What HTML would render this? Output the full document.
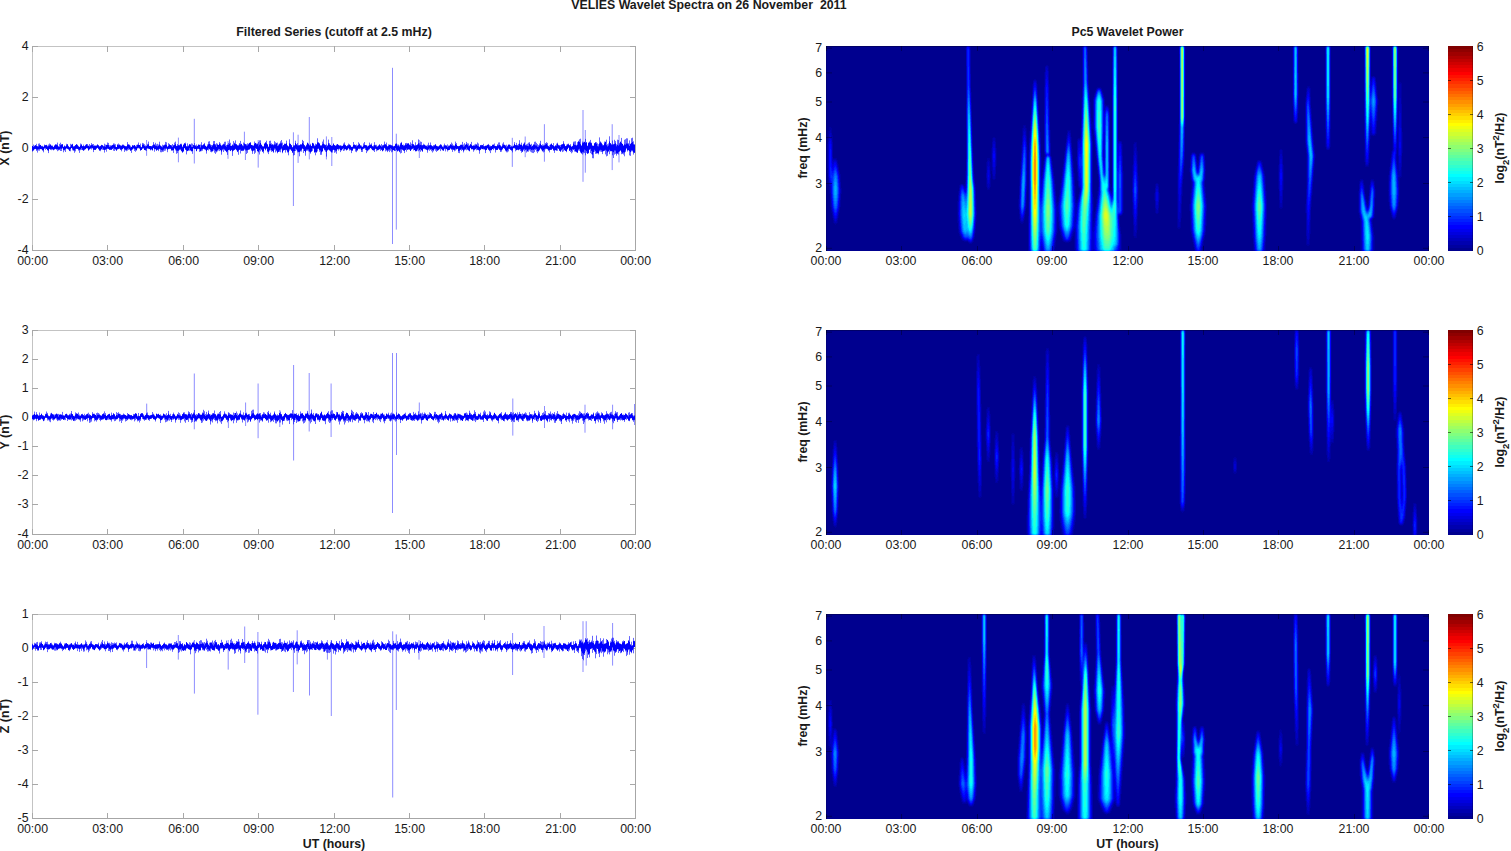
<!DOCTYPE html><html><head><meta charset="utf-8"><style>html,body{margin:0;padding:0;background:#fff;overflow:hidden}svg{display:block}text{font-family:"Liberation Sans",sans-serif;font-size:12.35px;fill:#1a1a1a}</style></head><body>
<svg width="1511" height="851" viewBox="0 0 1511 851">
<rect width="1511" height="851" fill="#fff"/>
<defs><filter id="jetf" x="-5%" y="-10%" width="110%" height="120%" color-interpolation-filters="sRGB"><feGaussianBlur stdDeviation="1.0 1.5"/><feComponentTransfer><feFuncR type="discrete" tableValues="0.0000 0.0000 0.0000 0.0000 0.0000 0.0000 0.0000 0.0000 0.0000 0.0000 0.0000 0.0000 0.0000 0.0000 0.0000 0.0000 0.0000 0.0000 0.0000 0.0000 0.0000 0.0000 0.0000 0.0000 0.0625 0.1250 0.1875 0.2500 0.3125 0.3750 0.4375 0.5000 0.5625 0.6250 0.6875 0.7500 0.8125 0.8750 0.9375 1.0000 1.0000 1.0000 1.0000 1.0000 1.0000 1.0000 1.0000 1.0000 1.0000 1.0000 1.0000 1.0000 1.0000 1.0000 1.0000 1.0000 0.9375 0.8750 0.8125 0.7500 0.6875 0.6250 0.5625 0.5000"/><feFuncG type="discrete" tableValues="0.0000 0.0000 0.0000 0.0000 0.0000 0.0000 0.0000 0.0000 0.0625 0.1250 0.1875 0.2500 0.3125 0.3750 0.4375 0.5000 0.5625 0.6250 0.6875 0.7500 0.8125 0.8750 0.9375 1.0000 1.0000 1.0000 1.0000 1.0000 1.0000 1.0000 1.0000 1.0000 1.0000 1.0000 1.0000 1.0000 1.0000 1.0000 1.0000 1.0000 0.9375 0.8750 0.8125 0.7500 0.6875 0.6250 0.5625 0.5000 0.4375 0.3750 0.3125 0.2500 0.1875 0.1250 0.0625 0.0000 0.0000 0.0000 0.0000 0.0000 0.0000 0.0000 0.0000 0.0000"/><feFuncB type="discrete" tableValues="0.5625 0.6250 0.6875 0.7500 0.8125 0.8750 0.9375 1.0000 1.0000 1.0000 1.0000 1.0000 1.0000 1.0000 1.0000 1.0000 1.0000 1.0000 1.0000 1.0000 1.0000 1.0000 1.0000 1.0000 0.9375 0.8750 0.8125 0.7500 0.6875 0.6250 0.5625 0.5000 0.4375 0.3750 0.3125 0.2500 0.1875 0.1250 0.0625 0.0000 0.0000 0.0000 0.0000 0.0000 0.0000 0.0000 0.0000 0.0000 0.0000 0.0000 0.0000 0.0000 0.0000 0.0000 0.0000 0.0000 0.0000 0.0000 0.0000 0.0000 0.0000 0.0000 0.0000 0.0000"/></feComponentTransfer></filter><linearGradient id="jetgrad" x1="0" y1="1" x2="0" y2="0"><stop offset="0.00000" stop-color="#00008f"/><stop offset="0.01562" stop-color="#00008f"/><stop offset="0.01562" stop-color="#00009f"/><stop offset="0.03125" stop-color="#00009f"/><stop offset="0.03125" stop-color="#0000af"/><stop offset="0.04688" stop-color="#0000af"/><stop offset="0.04688" stop-color="#0000bf"/><stop offset="0.06250" stop-color="#0000bf"/><stop offset="0.06250" stop-color="#0000cf"/><stop offset="0.07812" stop-color="#0000cf"/><stop offset="0.07812" stop-color="#0000df"/><stop offset="0.09375" stop-color="#0000df"/><stop offset="0.09375" stop-color="#0000ef"/><stop offset="0.10938" stop-color="#0000ef"/><stop offset="0.10938" stop-color="#0000ff"/><stop offset="0.12500" stop-color="#0000ff"/><stop offset="0.12500" stop-color="#0010ff"/><stop offset="0.14062" stop-color="#0010ff"/><stop offset="0.14062" stop-color="#0020ff"/><stop offset="0.15625" stop-color="#0020ff"/><stop offset="0.15625" stop-color="#0030ff"/><stop offset="0.17188" stop-color="#0030ff"/><stop offset="0.17188" stop-color="#0040ff"/><stop offset="0.18750" stop-color="#0040ff"/><stop offset="0.18750" stop-color="#0050ff"/><stop offset="0.20312" stop-color="#0050ff"/><stop offset="0.20312" stop-color="#0060ff"/><stop offset="0.21875" stop-color="#0060ff"/><stop offset="0.21875" stop-color="#0070ff"/><stop offset="0.23438" stop-color="#0070ff"/><stop offset="0.23438" stop-color="#0080ff"/><stop offset="0.25000" stop-color="#0080ff"/><stop offset="0.25000" stop-color="#008fff"/><stop offset="0.26562" stop-color="#008fff"/><stop offset="0.26562" stop-color="#009fff"/><stop offset="0.28125" stop-color="#009fff"/><stop offset="0.28125" stop-color="#00afff"/><stop offset="0.29688" stop-color="#00afff"/><stop offset="0.29688" stop-color="#00bfff"/><stop offset="0.31250" stop-color="#00bfff"/><stop offset="0.31250" stop-color="#00cfff"/><stop offset="0.32812" stop-color="#00cfff"/><stop offset="0.32812" stop-color="#00dfff"/><stop offset="0.34375" stop-color="#00dfff"/><stop offset="0.34375" stop-color="#00efff"/><stop offset="0.35938" stop-color="#00efff"/><stop offset="0.35938" stop-color="#00ffff"/><stop offset="0.37500" stop-color="#00ffff"/><stop offset="0.37500" stop-color="#10ffef"/><stop offset="0.39062" stop-color="#10ffef"/><stop offset="0.39062" stop-color="#20ffdf"/><stop offset="0.40625" stop-color="#20ffdf"/><stop offset="0.40625" stop-color="#30ffcf"/><stop offset="0.42188" stop-color="#30ffcf"/><stop offset="0.42188" stop-color="#40ffbf"/><stop offset="0.43750" stop-color="#40ffbf"/><stop offset="0.43750" stop-color="#50ffaf"/><stop offset="0.45312" stop-color="#50ffaf"/><stop offset="0.45312" stop-color="#60ff9f"/><stop offset="0.46875" stop-color="#60ff9f"/><stop offset="0.46875" stop-color="#70ff8f"/><stop offset="0.48438" stop-color="#70ff8f"/><stop offset="0.48438" stop-color="#80ff80"/><stop offset="0.50000" stop-color="#80ff80"/><stop offset="0.50000" stop-color="#8fff70"/><stop offset="0.51562" stop-color="#8fff70"/><stop offset="0.51562" stop-color="#9fff60"/><stop offset="0.53125" stop-color="#9fff60"/><stop offset="0.53125" stop-color="#afff50"/><stop offset="0.54688" stop-color="#afff50"/><stop offset="0.54688" stop-color="#bfff40"/><stop offset="0.56250" stop-color="#bfff40"/><stop offset="0.56250" stop-color="#cfff30"/><stop offset="0.57812" stop-color="#cfff30"/><stop offset="0.57812" stop-color="#dfff20"/><stop offset="0.59375" stop-color="#dfff20"/><stop offset="0.59375" stop-color="#efff10"/><stop offset="0.60938" stop-color="#efff10"/><stop offset="0.60938" stop-color="#ffff00"/><stop offset="0.62500" stop-color="#ffff00"/><stop offset="0.62500" stop-color="#ffef00"/><stop offset="0.64062" stop-color="#ffef00"/><stop offset="0.64062" stop-color="#ffdf00"/><stop offset="0.65625" stop-color="#ffdf00"/><stop offset="0.65625" stop-color="#ffcf00"/><stop offset="0.67188" stop-color="#ffcf00"/><stop offset="0.67188" stop-color="#ffbf00"/><stop offset="0.68750" stop-color="#ffbf00"/><stop offset="0.68750" stop-color="#ffaf00"/><stop offset="0.70312" stop-color="#ffaf00"/><stop offset="0.70312" stop-color="#ff9f00"/><stop offset="0.71875" stop-color="#ff9f00"/><stop offset="0.71875" stop-color="#ff8f00"/><stop offset="0.73438" stop-color="#ff8f00"/><stop offset="0.73438" stop-color="#ff8000"/><stop offset="0.75000" stop-color="#ff8000"/><stop offset="0.75000" stop-color="#ff7000"/><stop offset="0.76562" stop-color="#ff7000"/><stop offset="0.76562" stop-color="#ff6000"/><stop offset="0.78125" stop-color="#ff6000"/><stop offset="0.78125" stop-color="#ff5000"/><stop offset="0.79688" stop-color="#ff5000"/><stop offset="0.79688" stop-color="#ff4000"/><stop offset="0.81250" stop-color="#ff4000"/><stop offset="0.81250" stop-color="#ff3000"/><stop offset="0.82812" stop-color="#ff3000"/><stop offset="0.82812" stop-color="#ff2000"/><stop offset="0.84375" stop-color="#ff2000"/><stop offset="0.84375" stop-color="#ff1000"/><stop offset="0.85938" stop-color="#ff1000"/><stop offset="0.85938" stop-color="#ff0000"/><stop offset="0.87500" stop-color="#ff0000"/><stop offset="0.87500" stop-color="#ef0000"/><stop offset="0.89062" stop-color="#ef0000"/><stop offset="0.89062" stop-color="#df0000"/><stop offset="0.90625" stop-color="#df0000"/><stop offset="0.90625" stop-color="#cf0000"/><stop offset="0.92188" stop-color="#cf0000"/><stop offset="0.92188" stop-color="#bf0000"/><stop offset="0.93750" stop-color="#bf0000"/><stop offset="0.93750" stop-color="#af0000"/><stop offset="0.95312" stop-color="#af0000"/><stop offset="0.95312" stop-color="#9f0000"/><stop offset="0.96875" stop-color="#9f0000"/><stop offset="0.96875" stop-color="#8f0000"/><stop offset="0.98438" stop-color="#8f0000"/><stop offset="0.98438" stop-color="#800000"/><stop offset="1.00000" stop-color="#800000"/></linearGradient></defs>
<text x="709" y="9" text-anchor="middle" font-weight="bold">VELIES Wavelet Spectra on 26 November&#160; 2011</text>
<text x="334" y="36" text-anchor="middle" font-weight="bold">Filtered Series (cutoff at 2.5 mHz)</text>
<text x="1127.5" y="36" text-anchor="middle" font-weight="bold">Pc5 Wavelet Power</text>
<rect x="32" y="46" width="604" height="1" fill="#c3c3c3"/>
<rect x="32" y="46" width="1" height="205" fill="#c3c3c3"/>
<rect x="32" y="250" width="604" height="1" fill="#a6a6a6"/>
<rect x="635" y="46" width="1" height="205" fill="#a6a6a6"/>
<rect x="32" y="46" width="1" height="6" fill="#a8a8a8"/>
<rect x="32" y="245" width="1" height="6" fill="#a8a8a8"/>
<text x="32.6" y="265" text-anchor="middle">00:00</text>
<rect x="107" y="46" width="1" height="6" fill="#a8a8a8"/>
<rect x="107" y="245" width="1" height="6" fill="#a8a8a8"/>
<text x="107.6" y="265" text-anchor="middle">03:00</text>
<rect x="183" y="46" width="1" height="6" fill="#a8a8a8"/>
<rect x="183" y="245" width="1" height="6" fill="#a8a8a8"/>
<text x="183.6" y="265" text-anchor="middle">06:00</text>
<rect x="258" y="46" width="1" height="6" fill="#a8a8a8"/>
<rect x="258" y="245" width="1" height="6" fill="#a8a8a8"/>
<text x="258.6" y="265" text-anchor="middle">09:00</text>
<rect x="334" y="46" width="1" height="6" fill="#a8a8a8"/>
<rect x="334" y="245" width="1" height="6" fill="#a8a8a8"/>
<text x="334.6" y="265" text-anchor="middle">12:00</text>
<rect x="409" y="46" width="1" height="6" fill="#a8a8a8"/>
<rect x="409" y="245" width="1" height="6" fill="#a8a8a8"/>
<text x="409.6" y="265" text-anchor="middle">15:00</text>
<rect x="484" y="46" width="1" height="6" fill="#a8a8a8"/>
<rect x="484" y="245" width="1" height="6" fill="#a8a8a8"/>
<text x="484.6" y="265" text-anchor="middle">18:00</text>
<rect x="560" y="46" width="1" height="6" fill="#a8a8a8"/>
<rect x="560" y="245" width="1" height="6" fill="#a8a8a8"/>
<text x="560.6" y="265" text-anchor="middle">21:00</text>
<rect x="635" y="46" width="1" height="6" fill="#a8a8a8"/>
<rect x="635" y="245" width="1" height="6" fill="#a8a8a8"/>
<text x="635.6" y="265" text-anchor="middle">00:00</text>
<rect x="32" y="46" width="6" height="1" fill="#a8a8a8"/>
<rect x="630" y="46" width="6" height="1" fill="#a8a8a8"/>
<text x="28.5" y="50.2" text-anchor="end">4</text>
<rect x="32" y="97" width="6" height="1" fill="#a8a8a8"/>
<rect x="630" y="97" width="6" height="1" fill="#a8a8a8"/>
<text x="28.5" y="101.2" text-anchor="end">2</text>
<rect x="32" y="148" width="6" height="1" fill="#a8a8a8"/>
<rect x="630" y="148" width="6" height="1" fill="#a8a8a8"/>
<text x="28.5" y="152.2" text-anchor="end">0</text>
<rect x="32" y="199" width="6" height="1" fill="#a8a8a8"/>
<rect x="630" y="199" width="6" height="1" fill="#a8a8a8"/>
<text x="28.5" y="203.2" text-anchor="end">-2</text>
<rect x="32" y="250" width="6" height="1" fill="#a8a8a8"/>
<rect x="630" y="250" width="6" height="1" fill="#a8a8a8"/>
<text x="28.5" y="254.2" text-anchor="end">-4</text>
<path d="M32.5 146.0V151.6M33.5 144.6V150.5M34.5 145.6V149.4M35.5 145.0V148.9M36.5 143.8V150.9M37.5 146.3V152.6M38.5 143.7V150.6M39.5 143.4V150.7M40.5 144.9V149.2M41.5 145.9V149.4M42.5 145.8V150.7M43.5 146.7V152.3M44.5 144.5V148.8M45.5 145.2V149.8M46.5 144.8V149.0M47.5 145.7V150.2M48.5 144.5V153.1M49.5 143.5V149.1M50.5 144.3V149.6M51.5 145.6V150.2M52.5 145.5V149.4M53.5 146.8V150.4M54.5 145.3V149.8M55.5 144.3V149.1M56.5 144.2V149.5M57.5 142.6V151.2M58.5 146.3V150.5M59.5 143.9V150.1M60.5 142.7V151.0M61.5 144.2V151.0M62.5 144.3V148.6M63.5 146.8V152.3M64.5 145.4V150.6M65.5 146.2V152.0M66.5 143.8V148.6M67.5 144.0V148.9M68.5 145.9V149.7M69.5 147.0V151.1M70.5 143.8V151.3M71.5 144.6V148.1M72.5 143.8V150.3M73.5 146.3V150.7M74.5 145.9V152.8M75.5 145.0V151.4M76.5 144.0V148.8M77.5 144.7V149.0M78.5 145.9V150.6M79.5 146.8V152.9M80.5 143.5V150.2M81.5 143.9V149.9M82.5 146.2V150.1M83.5 144.6V150.9M84.5 146.2V150.2M85.5 144.8V149.3M86.5 144.2V148.4M87.5 144.0V148.3M88.5 145.7V150.5M89.5 144.0V149.5M90.5 145.4V148.6M91.5 143.1V149.5M92.5 144.1V148.5M93.5 144.0V152.1M94.5 145.5V149.9M95.5 145.5V149.8M96.5 145.3V148.6M97.5 144.6V147.9M98.5 145.4V149.3M99.5 146.4V150.6M100.5 145.8V151.2M101.5 144.8V149.5M102.5 145.1V149.8M103.5 145.9V150.0M104.5 143.7V152.6M105.5 144.6V149.6M106.5 144.8V151.7M107.5 142.5V148.7M108.5 142.9V148.9M109.5 145.3V149.8M110.5 145.2V149.9M111.5 145.7V150.0M112.5 144.9V149.1M113.5 143.4V150.7M114.5 143.6V151.0M115.5 144.2V149.4M116.5 147.0V150.8M117.5 144.4V149.4M118.5 143.5V149.1M119.5 144.4V148.8M120.5 145.0V149.8M121.5 145.6V151.3M122.5 144.5V149.3M123.5 144.6V148.2M124.5 145.6V151.9M125.5 146.1V150.5M126.5 146.3V151.2M127.5 142.1V150.6M128.5 144.3V149.9M129.5 144.6V149.4M130.5 145.7V150.9M131.5 146.8V152.9M132.5 145.2V149.4M133.5 145.6V148.4M134.5 145.0V151.0M135.5 145.9V151.8M136.5 144.9V150.3M137.5 144.4V148.4M138.5 142.5V148.3M139.5 145.0V148.7M140.5 143.6V150.5M141.5 146.9V150.0M142.5 142.9V148.7M143.5 143.3V148.3M144.5 144.2V150.0M145.5 145.4V150.5M146.5 145.9V150.9M147.5 143.8V148.4M148.5 141.6V149.1M149.5 145.9V149.1M150.5 146.0V150.4M151.5 146.1V149.4M152.5 145.0V150.6M153.5 142.1V148.2M154.5 144.3V151.7M155.5 142.8V149.3M156.5 144.4V150.7M157.5 143.8V149.8M158.5 144.6V151.1M159.5 141.7V149.2M160.5 145.7V152.2M161.5 146.5V152.3M162.5 144.7V151.9M163.5 145.3V151.7M164.5 144.6V150.8M165.5 141.9V150.6M166.5 142.3V148.6M167.5 146.6V152.2M168.5 143.2V149.2M169.5 143.9V149.1M170.5 145.0V148.9M171.5 145.0V150.5M172.5 144.0V150.6M173.5 145.2V152.9M174.5 142.6V148.8M175.5 141.6V150.4M176.5 145.8V153.8M177.5 144.0V153.1M178.5 145.0V150.9M179.5 144.8V150.2M180.5 143.8V150.1M181.5 143.7V151.4M182.5 146.4V152.9M183.5 144.6V151.7M184.5 143.2V148.3M185.5 142.6V149.9M186.5 146.2V154.4M187.5 143.4V151.2M188.5 145.4V150.7M189.5 144.2V150.7M190.5 144.5V150.8M191.5 143.4V151.3M192.5 143.7V153.8M193.5 145.0V148.5M194.5 143.1V148.9M195.5 145.3V149.1M196.5 144.5V151.3M197.5 145.9V149.3M198.5 144.7V149.0M199.5 144.7V151.9M200.5 144.5V151.4M201.5 142.2V151.2M202.5 145.0V150.7M203.5 144.2V148.7M204.5 142.9V149.4M205.5 145.6V150.2M206.5 146.7V153.6M207.5 144.4V149.8M208.5 141.6V150.5M209.5 141.2V149.3M210.5 144.3V151.8M211.5 145.0V152.3M212.5 144.9V151.6M213.5 141.1V150.7M214.5 141.0V152.7M215.5 144.1V153.9M216.5 143.2V152.4M217.5 143.7V151.4M218.5 144.9V150.5M219.5 142.1V151.1M220.5 143.4V150.3M221.5 145.3V154.7M222.5 144.6V150.3M223.5 143.7V152.0M224.5 141.8V150.3M225.5 141.7V150.9M226.5 145.0V152.3M227.5 144.4V154.9M228.5 142.9V150.1M229.5 139.5V150.3M230.5 142.8V151.1M231.5 145.7V150.2M232.5 144.4V155.9M233.5 141.1V150.8M234.5 142.7V150.0M235.5 140.4V149.3M236.5 144.3V150.4M237.5 145.2V152.1M238.5 144.8V154.8M239.5 143.0V150.0M240.5 140.9V153.5M241.5 143.8V150.9M242.5 145.0V151.1M243.5 142.5V150.8M244.5 143.4V149.1M245.5 144.2V150.6M246.5 144.2V154.0M247.5 143.3V152.9M248.5 143.7V150.0M249.5 142.8V149.4M250.5 142.0V148.8M251.5 144.9V150.8M252.5 145.3V153.9M253.5 145.4V150.9M254.5 141.5V153.9M255.5 142.9V152.7M256.5 143.5V148.9M257.5 143.5V151.4M258.5 141.9V152.4M259.5 140.4V154.5M260.5 140.3V151.4M261.5 144.6V150.2M262.5 145.9V151.9M263.5 146.5V153.3M264.5 143.6V148.5M265.5 142.1V150.4M266.5 140.7V148.7M267.5 144.3V152.4M268.5 146.6V154.1M269.5 140.9V151.3M270.5 140.7V150.4M271.5 143.3V151.9M272.5 144.0V151.3M273.5 144.5V152.8M274.5 141.2V149.8M275.5 142.3V152.4M276.5 142.9V151.3M277.5 142.6V153.3M278.5 144.5V151.9M279.5 143.4V151.8M280.5 141.3V152.3M281.5 140.0V149.5M282.5 142.6V153.2M283.5 145.1V150.6M284.5 143.5V150.1M285.5 143.7V152.6M286.5 140.6V150.3M287.5 145.1V152.6M288.5 146.1V155.3M289.5 139.3V150.6M290.5 143.9V149.8M291.5 145.0V150.9M292.5 147.1V153.0M293.5 145.2V155.5M294.5 145.4V155.1M295.5 140.7V151.0M296.5 144.4V150.2M297.5 143.1V152.4M298.5 145.3V152.3M299.5 145.1V156.3M300.5 144.1V151.5M301.5 144.5V151.6M302.5 139.9V149.0M303.5 141.1V153.0M304.5 145.0V151.1M305.5 146.5V155.7M306.5 144.6V150.9M307.5 142.8V150.7M308.5 143.5V151.4M309.5 145.0V152.1M310.5 143.8V153.7M311.5 145.9V151.7M312.5 142.8V150.9M313.5 143.1V148.9M314.5 145.3V152.6M315.5 143.7V155.3M316.5 144.1V152.8M317.5 138.3V151.4M318.5 142.0V148.6M319.5 143.0V151.8M320.5 145.2V154.8M321.5 145.1V154.8M322.5 141.6V151.5M323.5 139.5V148.6M324.5 144.3V150.3M325.5 144.8V151.8M326.5 144.5V156.6M327.5 145.3V150.7M328.5 139.6V149.6M329.5 143.2V150.5M330.5 144.8V151.7M331.5 145.9V152.3M332.5 145.5V152.5M333.5 143.4V149.8M334.5 145.1V152.8M335.5 145.6V152.3M336.5 144.5V153.7M337.5 144.0V149.2M338.5 144.8V150.6M339.5 145.4V149.3M340.5 145.2V152.1M341.5 145.6V150.5M342.5 145.9V149.4M343.5 143.5V151.0M344.5 142.4V150.6M345.5 144.9V149.4M346.5 146.0V150.5M347.5 145.4V149.9M348.5 143.6V148.5M349.5 144.5V150.6M350.5 145.3V150.2M351.5 146.9V153.1M352.5 146.5V150.9M353.5 142.0V148.9M354.5 144.4V148.9M355.5 145.0V151.6M356.5 144.6V152.2M357.5 145.6V150.6M358.5 142.3V148.8M359.5 143.5V149.2M360.5 145.5V149.2M361.5 145.5V152.0M362.5 146.7V151.9M363.5 143.4V148.8M364.5 142.0V148.6M365.5 145.0V150.0M366.5 145.1V153.1M367.5 145.8V151.4M368.5 145.6V150.3M369.5 142.6V149.5M370.5 144.6V148.1M371.5 143.4V149.2M372.5 146.0V150.2M373.5 145.4V150.9M374.5 142.2V152.0M375.5 144.8V148.7M376.5 144.8V151.3M377.5 146.3V150.5M378.5 145.6V150.1M379.5 144.4V149.3M380.5 145.6V150.9M381.5 144.0V150.0M382.5 145.0V151.4M383.5 144.8V150.5M384.5 141.6V148.3M385.5 144.2V151.4M386.5 142.6V150.7M387.5 146.2V152.1M388.5 144.4V150.9M389.5 144.7V152.1M390.5 144.6V150.7M391.5 145.1V152.3M392.5 145.6V151.7M393.5 146.4V150.2M394.5 145.8V151.0M395.5 143.7V151.0M396.5 143.4V150.1M397.5 144.5V151.5M398.5 144.5V150.9M399.5 145.5V152.2M400.5 142.9V153.5M401.5 141.9V152.9M402.5 144.8V149.8M403.5 144.6V150.8M404.5 145.4V153.1M405.5 143.0V150.0M406.5 142.9V151.7M407.5 143.4V149.9M408.5 143.2V149.7M409.5 144.5V149.6M410.5 142.3V151.0M411.5 143.7V149.5M412.5 140.3V148.9M413.5 144.4V150.5M414.5 145.3V150.1M415.5 142.3V151.5M416.5 145.1V151.3M417.5 144.1V150.5M418.5 139.4V151.3M419.5 143.3V150.3M420.5 141.5V151.8M421.5 141.9V150.3M422.5 145.0V151.8M423.5 143.7V148.7M424.5 144.7V149.2M425.5 145.3V149.4M426.5 145.6V149.7M427.5 144.8V152.7M428.5 142.7V150.1M429.5 145.3V150.8M430.5 142.5V150.0M431.5 145.2V151.2M432.5 146.1V152.5M433.5 145.1V151.3M434.5 144.9V149.4M435.5 144.3V150.8M436.5 145.8V151.9M437.5 146.2V150.8M438.5 146.2V150.2M439.5 145.5V149.3M440.5 144.4V151.1M441.5 144.7V149.4M442.5 146.5V150.5M443.5 145.5V150.7M444.5 143.6V149.2M445.5 145.0V151.4M446.5 145.7V149.1M447.5 144.4V151.5M448.5 145.5V150.2M449.5 145.7V150.0M450.5 144.4V148.8M451.5 142.5V149.9M452.5 143.7V151.9M453.5 145.2V150.0M454.5 145.5V151.3M455.5 141.6V150.6M456.5 143.1V149.6M457.5 145.9V148.9M458.5 146.1V152.9M459.5 145.8V153.2M460.5 144.7V149.8M461.5 144.6V150.8M462.5 141.9V150.0M463.5 144.5V152.4M464.5 143.2V150.4M465.5 144.5V149.7M466.5 141.9V150.3M467.5 143.3V150.0M468.5 143.5V150.4M469.5 145.7V151.4M470.5 143.9V148.2M471.5 141.9V149.4M472.5 145.8V149.4M473.5 145.2V151.7M474.5 144.6V150.3M475.5 143.8V149.3M476.5 144.5V150.3M477.5 142.5V149.7M478.5 143.5V150.3M479.5 146.8V153.7M480.5 145.2V150.1M481.5 144.9V149.1M482.5 145.0V149.2M483.5 143.8V149.5M484.5 146.3V149.5M485.5 145.7V153.1M486.5 145.7V149.9M487.5 144.7V148.4M488.5 143.9V149.9M489.5 145.1V151.2M490.5 145.7V153.1M491.5 146.0V150.3M492.5 144.6V149.1M493.5 144.4V150.1M494.5 143.5V148.4M495.5 145.9V152.5M496.5 146.2V150.1M497.5 144.2V149.8M498.5 142.5V148.8M499.5 142.4V149.8M500.5 145.1V152.0M501.5 146.5V151.7M502.5 143.6V149.7M503.5 142.3V148.1M504.5 144.6V148.9M505.5 145.1V151.2M506.5 144.7V152.3M507.5 145.7V152.3M508.5 144.6V151.4M509.5 144.4V149.0M510.5 145.1V149.9M511.5 145.8V150.4M512.5 146.5V152.4M513.5 145.7V148.2M514.5 142.1V148.5M515.5 145.0V151.3M516.5 142.9V150.2M517.5 144.9V149.7M518.5 143.9V150.3M519.5 140.2V149.5M520.5 144.5V151.0M521.5 142.7V152.8M522.5 145.5V152.0M523.5 143.7V150.4M524.5 142.3V151.3M525.5 145.1V150.2M526.5 144.3V152.6M527.5 143.7V151.4M528.5 142.7V151.7M529.5 142.2V150.4M530.5 144.8V151.6M531.5 143.8V152.4M532.5 145.8V152.9M533.5 144.4V153.1M534.5 141.8V152.1M535.5 141.6V150.0M536.5 142.9V151.6M537.5 144.1V153.2M538.5 145.1V151.5M539.5 143.5V150.5M540.5 140.8V148.5M541.5 145.0V150.2M542.5 144.3V151.5M543.5 144.7V152.4M544.5 144.8V151.7M545.5 143.0V149.4M546.5 142.2V148.8M547.5 142.9V149.4M548.5 145.9V150.6M549.5 145.3V152.4M550.5 144.2V150.0M551.5 143.6V150.0M552.5 145.0V148.9M553.5 143.1V150.8M554.5 146.5V152.9M555.5 145.2V150.3M556.5 143.6V150.5M557.5 142.7V150.8M558.5 144.8V148.9M559.5 145.4V151.0M560.5 145.0V151.8M561.5 144.3V150.5M562.5 144.2V152.1M563.5 141.2V151.4M564.5 143.8V150.3M565.5 146.1V151.0M566.5 144.6V152.2M567.5 143.9V149.2M568.5 143.6V147.8M569.5 145.1V151.0M570.5 144.1V152.0M571.5 146.5V153.3M572.5 145.8V152.3M573.5 141.7V150.1M574.5 141.5V151.5M575.5 141.3V151.8M576.5 144.8V152.4M577.5 142.1V152.9M578.5 140.8V150.6M579.5 139.3V150.8M580.5 138.7V152.7M581.5 145.6V153.7M582.5 141.6V154.6M583.5 141.8V153.3M584.5 141.7V153.1M585.5 138.9V155.3M586.5 142.0V153.0M587.5 145.5V153.9M588.5 142.5V153.4M589.5 141.5V150.0M590.5 139.9V153.1M591.5 142.7V154.2M592.5 145.7V158.2M593.5 145.6V158.3M594.5 143.0V151.7M595.5 142.3V153.9M596.5 142.2V153.8M597.5 143.3V153.4M598.5 144.2V154.4M599.5 137.4V151.5M600.5 141.4V151.6M601.5 142.6V152.0M602.5 144.2V154.1M603.5 145.0V151.3M604.5 141.5V151.0M605.5 141.6V154.4M606.5 139.7V156.4M607.5 144.2V155.8M608.5 143.4V151.5M609.5 136.3V154.2M610.5 143.2V151.4M611.5 144.0V151.2M612.5 140.5V155.3M613.5 143.9V158.0M614.5 139.8V154.6M615.5 141.1V153.9M616.5 144.3V155.6M617.5 139.7V153.8M618.5 140.0V154.6M619.5 143.0V151.6M620.5 141.6V150.5M621.5 137.9V154.2M622.5 143.9V154.0M623.5 145.5V154.6M624.5 139.8V156.3M625.5 139.2V152.1M626.5 138.3V148.8M627.5 138.4V151.5M628.5 143.2V150.2M629.5 140.4V155.4M630.5 143.6V155.9M631.5 138.2V151.4M632.5 137.7V151.4M633.5 141.3V154.6M634.5 144.4V152.9" fill="none" stroke="#0000ff" stroke-opacity="0.6" stroke-width="1"/><path d="M32.5 146.0V150.8M33.5 147.0V150.3M34.5 146.2V149.1M35.5 145.3V148.7M36.5 146.0V149.5M37.5 146.4V149.6M38.5 146.5V149.1M39.5 145.3V148.9M40.5 145.1V149.0M41.5 146.4V149.0M42.5 146.5V150.0M43.5 146.9V150.4M44.5 145.5V148.1M45.5 145.3V147.9M46.5 145.2V148.9M47.5 146.6V150.2M48.5 146.2V150.7M49.5 145.5V148.9M50.5 144.8V149.4M51.5 145.8V148.9M52.5 146.3V149.3M53.5 147.1V149.8M54.5 145.8V149.0M55.5 144.7V148.8M56.5 145.1V149.3M57.5 145.3V149.1M58.5 146.7V149.6M59.5 146.9V149.3M60.5 145.2V148.6M61.5 144.8V148.8M62.5 144.3V147.8M63.5 146.9V149.9M64.5 146.2V149.8M65.5 146.7V149.2M66.5 145.4V148.2M67.5 144.7V148.7M68.5 146.5V149.2M69.5 147.4V150.7M70.5 146.7V149.1M71.5 144.8V148.0M72.5 144.3V148.7M73.5 146.7V150.2M74.5 146.4V150.5M75.5 145.3V148.9M76.5 144.4V148.6M77.5 145.3V148.9M78.5 146.6V149.5M79.5 147.0V150.0M80.5 145.6V149.1M81.5 145.0V148.0M82.5 146.2V149.7M83.5 146.1V150.4M84.5 146.3V149.5M85.5 145.5V149.0M86.5 144.4V148.0M87.5 145.6V148.3M88.5 145.9V150.3M89.5 146.6V149.2M90.5 145.6V148.4M91.5 145.1V147.8M92.5 145.1V148.0M93.5 146.1V149.8M94.5 145.8V149.7M95.5 145.9V149.8M96.5 145.9V148.5M97.5 144.6V147.8M98.5 145.4V148.8M99.5 146.5V150.4M100.5 146.2V150.0M101.5 145.1V149.0M102.5 145.4V147.7M103.5 146.5V149.4M104.5 146.3V150.0M105.5 146.8V149.6M106.5 145.0V149.0M107.5 144.9V148.5M108.5 145.1V148.9M109.5 147.0V149.7M110.5 146.5V149.6M111.5 145.7V149.6M112.5 145.2V148.7M113.5 144.7V147.9M114.5 145.2V148.8M115.5 146.7V149.3M116.5 147.1V150.4M117.5 144.8V149.2M118.5 145.3V148.8M119.5 145.1V148.4M120.5 146.1V149.5M121.5 145.9V149.7M122.5 145.2V149.0M123.5 145.3V148.2M124.5 145.9V149.3M125.5 146.4V149.7M126.5 146.4V149.9M127.5 144.7V148.9M128.5 144.6V148.3M129.5 145.3V149.3M130.5 147.4V150.5M131.5 147.0V150.1M132.5 145.5V149.3M133.5 145.7V148.4M134.5 145.1V148.8M135.5 146.7V149.5M136.5 146.8V150.3M137.5 145.1V148.2M138.5 144.8V147.7M139.5 145.0V148.3M140.5 146.5V150.4M141.5 147.3V150.0M142.5 144.7V148.4M143.5 144.6V148.3M144.5 146.0V149.9M145.5 146.5V150.1M146.5 146.2V148.8M147.5 145.1V148.3M148.5 144.3V148.4M149.5 146.0V149.0M150.5 146.1V149.7M151.5 146.4V149.3M152.5 146.2V150.1M153.5 144.6V148.1M154.5 144.9V149.0M155.5 145.7V149.1M156.5 146.1V150.4M157.5 146.4V149.6M158.5 146.0V149.5M159.5 144.6V148.7M160.5 145.7V149.3M161.5 146.6V150.0M162.5 147.3V150.5M163.5 145.7V149.7M164.5 145.2V148.6M165.5 144.6V148.7M166.5 145.1V148.5M167.5 146.7V149.8M168.5 146.0V148.9M169.5 144.8V148.6M170.5 145.2V148.6M171.5 146.2V150.3M172.5 147.1V150.2M173.5 145.5V150.1M174.5 145.0V148.0M175.5 144.2V149.1M176.5 146.1V150.6M177.5 145.8V150.8M178.5 145.5V150.4M179.5 145.5V149.3M180.5 144.3V148.9M181.5 144.7V150.9M182.5 147.2V152.0M183.5 144.8V151.2M184.5 143.5V148.0M185.5 143.9V149.4M186.5 146.5V150.5M187.5 146.4V151.0M188.5 146.2V150.2M189.5 144.4V148.2M190.5 144.7V150.0M191.5 146.8V151.2M192.5 147.0V151.1M193.5 145.2V148.2M194.5 145.3V148.9M195.5 145.9V149.0M196.5 146.5V151.0M197.5 145.9V148.7M198.5 144.7V148.6M199.5 145.0V149.1M200.5 147.5V151.1M201.5 145.3V149.6M202.5 145.6V149.1M203.5 144.7V148.7M204.5 144.3V149.1M205.5 146.0V149.4M206.5 146.8V151.1M207.5 145.8V149.7M208.5 144.3V148.4M209.5 144.0V149.1M210.5 145.4V149.9M211.5 146.9V151.3M212.5 145.7V151.1M213.5 144.1V149.0M214.5 144.2V149.7M215.5 145.3V150.8M216.5 147.0V151.3M217.5 144.8V150.1M218.5 145.0V148.9M219.5 143.8V149.0M220.5 145.0V150.1M221.5 146.1V151.6M222.5 145.3V149.3M223.5 144.4V148.8M224.5 144.3V149.3M225.5 145.9V150.5M226.5 146.7V151.7M227.5 145.0V151.3M228.5 144.9V150.0M229.5 143.8V149.6M230.5 146.0V150.8M231.5 146.0V149.8M232.5 145.2V151.4M233.5 145.5V150.3M234.5 143.5V149.7M235.5 144.1V148.8M236.5 144.4V149.8M237.5 145.6V151.5M238.5 145.9V150.6M239.5 144.5V149.6M240.5 144.5V149.6M241.5 144.1V150.6M242.5 146.1V150.4M243.5 146.2V150.4M244.5 143.8V148.5M245.5 144.3V149.5M246.5 145.5V150.4M247.5 145.5V150.1M248.5 144.5V149.5M249.5 143.1V149.3M250.5 143.1V148.1M251.5 145.0V149.7M252.5 145.5V151.3M253.5 145.9V150.3M254.5 143.8V150.3M255.5 143.1V148.1M256.5 144.4V148.8M257.5 144.2V151.0M258.5 146.3V151.6M259.5 144.7V150.1M260.5 143.0V148.5M261.5 144.9V149.3M262.5 146.5V151.4M263.5 146.6V151.3M264.5 143.7V148.5M265.5 142.8V149.6M266.5 143.3V148.3M267.5 144.5V151.1M268.5 146.9V151.9M269.5 144.2V150.0M270.5 143.9V148.2M271.5 144.9V150.1M272.5 144.8V150.9M273.5 145.3V151.8M274.5 144.4V148.4M275.5 144.5V148.7M276.5 143.5V150.3M277.5 146.1V152.3M278.5 145.6V151.8M279.5 144.2V150.4M280.5 143.3V149.5M281.5 143.3V148.4M282.5 146.4V152.1M283.5 145.2V150.3M284.5 144.1V149.9M285.5 144.0V149.8M286.5 143.4V149.8M287.5 146.0V151.5M288.5 146.8V152.2M289.5 143.4V149.2M290.5 143.9V149.1M291.5 145.4V150.5M292.5 147.4V152.3M293.5 146.3V151.0M294.5 145.5V151.0M295.5 143.0V148.7M296.5 144.5V149.1M297.5 145.5V150.7M298.5 145.5V151.8M299.5 145.4V151.9M300.5 144.8V150.6M301.5 144.6V149.8M302.5 143.0V148.1M303.5 144.1V149.0M304.5 145.5V151.0M305.5 146.6V152.2M306.5 145.4V149.6M307.5 142.8V149.5M308.5 144.3V149.5M309.5 145.8V151.2M310.5 145.2V152.4M311.5 146.1V151.4M312.5 143.1V148.3M313.5 144.1V148.1M314.5 146.2V152.2M315.5 145.7V151.9M316.5 144.8V152.0M317.5 142.5V148.9M318.5 143.0V148.6M319.5 143.9V150.0M320.5 145.8V150.6M321.5 145.9V152.3M322.5 144.2V151.2M323.5 143.6V148.0M324.5 144.7V149.6M325.5 145.3V150.3M326.5 146.9V152.0M327.5 145.8V150.0M328.5 143.3V149.4M329.5 144.7V150.2M330.5 145.2V150.8M331.5 146.0V152.3M332.5 145.7V150.4M333.5 143.9V149.7M334.5 145.2V150.1M335.5 145.9V150.5M336.5 145.4V150.8M337.5 144.3V149.2M338.5 145.2V148.9M339.5 145.8V148.5M340.5 145.8V150.1M341.5 146.2V150.1M342.5 145.9V148.8M343.5 144.9V148.2M344.5 144.5V149.3M345.5 145.3V149.0M346.5 146.3V150.1M347.5 145.6V149.3M348.5 145.3V148.2M349.5 144.7V149.1M350.5 145.6V149.5M351.5 146.9V150.5M352.5 147.0V150.2M353.5 145.0V148.3M354.5 144.9V148.3M355.5 145.4V148.8M356.5 146.5V150.5M357.5 145.7V150.2M358.5 145.1V148.6M359.5 144.2V148.5M360.5 145.5V148.0M361.5 146.6V150.1M362.5 146.9V149.3M363.5 145.7V148.6M364.5 144.9V147.9M365.5 145.2V148.4M366.5 145.6V150.0M367.5 146.9V150.5M368.5 145.9V149.5M369.5 145.2V148.7M370.5 144.8V148.0M371.5 144.8V148.5M372.5 146.4V150.0M373.5 146.6V150.0M374.5 145.1V149.8M375.5 145.5V148.7M376.5 146.6V149.1M377.5 146.7V150.0M378.5 145.7V149.7M379.5 144.7V149.1M380.5 145.7V148.7M381.5 146.7V149.6M382.5 146.2V150.9M383.5 145.4V150.0M384.5 144.5V147.8M385.5 144.5V148.8M386.5 145.3V149.8M387.5 146.5V150.6M388.5 145.9V149.5M389.5 144.9V149.5M390.5 145.2V148.2M391.5 145.6V148.9M392.5 145.8V150.2M393.5 146.5V150.0M394.5 146.1V150.5M395.5 144.3V148.0M396.5 143.8V149.6M397.5 146.1V151.1M398.5 145.6V150.3M399.5 146.8V151.6M400.5 144.4V149.5M401.5 143.0V149.2M402.5 145.0V149.6M403.5 146.1V150.3M404.5 145.6V150.8M405.5 144.4V149.8M406.5 144.7V148.5M407.5 143.7V149.6M408.5 143.6V149.0M409.5 145.1V149.4M410.5 145.3V150.9M411.5 146.1V149.4M412.5 144.2V148.6M413.5 144.4V148.3M414.5 145.7V150.0M415.5 145.5V151.0M416.5 145.3V150.9M417.5 145.0V149.2M418.5 143.3V148.3M419.5 145.3V150.1M420.5 144.9V149.0M421.5 145.3V150.2M422.5 145.5V151.2M423.5 145.1V148.6M424.5 144.8V148.3M425.5 145.9V149.1M426.5 146.2V149.6M427.5 146.6V150.3M428.5 145.6V149.0M429.5 145.5V148.5M430.5 145.1V149.0M431.5 145.7V149.1M432.5 146.4V150.0M433.5 146.4V150.2M434.5 145.7V148.8M435.5 144.5V148.6M436.5 145.9V149.4M437.5 146.5V150.5M438.5 146.7V149.8M439.5 145.6V148.9M440.5 144.6V148.3M441.5 145.4V148.9M442.5 146.8V149.9M443.5 147.3V150.5M444.5 145.4V148.4M445.5 145.7V148.6M446.5 145.7V149.1M447.5 147.2V150.0M448.5 146.4V150.1M449.5 145.7V149.7M450.5 144.5V148.2M451.5 145.2V148.9M452.5 145.7V149.4M453.5 146.1V149.5M454.5 146.1V149.9M455.5 144.1V148.6M456.5 144.9V149.0M457.5 146.1V148.7M458.5 146.4V150.9M459.5 146.0V150.6M460.5 145.2V149.6M461.5 144.9V148.7M462.5 145.2V149.5M463.5 146.7V150.8M464.5 146.3V149.5M465.5 144.9V149.1M466.5 144.1V147.7M467.5 145.1V149.0M468.5 146.3V150.2M469.5 145.7V150.9M470.5 144.4V147.9M471.5 145.1V149.1M472.5 145.9V149.0M473.5 145.8V149.8M474.5 145.9V149.6M475.5 145.4V148.9M476.5 144.6V148.2M477.5 145.8V149.6M478.5 146.3V149.9M479.5 146.9V150.7M480.5 145.4V149.6M481.5 145.4V148.4M482.5 145.2V149.0M483.5 146.2V148.7M484.5 146.3V149.2M485.5 145.9V150.4M486.5 145.7V149.8M487.5 145.0V148.2M488.5 144.8V149.4M489.5 146.5V150.3M490.5 146.5V150.0M491.5 146.1V150.1M492.5 145.1V149.0M493.5 144.9V148.4M494.5 145.9V148.3M495.5 146.1V149.7M496.5 146.3V149.8M497.5 145.3V149.8M498.5 145.4V148.2M499.5 145.0V149.5M500.5 146.1V150.3M501.5 146.7V150.1M502.5 145.5V148.9M503.5 144.7V148.0M504.5 145.0V148.4M505.5 146.1V150.0M506.5 147.4V150.9M507.5 146.5V150.3M508.5 144.8V148.8M509.5 144.9V148.7M510.5 146.9V149.6M511.5 146.6V150.4M512.5 146.7V150.2M513.5 145.8V148.2M514.5 144.0V147.9M515.5 145.2V148.8M516.5 145.2V150.1M517.5 145.6V149.6M518.5 145.6V149.8M519.5 143.7V149.2M520.5 144.9V149.2M521.5 144.9V150.6M522.5 146.3V151.5M523.5 144.5V149.4M524.5 143.3V148.8M525.5 145.5V149.6M526.5 145.5V149.5M527.5 145.9V151.3M528.5 146.2V149.6M529.5 143.8V149.1M530.5 144.8V149.2M531.5 146.7V150.0M532.5 145.9V149.7M533.5 144.8V149.9M534.5 144.6V149.1M535.5 145.4V148.6M536.5 145.5V148.9M537.5 146.8V151.0M538.5 146.7V151.2M539.5 145.5V149.7M540.5 143.9V148.3M541.5 145.4V149.0M542.5 146.1V150.8M543.5 145.9V150.3M544.5 145.6V149.1M545.5 144.5V148.5M546.5 143.9V148.6M547.5 145.4V148.9M548.5 146.3V150.3M549.5 147.0V150.1M550.5 144.9V149.7M551.5 143.8V149.5M552.5 145.1V148.5M553.5 145.9V149.9M554.5 146.5V150.5M555.5 145.8V150.0M556.5 145.7V150.4M557.5 143.8V148.1M558.5 145.4V148.6M559.5 145.6V150.4M560.5 146.9V151.3M561.5 144.9V149.7M562.5 144.3V148.9M563.5 143.5V148.2M564.5 144.6V149.7M565.5 146.2V150.8M566.5 146.0V151.2M567.5 144.8V149.2M568.5 144.4V147.6M569.5 145.4V150.6M570.5 145.7V149.8M571.5 146.9V150.8M572.5 146.2V149.2M573.5 143.6V149.4M574.5 144.8V149.1M575.5 145.1V151.2M576.5 145.8V151.8M577.5 144.8V152.5M578.5 141.7V149.4M579.5 142.1V148.8M580.5 144.2V151.7M581.5 145.7V153.1M582.5 143.3V151.9M583.5 143.0V151.8M584.5 142.0V149.6M585.5 143.0V150.1M586.5 142.7V151.2M587.5 146.1V153.5M588.5 143.2V152.9M589.5 142.4V149.2M590.5 142.6V148.8M591.5 143.3V150.9M592.5 145.7V154.6M593.5 146.0V152.0M594.5 143.5V149.8M595.5 142.5V150.9M596.5 143.8V152.8M597.5 146.2V153.1M598.5 146.4V153.2M599.5 143.4V150.4M600.5 142.3V149.8M601.5 143.4V150.3M602.5 145.4V151.6M603.5 145.5V151.0M604.5 143.4V150.3M605.5 142.0V149.8M606.5 145.2V150.7M607.5 146.5V152.6M608.5 145.6V151.3M609.5 141.4V149.8M610.5 143.3V150.9M611.5 145.1V151.1M612.5 144.6V151.4M613.5 144.6V152.2M614.5 144.0V150.5M615.5 143.3V150.6M616.5 146.3V153.4M617.5 144.9V153.4M618.5 145.7V152.1M619.5 144.5V151.3M620.5 141.9V150.4M621.5 143.0V151.8M622.5 143.9V152.9M623.5 145.7V152.4M624.5 144.3V152.5M625.5 144.6V150.5M626.5 143.5V148.1M627.5 143.6V150.2M628.5 144.4V150.2M629.5 145.9V151.1M630.5 144.1V152.1M631.5 143.0V150.3M632.5 142.1V150.4M633.5 144.3V152.4M634.5 144.7V152.7" fill="none" stroke="#0000ff" stroke-width="1"/><path d="M146.6 140.0V155.8M178.4 137.6V162.3M194.3 118.8V163.5M228.0 141.0V158.8M244.4 131.7V150.0M245.4 145.0V160.0M258.2 140.0V167.6M293.4 132.3V206.0M298.1 134.7V162.9M309.3 117.0V159.4M326.4 136.4V159.4M331.8 137.0V166.0M392.5 67.8V244.0M396.3 133.7V229.6M419.3 140.0V158.0M512.3 137.8V166.9M525.2 136.5V157.2M544.4 124.2V161.7M583.0 110.0V181.8M585.3 130.0V172.7M612.2 124.2V170.1M619.0 135.0V162.4" fill="none" stroke="#0000ff" stroke-opacity="0.45" stroke-width="1"/>
<text transform="translate(9,148) rotate(-90)" text-anchor="middle" font-weight="bold">X (nT)</text>
<defs><linearGradient id="g0_0" gradientUnits="userSpaceOnUse" x1="0" y1="123" x2="0" y2="186"><stop offset="0.000" stop-color="#000000"/><stop offset="0.365" stop-color="#343434"/><stop offset="0.841" stop-color="#3d3d3d"/><stop offset="1.000" stop-color="#191919"/></linearGradient><linearGradient id="g0_1" gradientUnits="userSpaceOnUse" x1="0" y1="159" x2="0" y2="224"><stop offset="0.000" stop-color="#161616"/><stop offset="0.262" stop-color="#444444"/><stop offset="0.492" stop-color="#525252"/><stop offset="0.723" stop-color="#3f3f3f"/><stop offset="1.000" stop-color="#0f0f0f"/></linearGradient><linearGradient id="g0_2" gradientUnits="userSpaceOnUse" x1="0" y1="46" x2="0" y2="243"><stop offset="0.000" stop-color="#535353"/><stop offset="0.203" stop-color="#636363"/><stop offset="0.365" stop-color="#828282"/><stop offset="0.508" stop-color="#9a9a9a"/><stop offset="0.660" stop-color="#979797"/><stop offset="0.731" stop-color="#9c9c9c"/><stop offset="0.853" stop-color="#999999"/><stop offset="0.924" stop-color="#727272"/><stop offset="0.975" stop-color="#3c3c3c"/><stop offset="1.000" stop-color="#0d0d0d"/></linearGradient><linearGradient id="g0_3" gradientUnits="userSpaceOnUse" x1="0" y1="185" x2="0" y2="240"><stop offset="0.000" stop-color="#232323"/><stop offset="0.200" stop-color="#474747"/><stop offset="0.527" stop-color="#585858"/><stop offset="0.836" stop-color="#505050"/><stop offset="1.000" stop-color="#222222"/></linearGradient><linearGradient id="g0_4" gradientUnits="userSpaceOnUse" x1="0" y1="137" x2="0" y2="180"><stop offset="0.000" stop-color="#131313"/><stop offset="0.442" stop-color="#3d3d3d"/><stop offset="1.000" stop-color="#131313"/></linearGradient><linearGradient id="g0_5" gradientUnits="userSpaceOnUse" x1="0" y1="158" x2="0" y2="190"><stop offset="0.000" stop-color="#131313"/><stop offset="0.562" stop-color="#333333"/><stop offset="1.000" stop-color="#131313"/></linearGradient><linearGradient id="g0_6" gradientUnits="userSpaceOnUse" x1="0" y1="125" x2="0" y2="223"><stop offset="0.000" stop-color="#131313"/><stop offset="0.265" stop-color="#454545"/><stop offset="0.571" stop-color="#585858"/><stop offset="0.827" stop-color="#4f4f4f"/><stop offset="1.000" stop-color="#0f0f0f"/></linearGradient><linearGradient id="g0_7" gradientUnits="userSpaceOnUse" x1="0" y1="80" x2="0" y2="252"><stop offset="0.000" stop-color="#1f1f1f"/><stop offset="0.122" stop-color="#737373"/><stop offset="0.267" stop-color="#a1a1a1"/><stop offset="0.384" stop-color="#c2c2c2"/><stop offset="0.471" stop-color="#cacaca"/><stop offset="0.581" stop-color="#cacaca"/><stop offset="0.645" stop-color="#bfbfbf"/><stop offset="0.779" stop-color="#a8a8a8"/><stop offset="0.907" stop-color="#868686"/><stop offset="1.000" stop-color="#707070"/></linearGradient><linearGradient id="g0_8" gradientUnits="userSpaceOnUse" x1="0" y1="66" x2="0" y2="154"><stop offset="0.000" stop-color="#1f1f1f"/><stop offset="0.227" stop-color="#3d3d3d"/><stop offset="0.682" stop-color="#4d4d4d"/><stop offset="1.000" stop-color="#555555"/></linearGradient><linearGradient id="g0_9" gradientUnits="userSpaceOnUse" x1="0" y1="156" x2="0" y2="252"><stop offset="0.000" stop-color="#5f5f5f"/><stop offset="0.260" stop-color="#707070"/><stop offset="0.573" stop-color="#818181"/><stop offset="0.781" stop-color="#727272"/><stop offset="0.917" stop-color="#545454"/><stop offset="1.000" stop-color="#434343"/></linearGradient><linearGradient id="g0_10" gradientUnits="userSpaceOnUse" x1="0" y1="130" x2="0" y2="241"><stop offset="0.000" stop-color="#131313"/><stop offset="0.234" stop-color="#555555"/><stop offset="0.459" stop-color="#6b6b6b"/><stop offset="0.685" stop-color="#747474"/><stop offset="0.865" stop-color="#636363"/><stop offset="1.000" stop-color="#222222"/></linearGradient><linearGradient id="g0_11" gradientUnits="userSpaceOnUse" x1="0" y1="46" x2="0" y2="252"><stop offset="0.000" stop-color="#666666"/><stop offset="0.175" stop-color="#606060"/><stop offset="0.291" stop-color="#7f7f7f"/><stop offset="0.476" stop-color="#aaaaaa"/><stop offset="0.689" stop-color="#9f9f9f"/><stop offset="0.777" stop-color="#7d7d7d"/><stop offset="0.874" stop-color="#727272"/><stop offset="1.000" stop-color="#626262"/></linearGradient><linearGradient id="g0_12" gradientUnits="userSpaceOnUse" x1="0" y1="139" x2="0" y2="188"><stop offset="0.000" stop-color="#1f1f1f"/><stop offset="0.449" stop-color="#414141"/><stop offset="1.000" stop-color="#1f1f1f"/></linearGradient><linearGradient id="g0_13" gradientUnits="userSpaceOnUse" x1="0" y1="89" x2="0" y2="191"><stop offset="0.000" stop-color="#3a3a3a"/><stop offset="0.108" stop-color="#6d6d6d"/><stop offset="0.363" stop-color="#787878"/><stop offset="0.657" stop-color="#6e6e6e"/><stop offset="0.882" stop-color="#666666"/><stop offset="1.000" stop-color="#6a6a6a"/></linearGradient><linearGradient id="g0_14" gradientUnits="userSpaceOnUse" x1="0" y1="176" x2="0" y2="252"><stop offset="0.000" stop-color="#444444"/><stop offset="0.263" stop-color="#767676"/><stop offset="0.513" stop-color="#999999"/><stop offset="0.789" stop-color="#808080"/><stop offset="1.000" stop-color="#666666"/></linearGradient><linearGradient id="g0_15" gradientUnits="userSpaceOnUse" x1="0" y1="106" x2="0" y2="188"><stop offset="0.000" stop-color="#1f1f1f"/><stop offset="0.098" stop-color="#575757"/><stop offset="0.488" stop-color="#828282"/><stop offset="1.000" stop-color="#737373"/></linearGradient><linearGradient id="g0_16" gradientUnits="userSpaceOnUse" x1="0" y1="46" x2="0" y2="246"><stop offset="0.000" stop-color="#999999"/><stop offset="0.300" stop-color="#adadad"/><stop offset="0.700" stop-color="#a5a5a5"/><stop offset="0.765" stop-color="#878787"/><stop offset="0.875" stop-color="#686868"/><stop offset="1.000" stop-color="#525252"/></linearGradient><linearGradient id="g0_17" gradientUnits="userSpaceOnUse" x1="0" y1="142" x2="0" y2="214"><stop offset="0.000" stop-color="#292929"/><stop offset="0.472" stop-color="#444444"/><stop offset="1.000" stop-color="#3d3d3d"/></linearGradient><linearGradient id="g0_18" gradientUnits="userSpaceOnUse" x1="0" y1="142" x2="0" y2="238"><stop offset="0.000" stop-color="#131313"/><stop offset="0.500" stop-color="#444444"/><stop offset="1.000" stop-color="#131313"/></linearGradient><linearGradient id="g0_19" gradientUnits="userSpaceOnUse" x1="0" y1="183" x2="0" y2="214"><stop offset="0.000" stop-color="#131313"/><stop offset="0.419" stop-color="#333333"/><stop offset="1.000" stop-color="#131313"/></linearGradient><linearGradient id="g0_20" gradientUnits="userSpaceOnUse" x1="0" y1="46" x2="0" y2="228"><stop offset="0.000" stop-color="#f9f9f9"/><stop offset="0.396" stop-color="#e9e9e9"/><stop offset="0.440" stop-color="#737373"/><stop offset="0.604" stop-color="#4b4b4b"/><stop offset="0.769" stop-color="#262626"/><stop offset="1.000" stop-color="#141414"/></linearGradient><linearGradient id="g0_21" gradientUnits="userSpaceOnUse" x1="0" y1="154" x2="0" y2="181"><stop offset="0.000" stop-color="#3a3a3a"/><stop offset="0.630" stop-color="#5b5b5b"/><stop offset="1.000" stop-color="#555555"/></linearGradient><linearGradient id="g0_22" gradientUnits="userSpaceOnUse" x1="0" y1="154" x2="0" y2="181"><stop offset="0.000" stop-color="#3a3a3a"/><stop offset="0.630" stop-color="#5b5b5b"/><stop offset="1.000" stop-color="#555555"/></linearGradient><linearGradient id="g0_23" gradientUnits="userSpaceOnUse" x1="0" y1="176" x2="0" y2="252"><stop offset="0.000" stop-color="#585858"/><stop offset="0.395" stop-color="#828282"/><stop offset="0.724" stop-color="#696969"/><stop offset="0.908" stop-color="#393939"/><stop offset="1.000" stop-color="#242424"/></linearGradient><linearGradient id="g0_24" gradientUnits="userSpaceOnUse" x1="0" y1="161" x2="0" y2="252"><stop offset="0.000" stop-color="#1f1f1f"/><stop offset="0.165" stop-color="#525252"/><stop offset="0.495" stop-color="#7c7c7c"/><stop offset="0.824" stop-color="#5e5e5e"/><stop offset="1.000" stop-color="#444444"/></linearGradient><linearGradient id="g0_25" gradientUnits="userSpaceOnUse" x1="0" y1="46" x2="0" y2="123"><stop offset="0.000" stop-color="#999999"/><stop offset="0.649" stop-color="#828282"/><stop offset="1.000" stop-color="#292929"/></linearGradient><linearGradient id="g0_26" gradientUnits="userSpaceOnUse" x1="0" y1="87" x2="0" y2="245"><stop offset="0.000" stop-color="#1f1f1f"/><stop offset="0.120" stop-color="#454545"/><stop offset="0.348" stop-color="#5b5b5b"/><stop offset="0.437" stop-color="#5b5b5b"/><stop offset="0.589" stop-color="#444444"/><stop offset="0.753" stop-color="#2e2e2e"/><stop offset="1.000" stop-color="#141414"/></linearGradient><linearGradient id="g0_27" gradientUnits="userSpaceOnUse" x1="0" y1="46" x2="0" y2="149"><stop offset="0.000" stop-color="#b2b2b2"/><stop offset="0.485" stop-color="#a8a8a8"/><stop offset="1.000" stop-color="#292929"/></linearGradient><linearGradient id="g0_28" gradientUnits="userSpaceOnUse" x1="0" y1="46" x2="0" y2="166"><stop offset="0.000" stop-color="#e7e7e7"/><stop offset="0.333" stop-color="#c0c0c0"/><stop offset="0.600" stop-color="#878787"/><stop offset="1.000" stop-color="#1f1f1f"/></linearGradient><linearGradient id="g0_29" gradientUnits="userSpaceOnUse" x1="0" y1="77" x2="0" y2="135"><stop offset="0.000" stop-color="#292929"/><stop offset="0.414" stop-color="#505050"/><stop offset="1.000" stop-color="#1b1b1b"/></linearGradient><linearGradient id="g0_30" gradientUnits="userSpaceOnUse" x1="0" y1="180" x2="0" y2="252"><stop offset="0.000" stop-color="#191919"/><stop offset="0.222" stop-color="#4b4b4b"/><stop offset="0.431" stop-color="#555555"/><stop offset="0.569" stop-color="#5a5a5a"/><stop offset="0.778" stop-color="#5e5e5e"/><stop offset="1.000" stop-color="#505050"/></linearGradient><linearGradient id="g0_31" gradientUnits="userSpaceOnUse" x1="0" y1="180" x2="0" y2="218"><stop offset="0.000" stop-color="#1f1f1f"/><stop offset="0.289" stop-color="#4d4d4d"/><stop offset="0.684" stop-color="#555555"/><stop offset="1.000" stop-color="#555555"/></linearGradient><linearGradient id="g0_32" gradientUnits="userSpaceOnUse" x1="0" y1="46" x2="0" y2="156"><stop offset="0.000" stop-color="#d9d9d9"/><stop offset="0.455" stop-color="#c3c3c3"/><stop offset="0.655" stop-color="#999999"/><stop offset="1.000" stop-color="#252525"/></linearGradient><linearGradient id="g0_33" gradientUnits="userSpaceOnUse" x1="0" y1="151" x2="0" y2="219"><stop offset="0.000" stop-color="#292929"/><stop offset="0.368" stop-color="#505050"/><stop offset="0.588" stop-color="#525252"/><stop offset="0.809" stop-color="#474747"/><stop offset="1.000" stop-color="#141414"/></linearGradient><linearGradient id="g0_34" gradientUnits="userSpaceOnUse" x1="0" y1="82" x2="0" y2="178"><stop offset="0.000" stop-color="#131313"/><stop offset="0.667" stop-color="#333333"/><stop offset="1.000" stop-color="#131313"/></linearGradient><linearGradient id="g0_35" gradientUnits="userSpaceOnUse" x1="0" y1="149" x2="0" y2="209"><stop offset="0.000" stop-color="#131313"/><stop offset="0.450" stop-color="#3d3d3d"/><stop offset="1.000" stop-color="#131313"/></linearGradient><clipPath id="cp0"><rect x="826" y="46" width="603" height="205"/></clipPath></defs><g clip-path="url(#cp0)"><g filter="url(#jetf)" style="isolation:isolate"><rect x="816" y="36" width="623" height="225" fill="#000"/><path style="mix-blend-mode:lighten" d="M829.3 123.0L828.6 146.0L828.8 176.0L829.6 186.0L832.4 186.0L832.2 176.0L832.0 146.0L831.3 123.0Z" fill="url(#g0_0)" opacity="0.200"/><path style="mix-blend-mode:lighten" d="M833.3 159.0L831.2 176.0L830.4 191.0L831.2 206.0L834.1 224.0L836.9 224.0L839.8 206.0L840.6 191.0L839.8 176.0L836.7 159.0Z" fill="url(#g0_1)" opacity="0.200"/><path style="mix-blend-mode:lighten" d="M967.1 46.0L967.4 86.0L967.3 118.0L967.5 146.0L966.9 176.0L966.2 190.0L965.4 214.0L966.2 228.0L967.1 238.0L968.8 243.0L972.2 243.0L973.9 238.0L974.8 228.0L975.6 214.0L974.8 190.0L973.1 176.0L971.5 146.0L970.7 118.0L969.6 86.0L969.3 46.0Z" fill="url(#g0_2)" opacity="0.200"/><path style="mix-blend-mode:lighten" d="M960.3 185.0L958.8 196.0L958.0 214.0L959.0 231.0L961.8 240.0L970.2 240.0L971.0 231.0L970.0 214.0L967.2 196.0L963.7 185.0Z" fill="url(#g0_3)" opacity="0.200"/><path style="mix-blend-mode:lighten" d="M993.0 137.0L992.6 156.0L993.0 180.0L995.0 180.0L995.4 156.0L995.0 137.0Z" fill="url(#g0_4)" opacity="0.200"/><path style="mix-blend-mode:lighten" d="M987.5 158.0L987.1 176.0L987.5 190.0L989.5 190.0L989.9 176.0L989.5 158.0Z" fill="url(#g0_5)" opacity="0.200"/><path style="mix-blend-mode:lighten" d="M1023.5 125.0L1022.5 151.0L1020.4 181.0L1019.4 206.0L1020.6 223.0L1023.4 223.0L1025.6 206.0L1026.6 181.0L1026.5 151.0L1025.5 125.0Z" fill="url(#g0_6)" opacity="0.200"/><path style="mix-blend-mode:lighten" d="M1034.0 80.0L1033.0 101.0L1031.3 126.0L1030.2 146.0L1029.9 161.0L1029.9 180.0L1029.9 191.0L1029.6 214.0L1029.0 236.0L1029.0 252.0L1041.0 252.0L1041.0 236.0L1040.4 214.0L1040.1 191.0L1040.1 180.0L1040.1 161.0L1039.8 146.0L1038.7 126.0L1037.0 101.0L1036.0 80.0Z" fill="url(#g0_7)" opacity="0.200"/><path style="mix-blend-mode:lighten" d="M1045.8 66.0L1045.4 86.0L1045.0 126.0L1045.0 154.0L1050.0 154.0L1049.0 126.0L1048.2 86.0L1047.8 66.0Z" fill="url(#g0_8)" opacity="0.200"/><path style="mix-blend-mode:lighten" d="M1045.5 156.0L1042.0 181.0L1039.5 211.0L1039.5 231.0L1041.2 244.0L1042.0 252.0L1054.0 252.0L1054.8 244.0L1056.5 231.0L1056.5 211.0L1054.0 181.0L1050.5 156.0Z" fill="url(#g0_9)" opacity="0.200"/><path style="mix-blend-mode:lighten" d="M1068.0 130.0L1065.1 156.0L1062.0 181.0L1058.5 206.0L1059.3 226.0L1062.8 241.0L1071.2 241.0L1074.7 226.0L1075.5 206.0L1074.0 181.0L1071.9 156.0L1070.0 130.0Z" fill="url(#g0_10)" opacity="0.200"/><path style="mix-blend-mode:lighten" d="M1083.6 46.0L1083.5 82.0L1082.6 106.0L1081.4 144.0L1081.4 188.0L1077.3 206.0L1075.5 226.0L1075.5 252.0L1092.5 252.0L1092.5 226.0L1092.7 206.0L1091.6 188.0L1091.6 144.0L1089.4 106.0L1087.5 82.0L1086.4 46.0Z" fill="url(#g0_11)" opacity="0.200"/><path style="mix-blend-mode:lighten" d="M1078.0 139.0L1077.8 161.0L1079.0 188.0L1081.0 188.0L1081.2 161.0L1080.0 139.0Z" fill="url(#g0_12)" opacity="0.200"/><path style="mix-blend-mode:lighten" d="M1097.0 89.0L1093.9 100.0L1093.9 126.0L1096.9 156.0L1099.5 179.0L1100.6 191.0L1107.4 191.0L1104.5 179.0L1103.1 156.0L1104.1 126.0L1104.1 100.0L1101.0 89.0Z" fill="url(#g0_13)" opacity="0.200"/><path style="mix-blend-mode:lighten" d="M1100.5 176.0L1098.2 196.0L1095.8 215.0L1093.4 236.0L1093.4 252.0L1120.6 252.0L1120.6 236.0L1116.2 215.0L1111.8 196.0L1105.5 176.0Z" fill="url(#g0_14)" opacity="0.200"/><path style="mix-blend-mode:lighten" d="M1106.0 106.0L1105.3 114.0L1105.3 146.0L1105.0 188.0L1109.0 188.0L1108.7 146.0L1108.7 114.0L1108.0 106.0Z" fill="url(#g0_15)" opacity="0.200"/><path style="mix-blend-mode:lighten" d="M1113.6 46.0L1113.3 106.0L1113.3 186.0L1113.0 199.0L1108.9 221.0L1108.9 246.0L1119.1 246.0L1119.1 221.0L1117.0 199.0L1116.7 186.0L1116.7 106.0L1116.4 46.0Z" fill="url(#g0_16)" opacity="0.200"/><path style="mix-blend-mode:lighten" d="M1118.6 142.0L1117.5 176.0L1117.5 214.0L1122.5 214.0L1122.5 176.0L1121.4 142.0Z" fill="url(#g0_17)" opacity="0.200"/><path style="mix-blend-mode:lighten" d="M1134.3 142.0L1132.8 190.0L1134.3 238.0L1136.3 238.0L1137.8 190.0L1136.3 142.0Z" fill="url(#g0_18)" opacity="0.200"/><path style="mix-blend-mode:lighten" d="M1156.0 183.0L1155.6 196.0L1156.0 214.0L1158.0 214.0L1158.4 196.0L1158.0 183.0Z" fill="url(#g0_19)" opacity="0.200"/><path style="mix-blend-mode:lighten" d="M1180.6 46.0L1180.7 118.0L1180.0 126.0L1179.0 156.0L1178.0 186.0L1177.6 228.0L1180.4 228.0L1182.0 186.0L1184.0 156.0L1184.0 126.0L1183.7 118.0L1183.8 46.0Z" fill="url(#g0_20)" opacity="0.200"/><path style="mix-blend-mode:lighten" d="M1191.5 154.0L1190.6 171.0L1191.8 181.0L1200.2 181.0L1197.4 171.0L1195.5 154.0Z" fill="url(#g0_21)" opacity="0.200"/><path style="mix-blend-mode:lighten" d="M1200.0 154.0L1198.1 171.0L1195.8 181.0L1204.2 181.0L1204.9 171.0L1204.0 154.0Z" fill="url(#g0_22)" opacity="0.200"/><path style="mix-blend-mode:lighten" d="M1193.2 176.0L1190.6 206.0L1191.5 231.0L1194.0 245.0L1194.9 252.0L1201.7 252.0L1202.5 245.0L1205.1 231.0L1206.0 206.0L1203.4 176.0Z" fill="url(#g0_23)" opacity="0.200"/><path style="mix-blend-mode:lighten" d="M1257.4 161.0L1254.3 176.0L1252.6 206.0L1253.5 236.0L1254.3 252.0L1264.5 252.0L1265.4 236.0L1266.2 206.0L1264.5 176.0L1261.4 161.0Z" fill="url(#g0_24)" opacity="0.200"/><path style="mix-blend-mode:lighten" d="M1294.2 46.0L1293.9 96.0L1294.2 123.0L1297.0 123.0L1297.3 96.0L1297.0 46.0Z" fill="url(#g0_25)" opacity="0.200"/><path style="mix-blend-mode:lighten" d="M1307.5 87.0L1306.0 106.0L1306.1 142.0L1307.6 156.0L1307.5 180.0L1306.5 206.0L1306.6 245.0L1309.4 245.0L1310.5 206.0L1312.5 180.0L1314.4 156.0L1312.9 142.0L1310.0 106.0L1309.5 87.0Z" fill="url(#g0_26)" opacity="0.200"/><path style="mix-blend-mode:lighten" d="M1326.6 46.0L1326.6 96.0L1326.6 149.0L1329.4 149.0L1329.4 96.0L1329.4 46.0Z" fill="url(#g0_27)" opacity="0.200"/><path style="mix-blend-mode:lighten" d="M1365.5 46.0L1365.5 86.0L1365.5 118.0L1365.6 166.0L1368.4 166.0L1369.5 118.0L1369.5 86.0L1369.5 46.0Z" fill="url(#g0_28)" opacity="0.200"/><path style="mix-blend-mode:lighten" d="M1372.1 77.0L1369.4 101.0L1371.0 135.0L1376.0 135.0L1377.6 101.0L1374.9 77.0Z" fill="url(#g0_29)" opacity="0.200"/><path style="mix-blend-mode:lighten" d="M1360.1 180.0L1359.5 196.0L1359.2 211.0L1361.4 221.0L1361.5 236.0L1361.5 252.0L1373.5 252.0L1373.5 236.0L1371.6 221.0L1367.8 211.0L1364.5 196.0L1362.9 180.0Z" fill="url(#g0_30)" opacity="0.200"/><path style="mix-blend-mode:lighten" d="M1371.3 180.0L1370.3 191.0L1369.0 206.0L1365.2 218.0L1373.8 218.0L1374.0 206.0L1374.3 191.0L1373.3 180.0Z" fill="url(#g0_31)" opacity="0.200"/><path style="mix-blend-mode:lighten" d="M1393.3 46.0L1393.3 96.0L1393.6 118.0L1394.0 156.0L1396.0 156.0L1396.4 118.0L1396.7 96.0L1396.7 46.0Z" fill="url(#g0_32)" opacity="0.200"/><path style="mix-blend-mode:lighten" d="M1392.4 151.0L1389.5 176.0L1388.9 191.0L1389.8 206.0L1392.6 219.0L1395.4 219.0L1398.2 206.0L1399.1 191.0L1398.0 176.0L1395.2 151.0Z" fill="url(#g0_33)" opacity="0.200"/><path style="mix-blend-mode:lighten" d="M1399.0 82.0L1398.6 146.0L1399.0 178.0L1401.0 178.0L1401.4 146.0L1401.0 82.0Z" fill="url(#g0_34)" opacity="0.200"/><path style="mix-blend-mode:lighten" d="M1280.0 149.0L1279.6 176.0L1280.0 209.0L1282.0 209.0L1282.4 176.0L1282.0 149.0Z" fill="url(#g0_35)" opacity="0.200"/><path style="mix-blend-mode:lighten" d="M829.5 123.0L829.0 146.0L829.2 176.0L830.0 186.0L832.0 186.0L831.8 176.0L831.6 146.0L831.1 123.0Z" fill="url(#g0_0)" opacity="0.312"/><path style="mix-blend-mode:lighten" d="M833.7 159.0L832.2 176.0L831.6 191.0L832.2 206.0L834.5 224.0L836.5 224.0L838.8 206.0L839.4 191.0L838.8 176.0L836.3 159.0Z" fill="url(#g0_1)" opacity="0.312"/><path style="mix-blend-mode:lighten" d="M967.4 46.0L967.6 86.0L967.7 118.0L967.9 146.0L967.7 176.0L967.2 190.0L966.6 214.0L967.2 228.0L967.9 238.0L969.2 243.0L971.8 243.0L973.1 238.0L973.8 228.0L974.4 214.0L973.8 190.0L972.3 176.0L971.1 146.0L970.3 118.0L969.4 86.0L969.0 46.0Z" fill="url(#g0_2)" opacity="0.312"/><path style="mix-blend-mode:lighten" d="M960.7 185.0L959.8 196.0L959.5 214.0L960.5 231.0L962.8 240.0L969.2 240.0L969.5 231.0L968.5 214.0L966.2 196.0L963.3 185.0Z" fill="url(#g0_3)" opacity="0.312"/><path style="mix-blend-mode:lighten" d="M993.2 137.0L993.0 156.0L993.2 180.0L994.8 180.0L995.0 156.0L994.8 137.0Z" fill="url(#g0_4)" opacity="0.312"/><path style="mix-blend-mode:lighten" d="M987.7 158.0L987.5 176.0L987.7 190.0L989.3 190.0L989.5 176.0L989.3 158.0Z" fill="url(#g0_5)" opacity="0.312"/><path style="mix-blend-mode:lighten" d="M1023.7 125.0L1022.9 151.0L1021.2 181.0L1020.2 206.0L1021.0 223.0L1023.0 223.0L1024.8 206.0L1025.8 181.0L1026.1 151.0L1025.3 125.0Z" fill="url(#g0_6)" opacity="0.312"/><path style="mix-blend-mode:lighten" d="M1034.2 80.0L1033.4 101.0L1032.1 126.0L1031.4 146.0L1031.1 161.0L1031.1 180.0L1031.1 191.0L1030.8 214.0L1030.5 236.0L1030.5 252.0L1039.5 252.0L1039.5 236.0L1039.2 214.0L1038.9 191.0L1038.9 180.0L1038.9 161.0L1038.6 146.0L1037.9 126.0L1036.6 101.0L1035.8 80.0Z" fill="url(#g0_7)" opacity="0.312"/><path style="mix-blend-mode:lighten" d="M1046.0 66.0L1045.8 86.0L1045.4 126.0L1045.5 154.0L1049.5 154.0L1048.6 126.0L1047.8 86.0L1047.6 66.0Z" fill="url(#g0_8)" opacity="0.312"/><path style="mix-blend-mode:lighten" d="M1046.0 156.0L1043.5 181.0L1041.5 211.0L1041.5 231.0L1042.8 244.0L1043.5 252.0L1052.5 252.0L1053.2 244.0L1054.5 231.0L1054.5 211.0L1052.5 181.0L1050.0 156.0Z" fill="url(#g0_9)" opacity="0.312"/><path style="mix-blend-mode:lighten" d="M1068.2 130.0L1065.9 156.0L1063.5 181.0L1060.5 206.0L1061.2 226.0L1063.8 241.0L1070.2 241.0L1072.8 226.0L1073.5 206.0L1072.5 181.0L1071.1 156.0L1069.8 130.0Z" fill="url(#g0_10)" opacity="0.312"/><path style="mix-blend-mode:lighten" d="M1084.0 46.0L1083.9 82.0L1083.4 106.0L1082.6 144.0L1082.6 188.0L1079.2 206.0L1077.5 226.0L1077.5 252.0L1090.5 252.0L1090.5 226.0L1090.8 206.0L1090.4 188.0L1090.4 144.0L1088.6 106.0L1087.1 82.0L1086.0 46.0Z" fill="url(#g0_11)" opacity="0.312"/><path style="mix-blend-mode:lighten" d="M1078.2 139.0L1078.2 161.0L1079.2 188.0L1080.8 188.0L1080.8 161.0L1079.8 139.0Z" fill="url(#g0_12)" opacity="0.312"/><path style="mix-blend-mode:lighten" d="M1097.4 89.0L1095.1 100.0L1095.1 126.0L1097.7 156.0L1100.0 179.0L1101.4 191.0L1106.6 191.0L1104.0 179.0L1102.3 156.0L1102.9 126.0L1102.9 100.0L1100.6 89.0Z" fill="url(#g0_13)" opacity="0.312"/><path style="mix-blend-mode:lighten" d="M1101.0 176.0L1099.8 196.0L1098.2 215.0L1096.6 236.0L1096.6 252.0L1117.4 252.0L1117.4 236.0L1113.8 215.0L1110.2 196.0L1105.0 176.0Z" fill="url(#g0_14)" opacity="0.312"/><path style="mix-blend-mode:lighten" d="M1106.2 106.0L1105.7 114.0L1105.7 146.0L1105.4 188.0L1108.6 188.0L1108.3 146.0L1108.3 114.0L1107.8 106.0Z" fill="url(#g0_15)" opacity="0.312"/><path style="mix-blend-mode:lighten" d="M1114.0 46.0L1113.7 106.0L1113.7 186.0L1113.4 199.0L1110.1 221.0L1110.1 246.0L1117.9 246.0L1117.9 221.0L1116.6 199.0L1116.3 186.0L1116.3 106.0L1116.0 46.0Z" fill="url(#g0_16)" opacity="0.312"/><path style="mix-blend-mode:lighten" d="M1119.0 142.0L1118.0 176.0L1118.0 214.0L1122.0 214.0L1122.0 176.0L1121.0 142.0Z" fill="url(#g0_17)" opacity="0.312"/><path style="mix-blend-mode:lighten" d="M1134.5 142.0L1133.3 190.0L1134.5 238.0L1136.1 238.0L1137.2 190.0L1136.1 142.0Z" fill="url(#g0_18)" opacity="0.312"/><path style="mix-blend-mode:lighten" d="M1156.2 183.0L1156.0 196.0L1156.2 214.0L1157.8 214.0L1158.0 196.0L1157.8 183.0Z" fill="url(#g0_19)" opacity="0.312"/><path style="mix-blend-mode:lighten" d="M1181.0 46.0L1181.0 118.0L1180.4 126.0L1179.5 156.0L1178.4 186.0L1178.0 228.0L1180.0 228.0L1181.6 186.0L1183.5 156.0L1183.6 126.0L1183.4 118.0L1183.4 46.0Z" fill="url(#g0_20)" opacity="0.312"/><path style="mix-blend-mode:lighten" d="M1191.9 154.0L1191.4 171.0L1192.8 181.0L1199.2 181.0L1196.6 171.0L1195.1 154.0Z" fill="url(#g0_21)" opacity="0.312"/><path style="mix-blend-mode:lighten" d="M1200.4 154.0L1198.9 171.0L1196.8 181.0L1203.2 181.0L1204.1 171.0L1203.6 154.0Z" fill="url(#g0_22)" opacity="0.312"/><path style="mix-blend-mode:lighten" d="M1194.4 176.0L1192.5 206.0L1193.1 231.0L1195.0 245.0L1195.7 252.0L1200.9 252.0L1201.5 245.0L1203.5 231.0L1204.1 206.0L1202.2 176.0Z" fill="url(#g0_23)" opacity="0.312"/><path style="mix-blend-mode:lighten" d="M1257.8 161.0L1255.5 176.0L1254.2 206.0L1254.9 236.0L1255.5 252.0L1263.3 252.0L1264.0 236.0L1264.6 206.0L1263.3 176.0L1261.0 161.0Z" fill="url(#g0_24)" opacity="0.312"/><path style="mix-blend-mode:lighten" d="M1294.6 46.0L1294.3 96.0L1294.6 123.0L1296.6 123.0L1296.9 96.0L1296.6 46.0Z" fill="url(#g0_25)" opacity="0.312"/><path style="mix-blend-mode:lighten" d="M1307.7 87.0L1306.4 106.0L1306.9 142.0L1308.4 156.0L1308.0 180.0L1306.9 206.0L1307.0 245.0L1309.0 245.0L1310.1 206.0L1312.0 180.0L1313.6 156.0L1312.1 142.0L1309.6 106.0L1309.3 87.0Z" fill="url(#g0_26)" opacity="0.312"/><path style="mix-blend-mode:lighten" d="M1327.0 46.0L1327.0 96.0L1327.0 149.0L1329.0 149.0L1329.0 96.0L1329.0 46.0Z" fill="url(#g0_27)" opacity="0.312"/><path style="mix-blend-mode:lighten" d="M1365.9 46.0L1365.9 86.0L1365.9 118.0L1366.0 166.0L1368.0 166.0L1369.1 118.0L1369.1 86.0L1369.1 46.0Z" fill="url(#g0_28)" opacity="0.312"/><path style="mix-blend-mode:lighten" d="M1372.5 77.0L1370.4 101.0L1371.5 135.0L1375.5 135.0L1376.6 101.0L1374.5 77.0Z" fill="url(#g0_29)" opacity="0.312"/><path style="mix-blend-mode:lighten" d="M1360.5 180.0L1360.0 196.0L1360.2 211.0L1362.6 221.0L1363.0 236.0L1363.0 252.0L1372.0 252.0L1372.0 236.0L1370.4 221.0L1366.8 211.0L1364.0 196.0L1362.5 180.0Z" fill="url(#g0_30)" opacity="0.312"/><path style="mix-blend-mode:lighten" d="M1371.5 180.0L1370.7 191.0L1369.5 206.0L1366.2 218.0L1372.8 218.0L1373.5 206.0L1373.9 191.0L1373.1 180.0Z" fill="url(#g0_31)" opacity="0.312"/><path style="mix-blend-mode:lighten" d="M1393.7 46.0L1393.7 96.0L1394.0 118.0L1394.2 156.0L1395.8 156.0L1396.0 118.0L1396.3 96.0L1396.3 46.0Z" fill="url(#g0_32)" opacity="0.312"/><path style="mix-blend-mode:lighten" d="M1392.8 151.0L1390.5 176.0L1390.1 191.0L1390.8 206.0L1393.0 219.0L1395.0 219.0L1397.2 206.0L1397.9 191.0L1397.0 176.0L1394.8 151.0Z" fill="url(#g0_33)" opacity="0.312"/><path style="mix-blend-mode:lighten" d="M1399.2 82.0L1399.0 146.0L1399.2 178.0L1400.8 178.0L1401.0 146.0L1400.8 82.0Z" fill="url(#g0_34)" opacity="0.312"/><path style="mix-blend-mode:lighten" d="M1280.2 149.0L1280.0 176.0L1280.2 209.0L1281.8 209.0L1282.0 176.0L1281.8 149.0Z" fill="url(#g0_35)" opacity="0.312"/><path style="mix-blend-mode:lighten" d="M829.8 123.0L829.4 146.0L829.6 176.0L830.3 186.0L831.7 186.0L831.4 176.0L831.2 146.0L830.8 123.0Z" fill="url(#g0_0)" opacity="0.545"/><path style="mix-blend-mode:lighten" d="M834.1 159.0L833.2 176.0L832.8 191.0L833.2 206.0L834.8 224.0L836.2 224.0L837.8 206.0L838.2 191.0L837.8 176.0L835.9 159.0Z" fill="url(#g0_1)" opacity="0.545"/><path style="mix-blend-mode:lighten" d="M967.6 46.0L967.9 86.0L968.1 118.0L968.4 146.0L968.4 176.0L968.2 190.0L967.8 214.0L968.2 228.0L968.7 238.0L969.6 243.0L971.4 243.0L972.3 238.0L972.8 228.0L973.2 214.0L972.8 190.0L971.6 176.0L970.6 146.0L969.9 118.0L969.1 86.0L968.8 46.0Z" fill="url(#g0_2)" opacity="0.545"/><path style="mix-blend-mode:lighten" d="M961.1 185.0L960.8 196.0L960.9 214.0L961.9 231.0L963.8 240.0L968.2 240.0L968.1 231.0L967.1 214.0L965.2 196.0L962.9 185.0Z" fill="url(#g0_3)" opacity="0.545"/><path style="mix-blend-mode:lighten" d="M993.5 137.0L993.3 156.0L993.5 180.0L994.5 180.0L994.7 156.0L994.5 137.0Z" fill="url(#g0_4)" opacity="0.545"/><path style="mix-blend-mode:lighten" d="M988.0 158.0L987.8 176.0L988.0 190.0L989.0 190.0L989.2 176.0L989.0 158.0Z" fill="url(#g0_5)" opacity="0.545"/><path style="mix-blend-mode:lighten" d="M1024.0 125.0L1023.4 151.0L1021.9 181.0L1020.9 206.0L1021.3 223.0L1022.7 223.0L1024.1 206.0L1025.1 181.0L1025.6 151.0L1025.0 125.0Z" fill="url(#g0_6)" opacity="0.545"/><path style="mix-blend-mode:lighten" d="M1034.5 80.0L1033.9 101.0L1033.0 126.0L1032.5 146.0L1032.3 161.0L1032.3 180.0L1032.3 191.0L1032.1 214.0L1031.8 236.0L1031.8 252.0L1038.2 252.0L1038.2 236.0L1037.9 214.0L1037.7 191.0L1037.7 180.0L1037.7 161.0L1037.5 146.0L1037.0 126.0L1036.1 101.0L1035.5 80.0Z" fill="url(#g0_7)" opacity="0.545"/><path style="mix-blend-mode:lighten" d="M1046.3 66.0L1046.1 86.0L1045.9 126.0L1046.2 154.0L1048.8 154.0L1048.1 126.0L1047.5 86.0L1047.3 66.0Z" fill="url(#g0_8)" opacity="0.545"/><path style="mix-blend-mode:lighten" d="M1046.7 156.0L1044.8 181.0L1043.5 211.0L1043.5 231.0L1044.4 244.0L1044.8 252.0L1051.2 252.0L1051.6 244.0L1052.5 231.0L1052.5 211.0L1051.2 181.0L1049.3 156.0Z" fill="url(#g0_9)" opacity="0.545"/><path style="mix-blend-mode:lighten" d="M1068.5 130.0L1066.7 156.0L1064.8 181.0L1062.5 206.0L1063.0 226.0L1064.8 241.0L1069.2 241.0L1071.0 226.0L1071.5 206.0L1071.2 181.0L1070.3 156.0L1069.5 130.0Z" fill="url(#g0_10)" opacity="0.545"/><path style="mix-blend-mode:lighten" d="M1084.3 46.0L1084.4 82.0L1084.2 106.0L1083.8 144.0L1083.8 188.0L1081.0 206.0L1079.5 226.0L1079.5 252.0L1088.5 252.0L1088.5 226.0L1089.0 206.0L1089.2 188.0L1089.2 144.0L1087.8 106.0L1086.6 82.0L1085.7 46.0Z" fill="url(#g0_11)" opacity="0.545"/><path style="mix-blend-mode:lighten" d="M1078.5 139.0L1078.6 161.0L1079.5 188.0L1080.5 188.0L1080.4 161.0L1079.5 139.0Z" fill="url(#g0_12)" opacity="0.545"/><path style="mix-blend-mode:lighten" d="M1097.9 89.0L1096.3 100.0L1096.3 126.0L1098.4 156.0L1100.7 179.0L1102.2 191.0L1105.8 191.0L1103.3 179.0L1101.6 156.0L1101.7 126.0L1101.7 100.0L1100.1 89.0Z" fill="url(#g0_13)" opacity="0.545"/><path style="mix-blend-mode:lighten" d="M1101.7 176.0L1101.4 196.0L1100.6 215.0L1099.8 236.0L1099.8 252.0L1114.2 252.0L1114.2 236.0L1111.4 215.0L1108.6 196.0L1104.3 176.0Z" fill="url(#g0_14)" opacity="0.545"/><path style="mix-blend-mode:lighten" d="M1106.5 106.0L1106.1 114.0L1106.1 146.0L1105.9 188.0L1108.1 188.0L1107.9 146.0L1107.9 114.0L1107.5 106.0Z" fill="url(#g0_15)" opacity="0.545"/><path style="mix-blend-mode:lighten" d="M1114.3 46.0L1114.1 106.0L1114.1 186.0L1113.9 199.0L1111.3 221.0L1111.3 246.0L1116.7 246.0L1116.7 221.0L1116.1 199.0L1115.9 186.0L1115.9 106.0L1115.7 46.0Z" fill="url(#g0_16)" opacity="0.545"/><path style="mix-blend-mode:lighten" d="M1119.3 142.0L1118.7 176.0L1118.7 214.0L1121.3 214.0L1121.3 176.0L1120.7 142.0Z" fill="url(#g0_17)" opacity="0.545"/><path style="mix-blend-mode:lighten" d="M1134.8 142.0L1134.0 190.0L1134.8 238.0L1135.8 238.0L1136.6 190.0L1135.8 142.0Z" fill="url(#g0_18)" opacity="0.545"/><path style="mix-blend-mode:lighten" d="M1156.5 183.0L1156.3 196.0L1156.5 214.0L1157.5 214.0L1157.7 196.0L1157.5 183.0Z" fill="url(#g0_19)" opacity="0.545"/><path style="mix-blend-mode:lighten" d="M1181.4 46.0L1181.4 118.0L1180.9 126.0L1180.2 156.0L1178.9 186.0L1178.3 228.0L1179.7 228.0L1181.1 186.0L1182.8 156.0L1183.1 126.0L1183.0 118.0L1183.0 46.0Z" fill="url(#g0_20)" opacity="0.545"/><path style="mix-blend-mode:lighten" d="M1192.4 154.0L1192.2 171.0L1193.8 181.0L1198.2 181.0L1195.8 171.0L1194.6 154.0Z" fill="url(#g0_21)" opacity="0.545"/><path style="mix-blend-mode:lighten" d="M1200.9 154.0L1199.7 171.0L1197.8 181.0L1202.2 181.0L1203.3 171.0L1203.1 154.0Z" fill="url(#g0_22)" opacity="0.545"/><path style="mix-blend-mode:lighten" d="M1195.6 176.0L1194.2 206.0L1194.7 231.0L1196.0 245.0L1196.5 252.0L1200.1 252.0L1200.5 245.0L1201.9 231.0L1202.3 206.0L1201.0 176.0Z" fill="url(#g0_23)" opacity="0.545"/><path style="mix-blend-mode:lighten" d="M1258.3 161.0L1256.7 176.0L1255.8 206.0L1256.2 236.0L1256.7 252.0L1262.1 252.0L1262.6 236.0L1263.0 206.0L1262.1 176.0L1260.5 161.0Z" fill="url(#g0_24)" opacity="0.545"/><path style="mix-blend-mode:lighten" d="M1294.9 46.0L1294.7 96.0L1294.9 123.0L1296.3 123.0L1296.5 96.0L1296.3 46.0Z" fill="url(#g0_25)" opacity="0.545"/><path style="mix-blend-mode:lighten" d="M1308.0 87.0L1306.9 106.0L1307.7 142.0L1309.2 156.0L1308.7 180.0L1307.4 206.0L1307.3 245.0L1308.7 245.0L1309.6 206.0L1311.3 180.0L1312.8 156.0L1311.3 142.0L1309.1 106.0L1309.0 87.0Z" fill="url(#g0_26)" opacity="0.545"/><path style="mix-blend-mode:lighten" d="M1327.3 46.0L1327.3 96.0L1327.3 149.0L1328.7 149.0L1328.7 96.0L1328.7 46.0Z" fill="url(#g0_27)" opacity="0.545"/><path style="mix-blend-mode:lighten" d="M1366.4 46.0L1366.4 86.0L1366.4 118.0L1366.3 166.0L1367.7 166.0L1368.6 118.0L1368.6 86.0L1368.6 46.0Z" fill="url(#g0_28)" opacity="0.545"/><path style="mix-blend-mode:lighten" d="M1372.8 77.0L1371.3 101.0L1372.2 135.0L1374.8 135.0L1375.7 101.0L1374.2 77.0Z" fill="url(#g0_29)" opacity="0.545"/><path style="mix-blend-mode:lighten" d="M1360.8 180.0L1360.7 196.0L1361.2 211.0L1363.8 221.0L1364.3 236.0L1364.3 252.0L1370.7 252.0L1370.7 236.0L1369.2 221.0L1365.8 211.0L1363.3 196.0L1362.2 180.0Z" fill="url(#g0_30)" opacity="0.545"/><path style="mix-blend-mode:lighten" d="M1371.8 180.0L1371.2 191.0L1370.2 206.0L1367.2 218.0L1371.8 218.0L1372.8 206.0L1373.4 191.0L1372.8 180.0Z" fill="url(#g0_31)" opacity="0.545"/><path style="mix-blend-mode:lighten" d="M1394.1 46.0L1394.1 96.0L1394.3 118.0L1394.5 156.0L1395.5 156.0L1395.7 118.0L1395.9 96.0L1395.9 46.0Z" fill="url(#g0_32)" opacity="0.545"/><path style="mix-blend-mode:lighten" d="M1393.1 151.0L1391.5 176.0L1391.3 191.0L1391.8 206.0L1393.3 219.0L1394.7 219.0L1396.2 206.0L1396.7 191.0L1396.0 176.0L1394.5 151.0Z" fill="url(#g0_33)" opacity="0.545"/><path style="mix-blend-mode:lighten" d="M1399.5 82.0L1399.3 146.0L1399.5 178.0L1400.5 178.0L1400.7 146.0L1400.5 82.0Z" fill="url(#g0_34)" opacity="0.545"/><path style="mix-blend-mode:lighten" d="M1280.5 149.0L1280.3 176.0L1280.5 209.0L1281.5 209.0L1281.7 176.0L1281.5 149.0Z" fill="url(#g0_35)" opacity="0.545"/><path style="mix-blend-mode:lighten" d="M830.0 123.0L829.8 146.0L830.0 176.0L830.6 186.0L831.4 186.0L831.0 176.0L830.8 146.0L830.6 123.0Z" fill="url(#g0_0)"/><path style="mix-blend-mode:lighten" d="M834.5 159.0L834.4 176.0L834.1 191.0L834.4 206.0L835.1 224.0L835.9 224.0L836.6 206.0L836.9 191.0L836.6 176.0L835.5 159.0Z" fill="url(#g0_1)"/><path style="mix-blend-mode:lighten" d="M967.9 46.0L968.2 86.0L968.5 118.0L969.0 146.0L969.2 176.0L969.4 190.0L969.1 214.0L969.4 228.0L969.6 238.0L970.0 243.0L971.0 243.0L971.4 238.0L971.6 228.0L971.9 214.0L971.6 190.0L970.8 176.0L970.0 146.0L969.5 118.0L968.8 86.0L968.5 46.0Z" fill="url(#g0_2)"/><path style="mix-blend-mode:lighten" d="M961.5 185.0L961.9 196.0L962.4 214.0L963.4 231.0L964.9 240.0L967.1 240.0L966.6 231.0L965.6 214.0L964.1 196.0L962.5 185.0Z" fill="url(#g0_3)"/><path style="mix-blend-mode:lighten" d="M993.7 137.0L993.6 156.0L993.7 180.0L994.3 180.0L994.4 156.0L994.3 137.0Z" fill="url(#g0_4)"/><path style="mix-blend-mode:lighten" d="M988.2 158.0L988.1 176.0L988.2 190.0L988.8 190.0L988.9 176.0L988.8 158.0Z" fill="url(#g0_5)"/><path style="mix-blend-mode:lighten" d="M1024.2 125.0L1024.0 151.0L1022.7 181.0L1021.7 206.0L1021.6 223.0L1022.4 223.0L1023.3 206.0L1024.3 181.0L1025.0 151.0L1024.8 125.0Z" fill="url(#g0_6)"/><path style="mix-blend-mode:lighten" d="M1034.7 80.0L1034.5 101.0L1034.0 126.0L1033.7 146.0L1033.7 161.0L1033.7 180.0L1033.7 191.0L1033.6 214.0L1033.4 236.0L1033.4 252.0L1036.6 252.0L1036.6 236.0L1036.4 214.0L1036.3 191.0L1036.3 180.0L1036.3 161.0L1036.3 146.0L1036.0 126.0L1035.5 101.0L1035.3 80.0Z" fill="url(#g0_7)"/><path style="mix-blend-mode:lighten" d="M1046.5 66.0L1046.4 86.0L1046.5 126.0L1046.8 154.0L1048.2 154.0L1047.5 126.0L1047.2 86.0L1047.1 66.0Z" fill="url(#g0_8)"/><path style="mix-blend-mode:lighten" d="M1047.3 156.0L1046.4 181.0L1045.8 211.0L1045.8 231.0L1046.2 244.0L1046.4 252.0L1049.6 252.0L1049.8 244.0L1050.2 231.0L1050.2 211.0L1049.6 181.0L1048.7 156.0Z" fill="url(#g0_9)"/><path style="mix-blend-mode:lighten" d="M1068.7 130.0L1067.6 156.0L1066.4 181.0L1064.8 206.0L1065.0 226.0L1065.9 241.0L1068.1 241.0L1069.0 226.0L1069.2 206.0L1069.6 181.0L1069.4 156.0L1069.3 130.0Z" fill="url(#g0_10)"/><path style="mix-blend-mode:lighten" d="M1084.6 46.0L1085.0 82.0L1085.1 106.0L1085.2 144.0L1085.2 188.0L1083.0 206.0L1081.8 226.0L1081.8 252.0L1086.2 252.0L1086.2 226.0L1087.0 206.0L1087.8 188.0L1087.8 144.0L1086.9 106.0L1086.0 82.0L1085.4 46.0Z" fill="url(#g0_11)"/><path style="mix-blend-mode:lighten" d="M1078.7 139.0L1079.0 161.0L1079.7 188.0L1080.3 188.0L1080.0 161.0L1079.3 139.0Z" fill="url(#g0_12)"/><path style="mix-blend-mode:lighten" d="M1098.5 89.0L1097.7 100.0L1097.7 126.0L1099.2 156.0L1101.3 179.0L1103.1 191.0L1104.9 191.0L1102.7 179.0L1100.8 156.0L1100.3 126.0L1100.3 100.0L1099.5 89.0Z" fill="url(#g0_13)"/><path style="mix-blend-mode:lighten" d="M1102.3 176.0L1103.2 196.0L1103.3 215.0L1103.4 236.0L1103.4 252.0L1110.6 252.0L1110.6 236.0L1108.7 215.0L1106.8 196.0L1103.7 176.0Z" fill="url(#g0_14)"/><path style="mix-blend-mode:lighten" d="M1106.7 106.0L1106.5 114.0L1106.5 146.0L1106.5 188.0L1107.5 188.0L1107.5 146.0L1107.5 114.0L1107.3 106.0Z" fill="url(#g0_15)"/><path style="mix-blend-mode:lighten" d="M1114.6 46.0L1114.5 106.0L1114.5 186.0L1114.5 199.0L1112.7 221.0L1112.7 246.0L1115.3 246.0L1115.3 221.0L1115.5 199.0L1115.5 186.0L1115.5 106.0L1115.4 46.0Z" fill="url(#g0_16)"/><path style="mix-blend-mode:lighten" d="M1119.6 142.0L1119.3 176.0L1119.3 214.0L1120.7 214.0L1120.7 176.0L1120.4 142.0Z" fill="url(#g0_17)"/><path style="mix-blend-mode:lighten" d="M1135.0 142.0L1134.6 190.0L1135.0 238.0L1135.6 238.0L1136.0 190.0L1135.6 142.0Z" fill="url(#g0_18)"/><path style="mix-blend-mode:lighten" d="M1156.7 183.0L1156.6 196.0L1156.7 214.0L1157.3 214.0L1157.4 196.0L1157.3 183.0Z" fill="url(#g0_19)"/><path style="mix-blend-mode:lighten" d="M1181.8 46.0L1181.8 118.0L1181.5 126.0L1180.8 156.0L1179.5 186.0L1178.6 228.0L1179.4 228.0L1180.5 186.0L1182.2 156.0L1182.5 126.0L1182.6 118.0L1182.6 46.0Z" fill="url(#g0_20)"/><path style="mix-blend-mode:lighten" d="M1193.0 154.0L1193.1 171.0L1194.9 181.0L1197.1 181.0L1194.9 171.0L1194.0 154.0Z" fill="url(#g0_21)"/><path style="mix-blend-mode:lighten" d="M1201.5 154.0L1200.6 171.0L1198.9 181.0L1201.1 181.0L1202.4 171.0L1202.5 154.0Z" fill="url(#g0_22)"/><path style="mix-blend-mode:lighten" d="M1197.0 176.0L1196.3 206.0L1196.5 231.0L1197.2 245.0L1197.4 252.0L1199.2 252.0L1199.4 245.0L1200.1 231.0L1200.3 206.0L1199.6 176.0Z" fill="url(#g0_23)"/><path style="mix-blend-mode:lighten" d="M1258.9 161.0L1258.1 176.0L1257.6 206.0L1257.8 236.0L1258.1 252.0L1260.8 252.0L1261.0 236.0L1261.2 206.0L1260.8 176.0L1259.9 161.0Z" fill="url(#g0_24)"/><path style="mix-blend-mode:lighten" d="M1295.2 46.0L1295.1 96.0L1295.2 123.0L1296.0 123.0L1296.0 96.0L1296.0 46.0Z" fill="url(#g0_25)"/><path style="mix-blend-mode:lighten" d="M1308.2 87.0L1307.5 106.0L1308.6 142.0L1310.1 156.0L1309.3 180.0L1308.0 206.0L1307.6 245.0L1308.4 245.0L1309.0 206.0L1310.7 180.0L1311.9 156.0L1310.4 142.0L1308.5 106.0L1308.8 87.0Z" fill="url(#g0_26)"/><path style="mix-blend-mode:lighten" d="M1327.6 46.0L1327.6 96.0L1327.6 149.0L1328.4 149.0L1328.4 96.0L1328.4 46.0Z" fill="url(#g0_27)"/><path style="mix-blend-mode:lighten" d="M1367.0 46.0L1367.0 86.0L1367.0 118.0L1366.6 166.0L1367.4 166.0L1368.0 118.0L1368.0 86.0L1368.0 46.0Z" fill="url(#g0_28)"/><path style="mix-blend-mode:lighten" d="M1373.1 77.0L1372.4 101.0L1372.8 135.0L1374.2 135.0L1374.6 101.0L1373.9 77.0Z" fill="url(#g0_29)"/><path style="mix-blend-mode:lighten" d="M1361.1 180.0L1361.3 196.0L1362.4 211.0L1365.2 221.0L1365.9 236.0L1365.9 252.0L1369.1 252.0L1369.1 236.0L1367.8 221.0L1364.6 211.0L1362.7 196.0L1361.9 180.0Z" fill="url(#g0_30)"/><path style="mix-blend-mode:lighten" d="M1372.0 180.0L1371.8 191.0L1370.8 206.0L1368.4 218.0L1370.6 218.0L1372.2 206.0L1372.8 191.0L1372.6 180.0Z" fill="url(#g0_31)"/><path style="mix-blend-mode:lighten" d="M1394.5 46.0L1394.5 96.0L1394.6 118.0L1394.7 156.0L1395.3 156.0L1395.4 118.0L1395.5 96.0L1395.5 46.0Z" fill="url(#g0_32)"/><path style="mix-blend-mode:lighten" d="M1393.4 151.0L1392.7 176.0L1392.7 191.0L1392.9 206.0L1393.6 219.0L1394.4 219.0L1395.1 206.0L1395.3 191.0L1394.9 176.0L1394.2 151.0Z" fill="url(#g0_33)"/><path style="mix-blend-mode:lighten" d="M1399.7 82.0L1399.6 146.0L1399.7 178.0L1400.3 178.0L1400.4 146.0L1400.3 82.0Z" fill="url(#g0_34)"/><path style="mix-blend-mode:lighten" d="M1280.7 149.0L1280.6 176.0L1280.7 209.0L1281.3 209.0L1281.4 176.0L1281.3 149.0Z" fill="url(#g0_35)"/></g></g><path d="M826.5 46v5M826.5 251v-5M901.5 46v5M901.5 251v-5M977.5 46v5M977.5 251v-5M1052.5 46v5M1052.5 251v-5M1128.5 46v5M1128.5 251v-5M1203.5 46v5M1203.5 251v-5M1278.5 46v5M1278.5 251v-5M1354.5 46v5M1354.5 251v-5M1428.5 46v5M1428.5 251v-5M826 248.3h6M1429 248.3h-6M826 183.5h6M1429 183.5h-6M826 137.6h6M1429 137.6h-6M826 102.0h6M1429 102.0h-6M826 72.9h6M1429 72.9h-6M826 48.2h6M1429 48.2h-6" stroke="#000" stroke-opacity="0.35" stroke-width="1" fill="none"/><rect x="826" y="46" width="603" height="1" fill="#000" fill-opacity="0.28"/><rect x="826" y="46" width="1" height="205" fill="#000" fill-opacity="0.12"/>
<text x="826" y="265" text-anchor="middle">00:00</text>
<text x="901" y="265" text-anchor="middle">03:00</text>
<text x="977" y="265" text-anchor="middle">06:00</text>
<text x="1052" y="265" text-anchor="middle">09:00</text>
<text x="1128" y="265" text-anchor="middle">12:00</text>
<text x="1203" y="265" text-anchor="middle">15:00</text>
<text x="1278" y="265" text-anchor="middle">18:00</text>
<text x="1354" y="265" text-anchor="middle">21:00</text>
<text x="1429" y="265" text-anchor="middle">00:00</text>
<text x="822" y="252.3" text-anchor="end">2</text>
<text x="822" y="187.54722223512618" text-anchor="end">3</text>
<text x="822" y="141.60439526457674" text-anchor="end">4</text>
<text x="822" y="105.96837011969745" text-anchor="end">5</text>
<text x="822" y="76.85161749970288" text-anchor="end">6</text>
<text x="822" y="52.233753931289755" text-anchor="end">7</text>
<text transform="translate(806.5,148) rotate(-90)" text-anchor="middle" font-weight="bold">freq (mHz)</text>
<rect x="1448" y="46" width="25" height="205" fill="url(#jetgrad)"/>
<rect x="1472" y="46" width="1" height="205" fill="rgba(0,0,0,0.25)"/>
<text x="1476.7" y="254.9" text-anchor="start">0</text>
<text x="1476.7" y="220.9" text-anchor="start">1</text>
<path d="M1448 216.5h3M1473 216.5h-3" stroke="#000" stroke-opacity="0.55" fill="none"/>
<text x="1476.7" y="186.9" text-anchor="start">2</text>
<path d="M1448 182.5h3M1473 182.5h-3" stroke="#000" stroke-opacity="0.55" fill="none"/>
<text x="1476.7" y="152.9" text-anchor="start">3</text>
<path d="M1448 148.5h3M1473 148.5h-3" stroke="#000" stroke-opacity="0.55" fill="none"/>
<text x="1476.7" y="118.9" text-anchor="start">4</text>
<path d="M1448 114.5h3M1473 114.5h-3" stroke="#000" stroke-opacity="0.55" fill="none"/>
<text x="1476.7" y="84.9" text-anchor="start">5</text>
<path d="M1448 80.5h3M1473 80.5h-3" stroke="#000" stroke-opacity="0.55" fill="none"/>
<text x="1476.7" y="50.9" text-anchor="start">6</text>
<text transform="translate(1504,148) rotate(-90)" text-anchor="middle" font-weight="bold">log<tspan dy="4.5" font-size="9.5px">2</tspan><tspan dy="-4.5">(nT</tspan><tspan dy="-5.5" font-size="9.5px">2</tspan><tspan dy="5.5">/Hz)</tspan></text>
<rect x="32" y="330" width="604" height="1" fill="#c3c3c3"/>
<rect x="32" y="330" width="1" height="205" fill="#c3c3c3"/>
<rect x="32" y="534" width="604" height="1" fill="#a6a6a6"/>
<rect x="635" y="330" width="1" height="205" fill="#a6a6a6"/>
<rect x="32" y="330" width="1" height="6" fill="#a8a8a8"/>
<rect x="32" y="529" width="1" height="6" fill="#a8a8a8"/>
<text x="32.6" y="549" text-anchor="middle">00:00</text>
<rect x="107" y="330" width="1" height="6" fill="#a8a8a8"/>
<rect x="107" y="529" width="1" height="6" fill="#a8a8a8"/>
<text x="107.6" y="549" text-anchor="middle">03:00</text>
<rect x="183" y="330" width="1" height="6" fill="#a8a8a8"/>
<rect x="183" y="529" width="1" height="6" fill="#a8a8a8"/>
<text x="183.6" y="549" text-anchor="middle">06:00</text>
<rect x="258" y="330" width="1" height="6" fill="#a8a8a8"/>
<rect x="258" y="529" width="1" height="6" fill="#a8a8a8"/>
<text x="258.6" y="549" text-anchor="middle">09:00</text>
<rect x="334" y="330" width="1" height="6" fill="#a8a8a8"/>
<rect x="334" y="529" width="1" height="6" fill="#a8a8a8"/>
<text x="334.6" y="549" text-anchor="middle">12:00</text>
<rect x="409" y="330" width="1" height="6" fill="#a8a8a8"/>
<rect x="409" y="529" width="1" height="6" fill="#a8a8a8"/>
<text x="409.6" y="549" text-anchor="middle">15:00</text>
<rect x="484" y="330" width="1" height="6" fill="#a8a8a8"/>
<rect x="484" y="529" width="1" height="6" fill="#a8a8a8"/>
<text x="484.6" y="549" text-anchor="middle">18:00</text>
<rect x="560" y="330" width="1" height="6" fill="#a8a8a8"/>
<rect x="560" y="529" width="1" height="6" fill="#a8a8a8"/>
<text x="560.6" y="549" text-anchor="middle">21:00</text>
<rect x="635" y="330" width="1" height="6" fill="#a8a8a8"/>
<rect x="635" y="529" width="1" height="6" fill="#a8a8a8"/>
<text x="635.6" y="549" text-anchor="middle">00:00</text>
<rect x="32" y="330" width="6" height="1" fill="#a8a8a8"/>
<rect x="630" y="330" width="6" height="1" fill="#a8a8a8"/>
<text x="28.5" y="334.2" text-anchor="end">3</text>
<rect x="32" y="359" width="6" height="1" fill="#a8a8a8"/>
<rect x="630" y="359" width="6" height="1" fill="#a8a8a8"/>
<text x="28.5" y="363.2" text-anchor="end">2</text>
<rect x="32" y="388" width="6" height="1" fill="#a8a8a8"/>
<rect x="630" y="388" width="6" height="1" fill="#a8a8a8"/>
<text x="28.5" y="392.2" text-anchor="end">1</text>
<rect x="32" y="417" width="6" height="1" fill="#a8a8a8"/>
<rect x="630" y="417" width="6" height="1" fill="#a8a8a8"/>
<text x="28.5" y="421.2" text-anchor="end">0</text>
<rect x="32" y="446" width="6" height="1" fill="#a8a8a8"/>
<rect x="630" y="446" width="6" height="1" fill="#a8a8a8"/>
<text x="28.5" y="450.2" text-anchor="end">-1</text>
<rect x="32" y="475" width="6" height="1" fill="#a8a8a8"/>
<rect x="630" y="475" width="6" height="1" fill="#a8a8a8"/>
<text x="28.5" y="479.2" text-anchor="end">-2</text>
<rect x="32" y="504" width="6" height="1" fill="#a8a8a8"/>
<rect x="630" y="504" width="6" height="1" fill="#a8a8a8"/>
<text x="28.5" y="508.2" text-anchor="end">-3</text>
<rect x="32" y="534" width="6" height="1" fill="#a8a8a8"/>
<rect x="630" y="534" width="6" height="1" fill="#a8a8a8"/>
<text x="28.5" y="538.2" text-anchor="end">-4</text>
<path d="M32.5 415.2V419.2M33.5 414.5V420.3M34.5 411.6V419.8M35.5 414.8V418.7M36.5 412.1V421.2M37.5 414.5V418.8M38.5 415.6V420.5M39.5 412.5V419.9M40.5 415.1V419.8M41.5 413.7V418.8M42.5 415.0V419.3M43.5 415.4V421.2M44.5 416.1V420.5M45.5 413.8V417.8M46.5 411.5V417.9M47.5 412.9V420.5M48.5 415.5V420.3M49.5 416.2V421.5M50.5 413.5V422.2M51.5 412.8V418.6M52.5 413.9V419.9M53.5 414.2V420.6M54.5 414.6V419.7M55.5 414.4V418.5M56.5 413.5V419.6M57.5 413.9V421.1M58.5 413.9V420.5M59.5 414.6V420.5M60.5 414.3V420.8M61.5 414.7V419.7M62.5 411.9V419.1M63.5 415.3V420.0M64.5 415.7V420.1M65.5 414.1V420.1M66.5 413.6V418.0M67.5 414.6V421.0M68.5 415.0V419.5M69.5 413.9V420.0M70.5 413.5V419.8M71.5 411.0V420.4M72.5 414.0V419.6M73.5 415.7V420.9M74.5 415.8V421.1M75.5 412.4V420.7M76.5 413.2V419.9M77.5 413.7V419.2M78.5 412.5V419.2M79.5 414.6V420.2M80.5 415.4V421.7M81.5 414.1V418.4M82.5 413.8V421.3M83.5 415.1V420.3M84.5 413.8V419.5M85.5 415.0V419.8M86.5 414.4V418.9M87.5 413.6V421.3M88.5 412.7V418.2M89.5 414.1V422.9M90.5 415.0V422.4M91.5 415.8V421.6M92.5 412.2V418.2M93.5 413.8V417.9M94.5 413.7V421.3M95.5 414.9V420.3M96.5 413.1V421.6M97.5 412.6V420.1M98.5 413.0V418.8M99.5 413.8V420.0M100.5 415.0V421.2M101.5 415.4V419.9M102.5 414.2V419.6M103.5 413.4V419.4M104.5 411.4V418.6M105.5 413.1V420.1M106.5 415.9V420.2M107.5 414.8V419.9M108.5 414.3V419.7M109.5 413.7V419.7M110.5 415.6V420.1M111.5 412.6V421.6M112.5 414.9V419.3M113.5 413.1V419.5M114.5 414.2V421.2M115.5 415.9V420.9M116.5 412.1V419.6M117.5 413.0V419.2M118.5 412.2V417.9M119.5 413.6V421.5M120.5 413.9V420.8M121.5 414.9V423.0M122.5 414.8V420.7M123.5 413.5V419.4M124.5 414.5V418.8M125.5 415.1V421.5M126.5 415.7V421.0M127.5 413.0V420.2M128.5 414.1V419.2M129.5 414.8V419.2M130.5 415.3V420.0M131.5 415.2V420.3M132.5 416.0V419.6M133.5 413.9V419.1M134.5 414.4V421.4M135.5 413.3V420.2M136.5 413.5V419.0M137.5 415.7V421.4M138.5 413.0V420.5M139.5 415.9V422.5M140.5 413.8V420.8M141.5 413.3V417.1M142.5 413.0V419.0M143.5 414.3V419.4M144.5 415.8V420.8M145.5 414.9V419.7M146.5 412.9V419.3M147.5 412.5V418.3M148.5 415.1V420.1M149.5 415.5V420.8M150.5 415.3V418.9M151.5 414.8V418.9M152.5 412.0V418.0M153.5 413.7V419.3M154.5 414.8V419.7M155.5 416.4V421.5M156.5 413.5V418.9M157.5 414.5V417.8M158.5 413.7V418.3M159.5 414.9V418.6M160.5 414.3V423.0M161.5 415.5V420.2M162.5 415.6V419.5M163.5 413.5V418.2M164.5 414.5V419.7M165.5 414.6V422.3M166.5 413.2V421.8M167.5 415.1V421.3M168.5 410.9V420.3M169.5 414.7V420.7M170.5 413.8V419.5M171.5 416.1V422.0M172.5 414.2V419.7M173.5 412.6V419.6M174.5 414.5V418.9M175.5 415.8V422.6M176.5 415.7V420.1M177.5 413.9V418.8M178.5 412.3V419.8M179.5 413.1V419.7M180.5 414.6V422.8M181.5 415.9V420.2M182.5 414.2V419.2M183.5 412.4V419.1M184.5 412.3V421.4M185.5 414.0V422.8M186.5 414.2V420.1M187.5 414.6V420.1M188.5 411.3V421.9M189.5 412.1V418.6M190.5 414.2V420.0M191.5 413.0V422.7M192.5 414.1V421.9M193.5 412.5V418.4M194.5 410.0V422.0M195.5 414.7V421.4M196.5 414.1V421.5M197.5 414.4V419.6M198.5 413.0V418.3M199.5 413.3V418.4M200.5 414.5V420.3M201.5 414.7V423.0M202.5 412.5V422.5M203.5 409.8V420.7M204.5 411.2V419.3M205.5 414.1V420.6M206.5 411.9V420.9M207.5 414.4V420.2M208.5 410.6V419.1M209.5 414.2V419.7M210.5 414.5V424.5M211.5 414.6V421.3M212.5 413.2V422.5M213.5 413.3V419.3M214.5 410.5V420.0M215.5 414.1V421.3M216.5 415.4V420.8M217.5 413.7V423.4M218.5 413.4V419.7M219.5 412.0V421.2M220.5 411.0V422.3M221.5 416.6V423.9M222.5 416.2V421.2M223.5 414.3V419.4M224.5 411.4V417.6M225.5 413.6V418.4M226.5 414.1V419.7M227.5 415.7V422.3M228.5 412.8V420.9M229.5 412.9V418.2M230.5 414.2V420.2M231.5 414.4V421.2M232.5 414.8V420.2M233.5 412.5V423.3M234.5 413.1V420.5M235.5 413.0V418.5M236.5 411.5V422.8M237.5 413.4V420.4M238.5 414.8V420.3M239.5 413.3V419.9M240.5 410.5V417.5M241.5 414.4V419.4M242.5 414.6V422.5M243.5 412.4V420.0M244.5 415.0V420.7M245.5 413.1V418.6M246.5 412.7V419.5M247.5 414.7V422.5M248.5 414.3V421.6M249.5 413.9V419.7M250.5 416.0V421.8M251.5 410.8V419.3M252.5 409.8V418.2M253.5 409.6V418.1M254.5 414.7V420.6M255.5 415.2V420.0M256.5 414.1V419.0M257.5 413.1V420.2M258.5 413.8V418.9M259.5 413.1V422.6M260.5 413.0V420.7M261.5 415.3V420.5M262.5 414.2V421.7M263.5 412.2V418.3M264.5 412.6V418.1M265.5 413.9V419.2M266.5 414.8V420.5M267.5 412.1V420.4M268.5 410.9V422.7M269.5 414.0V418.7M270.5 412.7V422.2M271.5 415.5V421.5M272.5 415.1V420.6M273.5 414.3V421.9M274.5 411.5V420.0M275.5 414.5V423.3M276.5 415.4V423.4M277.5 414.3V421.8M278.5 415.3V420.3M279.5 413.0V422.6M280.5 411.6V422.5M281.5 414.1V420.1M282.5 416.4V424.6M283.5 415.6V421.0M284.5 414.1V420.8M285.5 412.9V417.6M286.5 414.1V420.5M287.5 414.7V421.1M288.5 414.9V420.4M289.5 414.0V424.0M290.5 413.3V418.0M291.5 413.3V420.2M292.5 410.1V419.0M293.5 413.8V424.3M294.5 413.4V422.0M295.5 413.8V419.8M296.5 413.1V423.0M297.5 415.2V421.6M298.5 413.8V421.7M299.5 415.8V421.3M300.5 411.5V420.6M301.5 413.2V418.9M302.5 413.4V421.4M303.5 414.8V423.5M304.5 415.8V422.9M305.5 413.5V421.5M306.5 413.4V418.1M307.5 410.9V418.7M308.5 413.7V420.7M309.5 415.0V421.4M310.5 413.5V423.4M311.5 409.5V422.0M312.5 414.3V419.7M313.5 412.9V421.1M314.5 415.6V421.6M315.5 413.4V424.0M316.5 413.4V417.6M317.5 413.7V420.2M318.5 414.2V420.3M319.5 415.6V422.0M320.5 413.2V420.3M321.5 411.6V418.2M322.5 414.4V420.5M323.5 415.3V421.0M324.5 414.5V421.3M325.5 415.5V424.2M326.5 414.2V419.2M327.5 412.7V418.2M328.5 411.2V421.6M329.5 414.3V423.0M330.5 411.5V422.5M331.5 410.4V420.5M332.5 410.3V419.9M333.5 413.3V418.3M334.5 414.0V419.9M335.5 415.3V420.5M336.5 411.9V418.6M337.5 412.1V418.6M338.5 414.2V421.6M339.5 413.8V424.5M340.5 415.4V421.6M341.5 412.0V419.9M342.5 410.7V419.2M343.5 411.0V421.5M344.5 416.0V424.5M345.5 414.1V422.5M346.5 412.7V420.7M347.5 413.2V421.0M348.5 414.5V422.5M349.5 416.2V421.3M350.5 415.3V422.0M351.5 409.8V419.5M352.5 410.8V422.3M353.5 412.0V419.7M354.5 414.9V420.7M355.5 413.3V421.0M356.5 412.0V419.2M357.5 413.5V418.8M358.5 414.5V422.7M359.5 416.0V420.7M360.5 413.0V421.0M361.5 412.2V417.6M362.5 413.2V418.2M363.5 415.6V420.2M364.5 415.2V423.3M365.5 412.0V420.1M366.5 412.3V421.2M367.5 414.8V421.4M368.5 412.0V421.4M369.5 415.7V422.3M370.5 413.7V419.5M371.5 413.8V417.9M372.5 414.4V421.7M373.5 412.0V423.1M374.5 414.0V419.2M375.5 414.0V420.1M376.5 412.6V419.2M377.5 414.6V420.3M378.5 414.3V419.1M379.5 415.8V420.8M380.5 413.7V422.1M381.5 413.6V419.4M382.5 412.8V418.0M383.5 414.3V421.5M384.5 414.5V423.3M385.5 415.8V420.9M386.5 413.6V419.1M387.5 414.5V418.7M388.5 412.7V418.7M389.5 415.1V420.8M390.5 413.5V421.5M391.5 412.6V420.6M392.5 413.6V419.2M393.5 413.4V419.6M394.5 414.1V420.3M395.5 416.3V421.6M396.5 412.4V420.7M397.5 414.7V419.1M398.5 413.5V419.8M399.5 414.0V419.4M400.5 415.5V423.0M401.5 416.0V419.9M402.5 415.2V421.0M403.5 414.3V419.4M404.5 413.8V419.0M405.5 412.7V418.3M406.5 415.7V420.6M407.5 415.4V419.7M408.5 414.3V420.0M409.5 412.9V419.1M410.5 413.2V420.0M411.5 415.1V420.4M412.5 415.5V421.0M413.5 411.9V420.5M414.5 413.9V421.0M415.5 412.8V419.4M416.5 414.7V419.7M417.5 414.9V421.1M418.5 411.3V420.4M419.5 414.4V418.9M420.5 412.9V419.5M421.5 413.5V423.6M422.5 412.6V420.2M423.5 414.0V419.7M424.5 412.5V418.5M425.5 413.4V419.2M426.5 414.9V420.2M427.5 414.3V420.9M428.5 414.5V418.8M429.5 412.3V418.3M430.5 413.1V417.9M431.5 414.1V419.0M432.5 416.0V419.6M433.5 415.5V420.5M434.5 411.8V418.6M435.5 411.9V420.2M436.5 414.1V419.6M437.5 414.9V421.8M438.5 415.2V423.3M439.5 414.4V422.1M440.5 414.0V419.4M441.5 412.5V420.1M442.5 413.7V419.6M443.5 415.9V420.4M444.5 415.4V419.5M445.5 411.0V419.7M446.5 414.2V418.6M447.5 415.9V419.7M448.5 414.9V420.7M449.5 413.2V418.7M450.5 414.2V421.7M451.5 414.7V418.6M452.5 415.8V421.2M453.5 414.6V420.5M454.5 413.0V420.9M455.5 413.1V420.2M456.5 414.7V420.5M457.5 413.6V422.8M458.5 413.8V419.9M459.5 413.9V418.4M460.5 414.6V420.5M461.5 415.1V420.2M462.5 415.7V421.0M463.5 415.7V419.4M464.5 413.2V417.9M465.5 412.9V421.1M466.5 412.5V420.2M467.5 413.5V420.5M468.5 414.9V421.2M469.5 410.7V418.9M470.5 412.8V419.5M471.5 414.3V419.9M472.5 415.0V420.7M473.5 413.9V420.5M474.5 410.3V420.7M475.5 412.0V422.1M476.5 415.8V420.3M477.5 415.8V419.9M478.5 413.7V419.7M479.5 414.4V418.9M480.5 412.7V419.6M481.5 416.4V419.6M482.5 414.9V419.8M483.5 411.6V422.0M484.5 410.3V418.0M485.5 411.6V419.0M486.5 415.1V420.6M487.5 413.9V421.0M488.5 415.2V418.7M489.5 411.3V418.5M490.5 411.9V418.4M491.5 415.2V420.5M492.5 415.7V421.5M493.5 414.5V419.4M494.5 412.7V419.3M495.5 414.4V418.9M496.5 415.5V420.1M497.5 415.9V420.7M498.5 415.2V423.3M499.5 413.9V418.3M500.5 413.1V419.2M501.5 412.1V420.2M502.5 415.8V419.9M503.5 415.2V420.9M504.5 413.6V421.4M505.5 412.1V419.0M506.5 414.2V419.8M507.5 414.1V420.5M508.5 414.9V419.8M509.5 414.1V419.0M510.5 411.9V419.8M511.5 412.0V421.9M512.5 413.3V420.5M513.5 412.3V421.9M514.5 414.1V422.1M515.5 413.4V417.6M516.5 414.3V420.4M517.5 412.4V420.7M518.5 414.2V421.9M519.5 411.9V419.2M520.5 413.7V418.9M521.5 414.2V419.4M522.5 413.3V420.7M523.5 414.1V421.1M524.5 413.7V418.7M525.5 412.3V417.5M526.5 413.3V420.6M527.5 415.0V421.3M528.5 415.4V421.0M529.5 412.2V420.6M530.5 414.1V419.6M531.5 414.3V418.5M532.5 414.4V422.8M533.5 414.6V419.2M534.5 410.8V419.9M535.5 413.0V419.6M536.5 415.0V420.9M537.5 415.5V422.1M538.5 410.7V420.8M539.5 412.2V418.2M540.5 416.1V420.5M541.5 415.4V421.0M542.5 413.0V419.6M543.5 412.3V419.6M544.5 413.7V420.0M545.5 411.0V419.2M546.5 415.2V420.6M547.5 415.0V422.3M548.5 413.1V419.1M549.5 413.5V421.8M550.5 411.5V420.1M551.5 413.9V420.6M552.5 413.1V419.0M553.5 413.8V420.2M554.5 412.1V422.8M555.5 414.8V422.8M556.5 413.3V420.8M557.5 411.1V419.1M558.5 413.7V418.7M559.5 414.4V420.8M560.5 414.9V421.6M561.5 415.4V424.0M562.5 414.2V419.5M563.5 412.8V419.0M564.5 414.0V418.1M565.5 414.9V420.4M566.5 412.6V421.9M567.5 416.0V419.4M568.5 412.9V420.7M569.5 412.7V422.3M570.5 414.6V418.8M571.5 415.8V420.8M572.5 414.6V423.7M573.5 413.9V420.8M574.5 413.8V419.3M575.5 414.3V421.8M576.5 415.3V422.7M577.5 415.0V420.2M578.5 413.5V422.9M579.5 411.2V419.6M580.5 411.8V418.6M581.5 412.9V418.3M582.5 413.7V420.6M583.5 413.5V424.0M584.5 413.3V422.3M585.5 414.4V419.1M586.5 413.1V419.1M587.5 412.2V418.8M588.5 413.6V420.5M589.5 416.1V420.0M590.5 415.4V420.2M591.5 414.6V421.0M592.5 414.6V419.1M593.5 412.6V418.5M594.5 416.0V421.1M595.5 413.4V423.5M596.5 412.3V419.7M597.5 411.3V420.6M598.5 412.6V422.3M599.5 413.4V419.7M600.5 415.2V422.9M601.5 412.3V418.0M602.5 413.0V418.9M603.5 415.0V421.4M604.5 415.4V423.8M605.5 414.3V420.3M606.5 411.2V422.3M607.5 413.3V420.0M608.5 414.3V419.3M609.5 413.4V420.3M610.5 412.2V419.5M611.5 411.8V418.7M612.5 414.6V421.6M613.5 415.3V423.2M614.5 413.8V421.1M615.5 411.2V418.5M616.5 412.3V419.5M617.5 412.1V422.0M618.5 416.3V419.9M619.5 415.4V420.0M620.5 413.9V420.5M621.5 413.0V420.0M622.5 414.8V420.6M623.5 414.5V420.1M624.5 414.9V421.9M625.5 413.2V419.1M626.5 413.9V419.9M627.5 415.2V419.0M628.5 412.7V420.7M629.5 412.2V421.2M630.5 414.4V418.5M631.5 413.2V418.3M632.5 413.1V420.3M633.5 415.5V421.8M634.5 415.2V420.2" fill="none" stroke="#0000ff" stroke-opacity="0.6" stroke-width="1"/><path d="M32.5 415.7V419.1M33.5 415.0V419.4M34.5 414.0V418.9M35.5 415.1V418.6M36.5 414.5V419.1M37.5 414.7V418.6M38.5 415.7V420.4M39.5 415.5V419.8M40.5 415.2V419.2M41.5 413.9V418.3M42.5 415.6V419.2M43.5 416.1V420.8M44.5 416.4V419.1M45.5 414.4V417.7M46.5 413.8V417.7M47.5 414.5V418.5M48.5 416.2V419.2M49.5 416.3V419.8M50.5 415.2V419.3M51.5 413.4V418.3M52.5 414.3V418.4M53.5 415.1V419.4M54.5 416.4V419.0M55.5 414.6V418.1M56.5 413.9V417.8M57.5 414.7V419.5M58.5 416.6V419.6M59.5 414.8V419.7M60.5 414.6V418.5M61.5 414.8V418.8M62.5 415.3V418.9M63.5 415.6V419.7M64.5 415.7V418.9M65.5 414.4V417.2M66.5 414.0V417.9M67.5 415.4V418.9M68.5 415.8V419.2M69.5 415.1V419.1M70.5 415.3V419.0M71.5 413.5V417.7M72.5 414.3V419.2M73.5 416.0V420.7M74.5 416.6V419.7M75.5 414.5V418.3M76.5 413.7V418.5M77.5 414.0V418.3M78.5 415.2V419.2M79.5 416.1V419.2M80.5 415.9V419.4M81.5 414.5V418.0M82.5 414.5V418.4M83.5 415.4V418.7M84.5 416.1V419.4M85.5 415.9V419.8M86.5 414.5V418.8M87.5 414.1V418.1M88.5 415.4V417.9M89.5 415.3V420.2M90.5 415.4V419.4M91.5 416.0V419.3M92.5 414.3V418.1M93.5 413.9V417.8M94.5 414.4V418.5M95.5 415.0V420.1M96.5 416.2V419.7M97.5 414.8V419.4M98.5 414.7V417.9M99.5 415.1V417.8M100.5 415.8V419.5M101.5 416.0V419.5M102.5 414.4V419.2M103.5 413.7V418.8M104.5 414.7V418.2M105.5 414.9V419.8M106.5 416.0V420.1M107.5 415.2V418.6M108.5 414.4V417.7M109.5 414.1V419.0M110.5 416.0V419.5M111.5 415.3V419.6M112.5 415.1V419.0M113.5 413.8V418.8M114.5 414.6V418.7M115.5 416.5V419.3M116.5 415.0V419.0M117.5 415.3V418.7M118.5 413.9V417.6M119.5 414.1V418.4M120.5 415.4V419.0M121.5 415.3V419.8M122.5 415.1V419.2M123.5 414.7V418.3M124.5 414.7V418.1M125.5 415.1V419.1M126.5 415.9V419.0M127.5 415.5V419.5M128.5 414.2V418.4M129.5 414.8V418.5M130.5 415.3V419.2M131.5 415.3V418.8M132.5 416.1V419.1M133.5 415.7V418.7M134.5 414.4V418.7M135.5 413.4V417.8M136.5 414.0V418.6M137.5 416.5V419.9M138.5 416.1V420.4M139.5 416.2V419.7M140.5 414.3V419.2M141.5 413.3V417.0M142.5 413.6V417.3M143.5 415.5V419.2M144.5 416.4V419.3M145.5 415.2V419.6M146.5 414.2V418.2M147.5 414.8V418.2M148.5 415.3V419.5M149.5 415.8V419.0M150.5 415.4V418.8M151.5 415.1V418.2M152.5 414.6V417.7M153.5 414.6V419.0M154.5 416.0V419.2M155.5 416.5V420.1M156.5 414.0V418.4M157.5 414.5V417.5M158.5 414.0V417.9M159.5 415.0V418.6M160.5 415.7V420.3M161.5 416.1V419.9M162.5 415.9V418.7M163.5 413.9V417.6M164.5 414.5V417.7M165.5 415.5V419.3M166.5 416.0V419.4M167.5 415.3V420.1M168.5 413.8V418.5M169.5 415.3V417.9M170.5 416.0V419.3M171.5 416.1V419.9M172.5 415.6V418.3M173.5 414.0V418.8M174.5 414.7V418.3M175.5 416.5V420.2M176.5 416.3V419.3M177.5 414.5V418.0M178.5 414.9V417.8M179.5 415.3V418.2M180.5 416.1V419.9M181.5 416.1V419.6M182.5 414.3V419.1M183.5 413.3V418.5M184.5 414.2V417.9M185.5 414.4V419.2M186.5 414.8V420.0M187.5 415.6V419.4M188.5 413.8V418.3M189.5 413.8V417.9M190.5 414.6V418.7M191.5 416.6V419.8M192.5 414.8V420.1M193.5 413.6V418.0M194.5 413.7V418.7M195.5 415.4V420.6M196.5 416.2V420.3M197.5 415.1V418.9M198.5 413.3V418.2M199.5 414.3V418.3M200.5 415.1V419.6M201.5 414.9V420.7M202.5 413.5V419.2M203.5 413.3V418.2M204.5 414.8V419.1M205.5 416.0V420.2M206.5 415.2V420.8M207.5 414.7V419.0M208.5 413.0V418.0M209.5 414.4V419.4M210.5 415.9V421.2M211.5 415.0V419.4M212.5 414.4V419.8M213.5 413.4V418.5M214.5 414.1V417.8M215.5 414.5V419.8M216.5 416.2V419.9M217.5 414.8V420.4M218.5 414.1V418.5M219.5 414.2V419.2M220.5 414.5V418.5M221.5 417.0V421.0M222.5 416.4V420.5M223.5 414.8V419.4M224.5 413.6V417.6M225.5 414.3V417.8M226.5 415.1V419.6M227.5 415.9V419.7M228.5 414.6V420.4M229.5 414.6V417.9M230.5 414.5V418.7M231.5 415.0V420.5M232.5 415.2V420.0M233.5 415.9V419.6M234.5 415.0V419.3M235.5 413.0V418.0M236.5 415.0V419.7M237.5 416.1V420.2M238.5 415.2V419.5M239.5 414.0V419.3M240.5 413.6V417.1M241.5 414.9V418.5M242.5 415.2V419.6M243.5 415.5V419.4M244.5 415.5V420.2M245.5 413.7V418.3M246.5 413.9V417.3M247.5 415.0V418.9M248.5 414.5V419.9M249.5 415.8V419.5M250.5 416.5V421.2M251.5 414.6V419.2M252.5 413.4V418.1M253.5 413.2V417.7M254.5 414.8V419.1M255.5 415.7V419.5M256.5 414.8V419.0M257.5 413.9V419.7M258.5 414.5V418.8M259.5 414.0V419.1M260.5 415.4V419.3M261.5 416.8V419.9M262.5 414.7V420.7M263.5 414.2V418.2M264.5 414.5V418.0M265.5 414.0V419.1M266.5 415.1V420.4M267.5 415.5V419.8M268.5 413.1V418.6M269.5 414.7V418.6M270.5 414.8V419.7M271.5 415.9V420.8M272.5 415.9V420.1M273.5 414.9V418.9M274.5 412.9V418.4M275.5 414.5V420.5M276.5 415.7V420.5M277.5 415.7V421.0M278.5 415.4V420.2M279.5 413.2V418.7M280.5 413.8V418.7M281.5 414.5V419.8M282.5 416.7V421.3M283.5 416.1V420.7M284.5 414.2V419.3M285.5 413.2V417.1M286.5 414.3V418.5M287.5 415.2V419.4M288.5 415.2V420.2M289.5 414.9V420.1M290.5 413.8V417.6M291.5 413.8V417.6M292.5 413.9V418.5M293.5 415.3V420.4M294.5 414.1V420.0M295.5 414.0V417.9M296.5 414.6V419.4M297.5 415.3V420.0M298.5 415.4V421.1M299.5 416.1V421.0M300.5 414.2V418.8M301.5 413.9V418.0M302.5 413.4V418.1M303.5 415.1V420.5M304.5 416.2V420.2M305.5 414.3V420.0M306.5 414.0V417.6M307.5 412.8V418.7M308.5 415.0V419.5M309.5 415.5V420.2M310.5 414.4V419.5M311.5 412.9V418.5M312.5 414.7V418.7M313.5 415.2V420.2M314.5 416.1V421.0M315.5 414.3V420.4M316.5 413.5V417.1M317.5 414.8V419.3M318.5 414.5V419.5M319.5 415.8V420.2M320.5 413.7V419.3M321.5 412.2V417.9M322.5 415.2V419.9M323.5 415.7V420.4M324.5 414.8V420.6M325.5 415.5V420.5M326.5 414.3V418.2M327.5 412.9V418.1M328.5 414.1V418.6M329.5 415.0V419.9M330.5 415.2V420.8M331.5 414.0V418.1M332.5 414.4V418.3M333.5 413.9V417.9M334.5 414.1V419.5M335.5 415.9V420.3M336.5 414.5V418.6M337.5 412.6V417.1M338.5 414.8V419.8M339.5 415.1V420.5M340.5 416.1V420.6M341.5 414.3V419.0M342.5 412.9V418.5M343.5 414.1V419.9M344.5 416.7V420.6M345.5 415.7V420.2M346.5 412.9V418.6M347.5 413.3V418.0M348.5 415.0V419.8M349.5 416.3V419.9M350.5 415.4V420.6M351.5 412.9V418.7M352.5 414.1V418.7M353.5 415.1V419.6M354.5 415.9V420.0M355.5 414.5V419.5M356.5 413.9V419.1M357.5 413.7V418.3M358.5 414.7V419.0M359.5 416.5V420.1M360.5 414.6V420.1M361.5 414.4V417.6M362.5 413.7V418.2M363.5 415.8V419.5M364.5 415.9V420.0M365.5 414.3V419.1M366.5 412.9V418.1M367.5 414.9V419.5M368.5 415.6V420.5M369.5 415.7V419.8M370.5 414.4V419.1M371.5 414.0V417.8M372.5 414.7V418.1M373.5 415.2V420.0M374.5 415.6V418.7M375.5 414.0V418.0M376.5 413.1V417.6M377.5 414.7V417.5M378.5 415.0V418.7M379.5 415.8V419.4M380.5 415.4V419.2M381.5 414.0V418.7M382.5 413.4V417.7M383.5 414.9V419.1M384.5 416.3V420.8M385.5 416.0V419.3M386.5 413.8V418.9M387.5 414.7V417.4M388.5 414.4V418.4M389.5 415.6V418.6M390.5 415.3V420.5M391.5 415.3V419.3M392.5 414.5V418.8M393.5 414.2V419.1M394.5 414.9V418.4M395.5 416.6V419.3M396.5 415.3V419.3M397.5 415.0V418.9M398.5 413.8V417.8M399.5 414.6V418.9M400.5 416.1V420.0M401.5 416.5V419.4M402.5 415.6V419.9M403.5 415.0V419.0M404.5 413.9V417.9M405.5 414.8V418.3M406.5 416.0V420.5M407.5 416.1V419.3M408.5 414.5V419.3M409.5 414.3V417.1M410.5 413.6V418.4M411.5 415.4V420.1M412.5 415.9V419.6M413.5 415.1V419.9M414.5 414.4V419.0M415.5 414.6V418.5M416.5 415.2V419.4M417.5 415.7V420.3M418.5 414.3V419.6M419.5 414.6V418.3M420.5 414.3V418.1M421.5 416.6V420.3M422.5 415.9V420.0M423.5 415.7V419.4M424.5 414.1V418.0M425.5 414.3V417.9M426.5 415.0V420.1M427.5 416.5V420.4M428.5 415.5V418.6M429.5 415.0V418.2M430.5 413.5V417.7M431.5 414.5V418.9M432.5 416.2V419.5M433.5 416.9V420.1M434.5 413.9V418.3M435.5 414.8V417.7M436.5 414.3V418.5M437.5 415.2V419.5M438.5 415.7V420.5M439.5 414.8V418.8M440.5 414.4V418.7M441.5 413.2V417.5M442.5 415.8V419.5M443.5 416.3V420.4M444.5 415.6V418.6M445.5 413.6V418.1M446.5 415.1V418.5M447.5 416.2V419.7M448.5 415.4V420.2M449.5 414.0V417.7M450.5 414.4V418.7M451.5 414.9V418.2M452.5 416.0V419.2M453.5 416.0V420.1M454.5 414.5V418.6M455.5 413.8V418.8M456.5 415.6V419.9M457.5 415.3V419.4M458.5 414.1V417.8M459.5 414.6V418.3M460.5 414.7V419.3M461.5 415.4V420.1M462.5 415.8V420.9M463.5 416.0V418.9M464.5 413.8V417.7M465.5 413.5V417.6M466.5 415.0V419.8M467.5 415.0V420.2M468.5 415.0V419.4M469.5 413.2V418.5M470.5 414.6V418.9M471.5 414.6V419.8M472.5 415.3V420.6M473.5 414.4V418.4M474.5 413.7V417.8M475.5 414.1V419.3M476.5 416.2V419.3M477.5 416.2V419.9M478.5 414.4V418.8M479.5 414.5V417.4M480.5 414.9V419.3M481.5 416.4V419.4M482.5 415.7V419.5M483.5 414.7V419.3M484.5 413.4V417.9M485.5 414.6V418.8M486.5 415.3V419.7M487.5 415.5V420.5M488.5 415.5V418.6M489.5 414.3V418.0M490.5 413.3V418.3M491.5 415.2V419.6M492.5 416.1V419.7M493.5 415.1V419.3M494.5 413.0V418.2M495.5 414.4V418.0M496.5 415.7V419.9M497.5 416.7V420.5M498.5 415.5V420.6M499.5 414.2V417.9M500.5 413.9V417.5M501.5 414.6V418.5M502.5 416.1V419.7M503.5 415.3V420.7M504.5 414.3V419.2M505.5 413.4V418.6M506.5 414.8V419.1M507.5 415.4V420.3M508.5 415.2V419.0M509.5 414.2V418.7M510.5 413.6V417.7M511.5 414.3V419.4M512.5 415.5V420.4M513.5 415.3V419.4M514.5 414.2V418.8M515.5 413.4V417.3M516.5 414.5V420.0M517.5 415.9V419.8M518.5 414.9V419.7M519.5 413.9V418.0M520.5 414.1V418.1M521.5 415.9V419.4M522.5 415.8V420.7M523.5 414.6V418.8M524.5 413.7V418.5M525.5 414.6V417.5M526.5 415.1V419.2M527.5 415.5V420.4M528.5 415.8V419.7M529.5 415.2V420.2M530.5 414.3V418.2M531.5 414.7V418.3M532.5 416.1V420.7M533.5 415.3V419.0M534.5 413.7V417.6M535.5 413.8V417.4M536.5 415.1V420.6M537.5 415.9V418.9M538.5 413.5V419.0M539.5 414.3V417.8M540.5 416.2V420.4M541.5 415.5V420.9M542.5 415.6V419.6M543.5 415.0V419.3M544.5 414.2V418.9M545.5 414.6V418.8M546.5 415.5V420.2M547.5 415.6V420.9M548.5 415.5V418.6M549.5 413.9V418.7M550.5 414.4V418.3M551.5 415.3V419.5M552.5 415.6V418.9M553.5 414.1V418.8M554.5 414.5V419.1M555.5 416.5V420.8M556.5 415.6V420.1M557.5 414.1V418.8M558.5 414.1V418.3M559.5 414.9V419.2M560.5 415.1V420.1M561.5 416.0V421.1M562.5 415.9V419.1M563.5 414.1V418.8M564.5 414.9V418.0M565.5 415.6V420.2M566.5 416.0V420.0M567.5 416.0V418.8M568.5 414.7V419.0M569.5 414.1V419.0M570.5 415.2V418.1M571.5 416.1V419.1M572.5 415.0V420.4M573.5 414.5V418.7M574.5 414.0V417.2M575.5 414.8V418.4M576.5 415.5V419.8M577.5 415.6V419.8M578.5 416.0V419.5M579.5 414.8V419.2M580.5 413.9V418.2M581.5 413.2V417.8M582.5 414.4V418.0M583.5 415.6V420.5M584.5 416.0V420.0M585.5 415.1V419.1M586.5 413.3V417.6M587.5 413.8V418.2M588.5 413.7V418.6M589.5 416.3V419.6M590.5 416.0V419.7M591.5 414.6V418.3M592.5 414.8V418.8M593.5 413.6V418.3M594.5 416.5V420.7M595.5 416.0V420.9M596.5 414.6V419.2M597.5 413.5V419.0M598.5 413.6V418.8M599.5 415.3V419.3M600.5 415.8V420.8M601.5 414.7V417.9M602.5 414.0V418.2M603.5 415.4V419.4M604.5 415.5V420.1M605.5 415.0V420.1M606.5 414.2V418.6M607.5 414.2V417.7M608.5 414.5V418.8M609.5 415.9V420.0M610.5 413.6V418.3M611.5 414.5V418.0M612.5 414.7V419.1M613.5 415.5V419.5M614.5 416.2V420.8M615.5 413.4V418.2M616.5 413.6V418.1M617.5 415.7V420.1M618.5 416.6V419.6M619.5 415.6V419.1M620.5 414.0V418.3M621.5 413.4V418.5M622.5 414.9V419.7M623.5 415.5V420.0M624.5 415.1V420.2M625.5 413.9V419.1M626.5 414.4V417.5M627.5 415.4V418.5M628.5 416.4V420.3M629.5 414.9V420.5M630.5 414.6V418.2M631.5 413.6V417.9M632.5 415.2V419.8M633.5 416.5V420.1M634.5 416.1V419.7" fill="none" stroke="#0000ff" stroke-width="1"/><path d="M146.7 403.6V420.0M194.3 373.5V429.3M228.4 412.0V428.0M245.6 402.5V426.0M258.1 383.5V438.2M279.8 410.0V427.0M293.6 365.0V460.5M309.2 373.0V431.5M331.1 383.5V437.0M392.5 353.0V513.0M396.5 353.0V455.0M419.3 402.5V420.0M512.8 398.5V435.6M544.5 406.0V428.0M585.0 404.7V432.7M612.6 404.7V429.3M634.5 404.0V425.0" fill="none" stroke="#0000ff" stroke-opacity="0.45" stroke-width="1"/>
<text transform="translate(9,432) rotate(-90)" text-anchor="middle" font-weight="bold">Y (nT)</text>
<defs><linearGradient id="g1_0" gradientUnits="userSpaceOnUse" x1="0" y1="440" x2="0" y2="527"><stop offset="0.000" stop-color="#131313"/><stop offset="0.345" stop-color="#555555"/><stop offset="0.529" stop-color="#646464"/><stop offset="0.805" stop-color="#4b4b4b"/><stop offset="1.000" stop-color="#131313"/></linearGradient><linearGradient id="g1_1" gradientUnits="userSpaceOnUse" x1="0" y1="354" x2="0" y2="498"><stop offset="0.000" stop-color="#131313"/><stop offset="0.250" stop-color="#424242"/><stop offset="0.736" stop-color="#474747"/><stop offset="1.000" stop-color="#131313"/></linearGradient><linearGradient id="g1_2" gradientUnits="userSpaceOnUse" x1="0" y1="407" x2="0" y2="462"><stop offset="0.000" stop-color="#131313"/><stop offset="0.491" stop-color="#414141"/><stop offset="1.000" stop-color="#131313"/></linearGradient><linearGradient id="g1_3" gradientUnits="userSpaceOnUse" x1="0" y1="431" x2="0" y2="483"><stop offset="0.000" stop-color="#131313"/><stop offset="0.500" stop-color="#414141"/><stop offset="1.000" stop-color="#131313"/></linearGradient><linearGradient id="g1_4" gradientUnits="userSpaceOnUse" x1="0" y1="433" x2="0" y2="505"><stop offset="0.000" stop-color="#131313"/><stop offset="0.514" stop-color="#333333"/><stop offset="1.000" stop-color="#131313"/></linearGradient><linearGradient id="g1_5" gradientUnits="userSpaceOnUse" x1="0" y1="447" x2="0" y2="491"><stop offset="0.000" stop-color="#131313"/><stop offset="0.500" stop-color="#383838"/><stop offset="1.000" stop-color="#131313"/></linearGradient><linearGradient id="g1_6" gradientUnits="userSpaceOnUse" x1="0" y1="376" x2="0" y2="536"><stop offset="0.000" stop-color="#131313"/><stop offset="0.244" stop-color="#818181"/><stop offset="0.381" stop-color="#999999"/><stop offset="0.613" stop-color="#9b9b9b"/><stop offset="0.775" stop-color="#7f7f7f"/><stop offset="0.900" stop-color="#6e6e6e"/><stop offset="1.000" stop-color="#636363"/></linearGradient><linearGradient id="g1_7" gradientUnits="userSpaceOnUse" x1="0" y1="349" x2="0" y2="536"><stop offset="0.000" stop-color="#1f1f1f"/><stop offset="0.219" stop-color="#4c4c4c"/><stop offset="0.476" stop-color="#4d4d4d"/><stop offset="0.594" stop-color="#6c6c6c"/><stop offset="0.754" stop-color="#808080"/><stop offset="0.888" stop-color="#6f6f6f"/><stop offset="1.000" stop-color="#565656"/></linearGradient><linearGradient id="g1_8" gradientUnits="userSpaceOnUse" x1="0" y1="452" x2="0" y2="498"><stop offset="0.000" stop-color="#131313"/><stop offset="0.500" stop-color="#414141"/><stop offset="1.000" stop-color="#131313"/></linearGradient><linearGradient id="g1_9" gradientUnits="userSpaceOnUse" x1="0" y1="426" x2="0" y2="536"><stop offset="0.000" stop-color="#1f1f1f"/><stop offset="0.264" stop-color="#555555"/><stop offset="0.582" stop-color="#6e6e6e"/><stop offset="0.782" stop-color="#686868"/><stop offset="0.900" stop-color="#424242"/><stop offset="1.000" stop-color="#292929"/></linearGradient><linearGradient id="g1_10" gradientUnits="userSpaceOnUse" x1="0" y1="337" x2="0" y2="519"><stop offset="0.000" stop-color="#1f1f1f"/><stop offset="0.181" stop-color="#797979"/><stop offset="0.308" stop-color="#8f8f8f"/><stop offset="0.604" stop-color="#8f8f8f"/><stop offset="0.786" stop-color="#5f5f5f"/><stop offset="1.000" stop-color="#131313"/></linearGradient><linearGradient id="g1_11" gradientUnits="userSpaceOnUse" x1="0" y1="364" x2="0" y2="450"><stop offset="0.000" stop-color="#131313"/><stop offset="0.419" stop-color="#4e4e4e"/><stop offset="0.663" stop-color="#555555"/><stop offset="1.000" stop-color="#131313"/></linearGradient><linearGradient id="g1_12" gradientUnits="userSpaceOnUse" x1="0" y1="330" x2="0" y2="512"><stop offset="0.000" stop-color="#b2b2b2"/><stop offset="0.396" stop-color="#a3a3a3"/><stop offset="0.824" stop-color="#555555"/><stop offset="0.945" stop-color="#454545"/><stop offset="1.000" stop-color="#131313"/></linearGradient><linearGradient id="g1_13" gradientUnits="userSpaceOnUse" x1="0" y1="457" x2="0" y2="474"><stop offset="0.000" stop-color="#0c0c0c"/><stop offset="0.588" stop-color="#313131"/><stop offset="1.000" stop-color="#0c0c0c"/></linearGradient><linearGradient id="g1_14" gradientUnits="userSpaceOnUse" x1="0" y1="330" x2="0" y2="390"><stop offset="0.000" stop-color="#3d3d3d"/><stop offset="0.333" stop-color="#4e4e4e"/><stop offset="0.750" stop-color="#4c4c4c"/><stop offset="1.000" stop-color="#131313"/></linearGradient><linearGradient id="g1_15" gradientUnits="userSpaceOnUse" x1="0" y1="368" x2="0" y2="455"><stop offset="0.000" stop-color="#1f1f1f"/><stop offset="0.425" stop-color="#555555"/><stop offset="0.713" stop-color="#4e4e4e"/><stop offset="1.000" stop-color="#131313"/></linearGradient><linearGradient id="g1_16" gradientUnits="userSpaceOnUse" x1="0" y1="330" x2="0" y2="462"><stop offset="0.000" stop-color="#999999"/><stop offset="0.455" stop-color="#8e8e8e"/><stop offset="1.000" stop-color="#131313"/></linearGradient><linearGradient id="g1_17" gradientUnits="userSpaceOnUse" x1="0" y1="400" x2="0" y2="443"><stop offset="0.000" stop-color="#131313"/><stop offset="0.465" stop-color="#3d3d3d"/><stop offset="1.000" stop-color="#131313"/></linearGradient><linearGradient id="g1_18" gradientUnits="userSpaceOnUse" x1="0" y1="330" x2="0" y2="450"><stop offset="0.000" stop-color="#878787"/><stop offset="0.300" stop-color="#aaaaaa"/><stop offset="0.500" stop-color="#aaaaaa"/><stop offset="0.667" stop-color="#929292"/><stop offset="1.000" stop-color="#1f1f1f"/></linearGradient><linearGradient id="g1_19" gradientUnits="userSpaceOnUse" x1="0" y1="330" x2="0" y2="421"><stop offset="0.000" stop-color="#585858"/><stop offset="0.549" stop-color="#535353"/><stop offset="1.000" stop-color="#131313"/></linearGradient><linearGradient id="g1_20" gradientUnits="userSpaceOnUse" x1="0" y1="412" x2="0" y2="524"><stop offset="0.000" stop-color="#1f1f1f"/><stop offset="0.161" stop-color="#464646"/><stop offset="0.339" stop-color="#434343"/><stop offset="0.518" stop-color="#414141"/><stop offset="0.786" stop-color="#414141"/><stop offset="1.000" stop-color="#2e2e2e"/></linearGradient><linearGradient id="g1_21" gradientUnits="userSpaceOnUse" x1="0" y1="440" x2="0" y2="525"><stop offset="0.000" stop-color="#1f1f1f"/><stop offset="0.294" stop-color="#414141"/><stop offset="0.647" stop-color="#414141"/><stop offset="0.906" stop-color="#343434"/><stop offset="1.000" stop-color="#131313"/></linearGradient><linearGradient id="g1_22" gradientUnits="userSpaceOnUse" x1="0" y1="503" x2="0" y2="536"><stop offset="0.000" stop-color="#131313"/><stop offset="0.667" stop-color="#4c4c4c"/><stop offset="1.000" stop-color="#3d3d3d"/></linearGradient><clipPath id="cp1"><rect x="826" y="330" width="603" height="205"/></clipPath></defs><g clip-path="url(#cp1)"><g filter="url(#jetf)" style="isolation:isolate"><rect x="816" y="320" width="623" height="225" fill="#000"/><path style="mix-blend-mode:lighten" d="M834.1 440.0L832.6 470.0L831.7 486.0L832.6 510.0L834.1 527.0L836.1 527.0L837.6 510.0L838.5 486.0L837.6 470.0L836.1 440.0Z" fill="url(#g1_0)" opacity="0.200"/><path style="mix-blend-mode:lighten" d="M977.2 354.0L977.1 390.0L978.1 460.0L979.0 498.0L981.0 498.0L980.9 460.0L979.9 390.0L979.2 354.0Z" fill="url(#g1_1)" opacity="0.200"/><path style="mix-blend-mode:lighten" d="M987.3 407.0L986.6 434.0L987.3 462.0L989.3 462.0L990.0 434.0L989.3 407.0Z" fill="url(#g1_2)" opacity="0.200"/><path style="mix-blend-mode:lighten" d="M995.7 431.0L995.0 457.0L995.7 483.0L997.7 483.0L998.4 457.0L997.7 431.0Z" fill="url(#g1_3)" opacity="0.200"/><path style="mix-blend-mode:lighten" d="M1012.0 433.0L1011.6 470.0L1012.0 505.0L1014.0 505.0L1014.4 470.0L1014.0 433.0Z" fill="url(#g1_4)" opacity="0.200"/><path style="mix-blend-mode:lighten" d="M1020.4 447.0L1019.7 469.0L1020.4 491.0L1022.4 491.0L1023.1 469.0L1022.4 447.0Z" fill="url(#g1_5)" opacity="0.200"/><path style="mix-blend-mode:lighten" d="M1033.7 376.0L1032.2 415.0L1031.0 437.0L1029.9 474.0L1028.2 500.0L1027.6 520.0L1027.6 536.0L1041.8 536.0L1041.8 520.0L1041.2 500.0L1039.5 474.0L1038.4 437.0L1037.2 415.0L1035.7 376.0Z" fill="url(#g1_6)" opacity="0.200"/><path style="mix-blend-mode:lighten" d="M1046.5 349.0L1046.1 390.0L1045.3 438.0L1043.0 460.0L1041.2 490.0L1040.7 515.0L1041.2 536.0L1053.2 536.0L1053.7 515.0L1053.2 490.0L1051.5 460.0L1049.3 438.0L1048.9 390.0L1048.5 349.0Z" fill="url(#g1_7)" opacity="0.200"/><path style="mix-blend-mode:lighten" d="M1055.6 452.0L1054.9 475.0L1055.6 498.0L1057.6 498.0L1058.3 475.0L1057.6 452.0Z" fill="url(#g1_8)" opacity="0.200"/><path style="mix-blend-mode:lighten" d="M1066.6 426.0L1064.2 455.0L1060.5 490.0L1059.9 512.0L1060.8 525.0L1062.5 536.0L1072.7 536.0L1074.4 525.0L1075.2 512.0L1074.7 490.0L1071.0 455.0L1068.6 426.0Z" fill="url(#g1_9)" opacity="0.200"/><path style="mix-blend-mode:lighten" d="M1084.0 337.0L1083.3 370.0L1082.5 393.0L1082.5 447.0L1083.3 480.0L1084.0 519.0L1086.0 519.0L1086.7 480.0L1087.5 447.0L1087.5 393.0L1086.7 370.0L1086.0 337.0Z" fill="url(#g1_10)" opacity="0.200"/><path style="mix-blend-mode:lighten" d="M1097.6 364.0L1096.9 400.0L1096.0 421.0L1097.6 450.0L1099.6 450.0L1101.1 421.0L1100.3 400.0L1099.6 364.0Z" fill="url(#g1_11)" opacity="0.200"/><path style="mix-blend-mode:lighten" d="M1181.4 330.0L1181.4 402.0L1180.8 480.0L1180.5 502.0L1181.5 512.0L1183.5 512.0L1184.5 502.0L1184.8 480.0L1184.2 402.0L1184.2 330.0Z" fill="url(#g1_12)" opacity="0.200"/><path style="mix-blend-mode:lighten" d="M1234.0 457.0L1234.0 467.0L1234.0 474.0L1236.0 474.0L1236.0 467.0L1236.0 457.0Z" fill="url(#g1_13)" opacity="0.200"/><path style="mix-blend-mode:lighten" d="M1295.6 330.0L1295.0 350.0L1295.3 375.0L1295.7 390.0L1297.7 390.0L1298.1 375.0L1298.4 350.0L1297.8 330.0Z" fill="url(#g1_14)" opacity="0.200"/><path style="mix-blend-mode:lighten" d="M1309.6 368.0L1308.6 405.0L1309.3 430.0L1310.5 455.0L1312.5 455.0L1312.7 430.0L1312.6 405.0L1311.6 368.0Z" fill="url(#g1_15)" opacity="0.200"/><path style="mix-blend-mode:lighten" d="M1327.2 330.0L1327.2 390.0L1327.6 462.0L1329.6 462.0L1330.0 390.0L1330.0 330.0Z" fill="url(#g1_16)" opacity="0.200"/><path style="mix-blend-mode:lighten" d="M1331.2 400.0L1330.8 420.0L1331.2 443.0L1333.2 443.0L1333.6 420.0L1333.2 400.0Z" fill="url(#g1_17)" opacity="0.200"/><path style="mix-blend-mode:lighten" d="M1366.1 330.0L1365.5 366.0L1365.5 390.0L1366.1 410.0L1367.3 450.0L1369.3 450.0L1370.1 410.0L1370.6 390.0L1370.6 366.0L1370.1 330.0Z" fill="url(#g1_18)" opacity="0.200"/><path style="mix-blend-mode:lighten" d="M1393.9 330.0L1393.9 380.0L1394.0 421.0L1396.0 421.0L1396.1 380.0L1396.1 330.0Z" fill="url(#g1_19)" opacity="0.200"/><path style="mix-blend-mode:lighten" d="M1399.0 412.0L1396.3 430.0L1397.1 450.0L1397.3 470.0L1397.8 500.0L1399.0 524.0L1403.0 524.0L1401.2 500.0L1400.7 470.0L1403.9 450.0L1403.7 430.0L1401.0 412.0Z" fill="url(#g1_20)" opacity="0.200"/><path style="mix-blend-mode:lighten" d="M1401.0 440.0L1401.8 465.0L1402.8 495.0L1401.3 517.0L1401.0 525.0L1403.0 525.0L1404.7 517.0L1406.2 495.0L1405.2 465.0L1403.0 440.0Z" fill="url(#g1_21)" opacity="0.200"/><path style="mix-blend-mode:lighten" d="M1413.9 503.0L1413.5 525.0L1413.8 536.0L1416.0 536.0L1416.3 525.0L1415.9 503.0Z" fill="url(#g1_22)" opacity="0.200"/><path style="mix-blend-mode:lighten" d="M834.3 440.0L833.1 470.0L832.5 486.0L833.1 510.0L834.3 527.0L835.9 527.0L837.1 510.0L837.7 486.0L837.1 470.0L835.9 440.0Z" fill="url(#g1_0)" opacity="0.312"/><path style="mix-blend-mode:lighten" d="M977.4 354.0L977.5 390.0L978.5 460.0L979.2 498.0L980.8 498.0L980.5 460.0L979.5 390.0L979.0 354.0Z" fill="url(#g1_1)" opacity="0.312"/><path style="mix-blend-mode:lighten" d="M987.5 407.0L987.0 434.0L987.5 462.0L989.1 462.0L989.6 434.0L989.1 407.0Z" fill="url(#g1_2)" opacity="0.312"/><path style="mix-blend-mode:lighten" d="M995.9 431.0L995.4 457.0L995.9 483.0L997.5 483.0L998.0 457.0L997.5 431.0Z" fill="url(#g1_3)" opacity="0.312"/><path style="mix-blend-mode:lighten" d="M1012.2 433.0L1012.0 470.0L1012.2 505.0L1013.8 505.0L1014.0 470.0L1013.8 433.0Z" fill="url(#g1_4)" opacity="0.312"/><path style="mix-blend-mode:lighten" d="M1020.6 447.0L1020.1 469.0L1020.6 491.0L1022.2 491.0L1022.7 469.0L1022.2 447.0Z" fill="url(#g1_5)" opacity="0.312"/><path style="mix-blend-mode:lighten" d="M1033.9 376.0L1032.8 415.0L1031.8 437.0L1031.1 474.0L1029.8 500.0L1029.2 520.0L1029.2 536.0L1040.2 536.0L1040.2 520.0L1039.6 500.0L1038.3 474.0L1037.6 437.0L1036.7 415.0L1035.5 376.0Z" fill="url(#g1_6)" opacity="0.312"/><path style="mix-blend-mode:lighten" d="M1046.7 349.0L1046.5 390.0L1045.7 438.0L1044.0 460.0L1042.7 490.0L1042.3 515.0L1042.7 536.0L1051.8 536.0L1052.1 515.0L1051.8 490.0L1050.5 460.0L1048.9 438.0L1048.5 390.0L1048.3 349.0Z" fill="url(#g1_7)" opacity="0.312"/><path style="mix-blend-mode:lighten" d="M1055.8 452.0L1055.3 475.0L1055.8 498.0L1057.4 498.0L1057.9 475.0L1057.4 452.0Z" fill="url(#g1_8)" opacity="0.312"/><path style="mix-blend-mode:lighten" d="M1066.8 426.0L1065.0 455.0L1062.1 490.0L1061.8 512.0L1062.4 525.0L1063.7 536.0L1071.5 536.0L1072.8 525.0L1073.4 512.0L1073.1 490.0L1070.2 455.0L1068.4 426.0Z" fill="url(#g1_9)" opacity="0.312"/><path style="mix-blend-mode:lighten" d="M1084.2 337.0L1083.7 370.0L1083.0 393.0L1083.0 447.0L1083.7 480.0L1084.2 519.0L1085.8 519.0L1086.3 480.0L1087.0 447.0L1087.0 393.0L1086.3 370.0L1085.8 337.0Z" fill="url(#g1_10)" opacity="0.312"/><path style="mix-blend-mode:lighten" d="M1097.8 364.0L1097.3 400.0L1096.6 421.0L1097.8 450.0L1099.4 450.0L1100.5 421.0L1099.9 400.0L1099.4 364.0Z" fill="url(#g1_11)" opacity="0.312"/><path style="mix-blend-mode:lighten" d="M1181.8 330.0L1181.8 402.0L1181.2 480.0L1180.9 502.0L1181.7 512.0L1183.3 512.0L1184.1 502.0L1184.4 480.0L1183.8 402.0L1183.8 330.0Z" fill="url(#g1_12)" opacity="0.312"/><path style="mix-blend-mode:lighten" d="M1234.2 457.0L1234.2 467.0L1234.2 474.0L1235.8 474.0L1235.8 467.0L1235.8 457.0Z" fill="url(#g1_13)" opacity="0.312"/><path style="mix-blend-mode:lighten" d="M1295.9 330.0L1295.4 350.0L1295.7 375.0L1295.9 390.0L1297.5 390.0L1297.7 375.0L1298.0 350.0L1297.5 330.0Z" fill="url(#g1_14)" opacity="0.312"/><path style="mix-blend-mode:lighten" d="M1309.8 368.0L1309.0 405.0L1309.7 430.0L1310.7 455.0L1312.3 455.0L1312.3 430.0L1312.2 405.0L1311.4 368.0Z" fill="url(#g1_15)" opacity="0.312"/><path style="mix-blend-mode:lighten" d="M1327.6 330.0L1327.6 390.0L1327.8 462.0L1329.4 462.0L1329.6 390.0L1329.6 330.0Z" fill="url(#g1_16)" opacity="0.312"/><path style="mix-blend-mode:lighten" d="M1331.4 400.0L1331.2 420.0L1331.4 443.0L1333.0 443.0L1333.2 420.0L1333.0 400.0Z" fill="url(#g1_17)" opacity="0.312"/><path style="mix-blend-mode:lighten" d="M1366.5 330.0L1366.1 366.0L1366.1 390.0L1366.5 410.0L1367.5 450.0L1369.1 450.0L1369.7 410.0L1370.0 390.0L1370.0 366.0L1369.7 330.0Z" fill="url(#g1_18)" opacity="0.312"/><path style="mix-blend-mode:lighten" d="M1394.1 330.0L1394.2 380.0L1394.2 421.0L1395.8 421.0L1395.8 380.0L1395.9 330.0Z" fill="url(#g1_19)" opacity="0.312"/><path style="mix-blend-mode:lighten" d="M1399.2 412.0L1397.1 430.0L1397.9 450.0L1397.7 470.0L1398.2 500.0L1399.4 524.0L1402.6 524.0L1400.8 500.0L1400.3 470.0L1403.1 450.0L1402.9 430.0L1400.8 412.0Z" fill="url(#g1_20)" opacity="0.312"/><path style="mix-blend-mode:lighten" d="M1401.2 440.0L1402.2 465.0L1403.2 495.0L1401.7 517.0L1401.2 525.0L1402.8 525.0L1404.3 517.0L1405.8 495.0L1404.8 465.0L1402.8 440.0Z" fill="url(#g1_21)" opacity="0.312"/><path style="mix-blend-mode:lighten" d="M1414.1 503.0L1413.9 525.0L1414.1 536.0L1415.7 536.0L1415.9 525.0L1415.7 503.0Z" fill="url(#g1_22)" opacity="0.312"/><path style="mix-blend-mode:lighten" d="M834.6 440.0L833.8 470.0L833.3 486.0L833.8 510.0L834.6 527.0L835.6 527.0L836.5 510.0L836.9 486.0L836.5 470.0L835.6 440.0Z" fill="url(#g1_0)" opacity="0.545"/><path style="mix-blend-mode:lighten" d="M977.7 354.0L977.8 390.0L978.8 460.0L979.5 498.0L980.5 498.0L980.2 460.0L979.2 390.0L978.7 354.0Z" fill="url(#g1_1)" opacity="0.545"/><path style="mix-blend-mode:lighten" d="M987.8 407.0L987.4 434.0L987.8 462.0L988.8 462.0L989.2 434.0L988.8 407.0Z" fill="url(#g1_2)" opacity="0.545"/><path style="mix-blend-mode:lighten" d="M996.2 431.0L995.8 457.0L996.2 483.0L997.2 483.0L997.6 457.0L997.2 431.0Z" fill="url(#g1_3)" opacity="0.545"/><path style="mix-blend-mode:lighten" d="M1012.5 433.0L1012.3 470.0L1012.5 505.0L1013.5 505.0L1013.7 470.0L1013.5 433.0Z" fill="url(#g1_4)" opacity="0.545"/><path style="mix-blend-mode:lighten" d="M1020.9 447.0L1020.5 469.0L1020.9 491.0L1021.9 491.0L1022.3 469.0L1021.9 447.0Z" fill="url(#g1_5)" opacity="0.545"/><path style="mix-blend-mode:lighten" d="M1034.2 376.0L1033.4 415.0L1032.7 437.0L1032.2 474.0L1031.3 500.0L1030.9 520.0L1030.9 536.0L1038.5 536.0L1038.5 520.0L1038.1 500.0L1037.2 474.0L1036.7 437.0L1036.0 415.0L1035.2 376.0Z" fill="url(#g1_6)" opacity="0.545"/><path style="mix-blend-mode:lighten" d="M1047.0 349.0L1046.8 390.0L1046.2 438.0L1045.0 460.0L1044.0 490.0L1043.8 515.0L1044.0 536.0L1050.4 536.0L1050.6 515.0L1050.4 490.0L1049.5 460.0L1048.4 438.0L1048.2 390.0L1048.0 349.0Z" fill="url(#g1_7)" opacity="0.545"/><path style="mix-blend-mode:lighten" d="M1056.1 452.0L1055.7 475.0L1056.1 498.0L1057.1 498.0L1057.5 475.0L1057.1 452.0Z" fill="url(#g1_8)" opacity="0.545"/><path style="mix-blend-mode:lighten" d="M1067.1 426.0L1065.8 455.0L1063.8 490.0L1063.5 512.0L1064.0 525.0L1064.9 536.0L1070.3 536.0L1071.2 525.0L1071.6 512.0L1071.4 490.0L1069.4 455.0L1068.1 426.0Z" fill="url(#g1_9)" opacity="0.545"/><path style="mix-blend-mode:lighten" d="M1084.5 337.0L1084.1 370.0L1083.7 393.0L1083.7 447.0L1084.1 480.0L1084.5 519.0L1085.5 519.0L1085.9 480.0L1086.3 447.0L1086.3 393.0L1085.9 370.0L1085.5 337.0Z" fill="url(#g1_10)" opacity="0.545"/><path style="mix-blend-mode:lighten" d="M1098.1 364.0L1097.7 400.0L1097.2 421.0L1098.1 450.0L1099.1 450.0L1099.9 421.0L1099.5 400.0L1099.1 364.0Z" fill="url(#g1_11)" opacity="0.545"/><path style="mix-blend-mode:lighten" d="M1182.1 330.0L1182.1 402.0L1181.7 480.0L1181.4 502.0L1182.0 512.0L1183.0 512.0L1183.6 502.0L1183.9 480.0L1183.5 402.0L1183.5 330.0Z" fill="url(#g1_12)" opacity="0.545"/><path style="mix-blend-mode:lighten" d="M1234.5 457.0L1234.5 467.0L1234.5 474.0L1235.5 474.0L1235.5 467.0L1235.5 457.0Z" fill="url(#g1_13)" opacity="0.545"/><path style="mix-blend-mode:lighten" d="M1296.1 330.0L1295.8 350.0L1296.0 375.0L1296.2 390.0L1297.2 390.0L1297.4 375.0L1297.6 350.0L1297.3 330.0Z" fill="url(#g1_14)" opacity="0.545"/><path style="mix-blend-mode:lighten" d="M1310.1 368.0L1309.5 405.0L1310.1 430.0L1311.0 455.0L1312.0 455.0L1311.9 430.0L1311.7 405.0L1311.1 368.0Z" fill="url(#g1_15)" opacity="0.545"/><path style="mix-blend-mode:lighten" d="M1327.9 330.0L1327.9 390.0L1328.1 462.0L1329.1 462.0L1329.3 390.0L1329.3 330.0Z" fill="url(#g1_16)" opacity="0.545"/><path style="mix-blend-mode:lighten" d="M1331.7 400.0L1331.5 420.0L1331.7 443.0L1332.7 443.0L1332.9 420.0L1332.7 400.0Z" fill="url(#g1_17)" opacity="0.545"/><path style="mix-blend-mode:lighten" d="M1367.0 330.0L1366.8 366.0L1366.8 390.0L1367.0 410.0L1367.8 450.0L1368.8 450.0L1369.2 410.0L1369.4 390.0L1369.4 366.0L1369.2 330.0Z" fill="url(#g1_18)" opacity="0.545"/><path style="mix-blend-mode:lighten" d="M1394.4 330.0L1394.4 380.0L1394.5 421.0L1395.5 421.0L1395.6 380.0L1395.6 330.0Z" fill="url(#g1_19)" opacity="0.545"/><path style="mix-blend-mode:lighten" d="M1399.5 412.0L1398.0 430.0L1398.7 450.0L1398.1 470.0L1398.6 500.0L1399.9 524.0L1402.1 524.0L1400.4 500.0L1399.9 470.0L1402.3 450.0L1402.0 430.0L1400.5 412.0Z" fill="url(#g1_20)" opacity="0.545"/><path style="mix-blend-mode:lighten" d="M1401.5 440.0L1402.6 465.0L1403.6 495.0L1402.1 517.0L1401.5 525.0L1402.5 525.0L1403.9 517.0L1405.4 495.0L1404.4 465.0L1402.5 440.0Z" fill="url(#g1_21)" opacity="0.545"/><path style="mix-blend-mode:lighten" d="M1414.4 503.0L1414.2 525.0L1414.3 536.0L1415.5 536.0L1415.6 525.0L1415.4 503.0Z" fill="url(#g1_22)" opacity="0.545"/><path style="mix-blend-mode:lighten" d="M834.8 440.0L834.4 470.0L834.2 486.0L834.4 510.0L834.8 527.0L835.4 527.0L835.8 510.0L836.0 486.0L835.8 470.0L835.4 440.0Z" fill="url(#g1_0)"/><path style="mix-blend-mode:lighten" d="M977.9 354.0L978.1 390.0L979.1 460.0L979.7 498.0L980.3 498.0L979.9 460.0L978.9 390.0L978.5 354.0Z" fill="url(#g1_1)"/><path style="mix-blend-mode:lighten" d="M988.0 407.0L987.8 434.0L988.0 462.0L988.6 462.0L988.8 434.0L988.6 407.0Z" fill="url(#g1_2)"/><path style="mix-blend-mode:lighten" d="M996.4 431.0L996.2 457.0L996.4 483.0L997.0 483.0L997.2 457.0L997.0 431.0Z" fill="url(#g1_3)"/><path style="mix-blend-mode:lighten" d="M1012.7 433.0L1012.6 470.0L1012.7 505.0L1013.3 505.0L1013.4 470.0L1013.3 433.0Z" fill="url(#g1_4)"/><path style="mix-blend-mode:lighten" d="M1021.1 447.0L1020.9 469.0L1021.1 491.0L1021.7 491.0L1021.9 469.0L1021.7 447.0Z" fill="url(#g1_5)"/><path style="mix-blend-mode:lighten" d="M1034.4 376.0L1034.0 415.0L1033.7 437.0L1033.4 474.0L1033.0 500.0L1032.8 520.0L1032.8 536.0L1036.6 536.0L1036.6 520.0L1036.4 500.0L1036.0 474.0L1035.7 437.0L1035.4 415.0L1035.0 376.0Z" fill="url(#g1_6)"/><path style="mix-blend-mode:lighten" d="M1047.2 349.0L1047.1 390.0L1046.8 438.0L1046.1 460.0L1045.6 490.0L1045.5 515.0L1045.6 536.0L1048.8 536.0L1048.9 515.0L1048.8 490.0L1048.3 460.0L1047.8 438.0L1047.9 390.0L1047.8 349.0Z" fill="url(#g1_7)"/><path style="mix-blend-mode:lighten" d="M1056.3 452.0L1056.1 475.0L1056.3 498.0L1056.9 498.0L1057.0 475.0L1056.9 452.0Z" fill="url(#g1_8)"/><path style="mix-blend-mode:lighten" d="M1067.3 426.0L1066.7 455.0L1065.7 490.0L1065.6 512.0L1065.8 525.0L1066.2 536.0L1068.9 536.0L1069.4 525.0L1069.6 512.0L1069.5 490.0L1068.5 455.0L1067.9 426.0Z" fill="url(#g1_9)"/><path style="mix-blend-mode:lighten" d="M1084.7 337.0L1084.5 370.0L1084.3 393.0L1084.3 447.0L1084.5 480.0L1084.7 519.0L1085.3 519.0L1085.5 480.0L1085.7 447.0L1085.7 393.0L1085.5 370.0L1085.3 337.0Z" fill="url(#g1_10)"/><path style="mix-blend-mode:lighten" d="M1098.3 364.0L1098.1 400.0L1097.9 421.0L1098.3 450.0L1098.9 450.0L1099.3 421.0L1099.0 400.0L1098.9 364.0Z" fill="url(#g1_11)"/><path style="mix-blend-mode:lighten" d="M1182.4 330.0L1182.4 402.0L1182.3 480.0L1182.0 502.0L1182.2 512.0L1182.8 512.0L1183.0 502.0L1183.3 480.0L1183.2 402.0L1183.2 330.0Z" fill="url(#g1_12)"/><path style="mix-blend-mode:lighten" d="M1234.7 457.0L1234.7 467.0L1234.7 474.0L1235.3 474.0L1235.3 467.0L1235.3 457.0Z" fill="url(#g1_13)"/><path style="mix-blend-mode:lighten" d="M1296.4 330.0L1296.2 350.0L1296.3 375.0L1296.4 390.0L1297.0 390.0L1297.1 375.0L1297.2 350.0L1297.0 330.0Z" fill="url(#g1_14)"/><path style="mix-blend-mode:lighten" d="M1310.3 368.0L1310.1 405.0L1310.5 430.0L1311.2 455.0L1311.8 455.0L1311.5 430.0L1311.1 405.0L1310.9 368.0Z" fill="url(#g1_15)"/><path style="mix-blend-mode:lighten" d="M1328.2 330.0L1328.2 390.0L1328.3 462.0L1328.9 462.0L1329.0 390.0L1329.0 330.0Z" fill="url(#g1_16)"/><path style="mix-blend-mode:lighten" d="M1331.9 400.0L1331.8 420.0L1331.9 443.0L1332.5 443.0L1332.6 420.0L1332.5 400.0Z" fill="url(#g1_17)"/><path style="mix-blend-mode:lighten" d="M1367.6 330.0L1367.4 366.0L1367.4 390.0L1367.6 410.0L1368.0 450.0L1368.6 450.0L1368.6 410.0L1368.8 390.0L1368.8 366.0L1368.6 330.0Z" fill="url(#g1_18)"/><path style="mix-blend-mode:lighten" d="M1394.7 330.0L1394.7 380.0L1394.7 421.0L1395.3 421.0L1395.3 380.0L1395.3 330.0Z" fill="url(#g1_19)"/><path style="mix-blend-mode:lighten" d="M1399.7 412.0L1399.0 430.0L1399.6 450.0L1398.5 470.0L1399.0 500.0L1400.5 524.0L1401.5 524.0L1400.0 500.0L1399.5 470.0L1401.4 450.0L1401.0 430.0L1400.3 412.0Z" fill="url(#g1_20)"/><path style="mix-blend-mode:lighten" d="M1401.7 440.0L1403.0 465.0L1404.0 495.0L1402.5 517.0L1401.7 525.0L1402.3 525.0L1403.5 517.0L1405.0 495.0L1404.0 465.0L1402.3 440.0Z" fill="url(#g1_21)"/><path style="mix-blend-mode:lighten" d="M1414.6 503.0L1414.5 525.0L1414.6 536.0L1415.2 536.0L1415.3 525.0L1415.2 503.0Z" fill="url(#g1_22)"/></g></g><path d="M826.5 330v5M826.5 535v-5M901.5 330v5M901.5 535v-5M977.5 330v5M977.5 535v-5M1052.5 330v5M1052.5 535v-5M1128.5 330v5M1128.5 535v-5M1203.5 330v5M1203.5 535v-5M1278.5 330v5M1278.5 535v-5M1354.5 330v5M1354.5 535v-5M1428.5 330v5M1428.5 535v-5M826 532.3h6M1429 532.3h-6M826 467.5h6M1429 467.5h-6M826 421.6h6M1429 421.6h-6M826 386.0h6M1429 386.0h-6M826 356.9h6M1429 356.9h-6M826 332.2h6M1429 332.2h-6" stroke="#000" stroke-opacity="0.35" stroke-width="1" fill="none"/><rect x="826" y="330" width="603" height="1" fill="#000" fill-opacity="0.28"/><rect x="826" y="330" width="1" height="205" fill="#000" fill-opacity="0.12"/>
<text x="826" y="549" text-anchor="middle">00:00</text>
<text x="901" y="549" text-anchor="middle">03:00</text>
<text x="977" y="549" text-anchor="middle">06:00</text>
<text x="1052" y="549" text-anchor="middle">09:00</text>
<text x="1128" y="549" text-anchor="middle">12:00</text>
<text x="1203" y="549" text-anchor="middle">15:00</text>
<text x="1278" y="549" text-anchor="middle">18:00</text>
<text x="1354" y="549" text-anchor="middle">21:00</text>
<text x="1429" y="549" text-anchor="middle">00:00</text>
<text x="822" y="536.3" text-anchor="end">2</text>
<text x="822" y="471.5472222351261" text-anchor="end">3</text>
<text x="822" y="425.6043952645767" text-anchor="end">4</text>
<text x="822" y="389.9683701196974" text-anchor="end">5</text>
<text x="822" y="360.8516174997028" text-anchor="end">6</text>
<text x="822" y="336.2337539312897" text-anchor="end">7</text>
<text transform="translate(806.5,432) rotate(-90)" text-anchor="middle" font-weight="bold">freq (mHz)</text>
<rect x="1448" y="330" width="25" height="205" fill="url(#jetgrad)"/>
<rect x="1472" y="330" width="1" height="205" fill="rgba(0,0,0,0.25)"/>
<text x="1476.7" y="538.9" text-anchor="start">0</text>
<text x="1476.7" y="504.9" text-anchor="start">1</text>
<path d="M1448 500.5h3M1473 500.5h-3" stroke="#000" stroke-opacity="0.55" fill="none"/>
<text x="1476.7" y="470.9" text-anchor="start">2</text>
<path d="M1448 466.5h3M1473 466.5h-3" stroke="#000" stroke-opacity="0.55" fill="none"/>
<text x="1476.7" y="436.9" text-anchor="start">3</text>
<path d="M1448 432.5h3M1473 432.5h-3" stroke="#000" stroke-opacity="0.55" fill="none"/>
<text x="1476.7" y="402.9" text-anchor="start">4</text>
<path d="M1448 398.5h3M1473 398.5h-3" stroke="#000" stroke-opacity="0.55" fill="none"/>
<text x="1476.7" y="368.9" text-anchor="start">5</text>
<path d="M1448 364.5h3M1473 364.5h-3" stroke="#000" stroke-opacity="0.55" fill="none"/>
<text x="1476.7" y="334.9" text-anchor="start">6</text>
<text transform="translate(1504,432) rotate(-90)" text-anchor="middle" font-weight="bold">log<tspan dy="4.5" font-size="9.5px">2</tspan><tspan dy="-4.5">(nT</tspan><tspan dy="-5.5" font-size="9.5px">2</tspan><tspan dy="5.5">/Hz)</tspan></text>
<rect x="32" y="614" width="604" height="1" fill="#c3c3c3"/>
<rect x="32" y="614" width="1" height="205" fill="#c3c3c3"/>
<rect x="32" y="818" width="604" height="1" fill="#a6a6a6"/>
<rect x="635" y="614" width="1" height="205" fill="#a6a6a6"/>
<rect x="32" y="614" width="1" height="6" fill="#a8a8a8"/>
<rect x="32" y="813" width="1" height="6" fill="#a8a8a8"/>
<text x="32.6" y="833" text-anchor="middle">00:00</text>
<rect x="107" y="614" width="1" height="6" fill="#a8a8a8"/>
<rect x="107" y="813" width="1" height="6" fill="#a8a8a8"/>
<text x="107.6" y="833" text-anchor="middle">03:00</text>
<rect x="183" y="614" width="1" height="6" fill="#a8a8a8"/>
<rect x="183" y="813" width="1" height="6" fill="#a8a8a8"/>
<text x="183.6" y="833" text-anchor="middle">06:00</text>
<rect x="258" y="614" width="1" height="6" fill="#a8a8a8"/>
<rect x="258" y="813" width="1" height="6" fill="#a8a8a8"/>
<text x="258.6" y="833" text-anchor="middle">09:00</text>
<rect x="334" y="614" width="1" height="6" fill="#a8a8a8"/>
<rect x="334" y="813" width="1" height="6" fill="#a8a8a8"/>
<text x="334.6" y="833" text-anchor="middle">12:00</text>
<rect x="409" y="614" width="1" height="6" fill="#a8a8a8"/>
<rect x="409" y="813" width="1" height="6" fill="#a8a8a8"/>
<text x="409.6" y="833" text-anchor="middle">15:00</text>
<rect x="484" y="614" width="1" height="6" fill="#a8a8a8"/>
<rect x="484" y="813" width="1" height="6" fill="#a8a8a8"/>
<text x="484.6" y="833" text-anchor="middle">18:00</text>
<rect x="560" y="614" width="1" height="6" fill="#a8a8a8"/>
<rect x="560" y="813" width="1" height="6" fill="#a8a8a8"/>
<text x="560.6" y="833" text-anchor="middle">21:00</text>
<rect x="635" y="614" width="1" height="6" fill="#a8a8a8"/>
<rect x="635" y="813" width="1" height="6" fill="#a8a8a8"/>
<text x="635.6" y="833" text-anchor="middle">00:00</text>
<rect x="32" y="614" width="6" height="1" fill="#a8a8a8"/>
<rect x="630" y="614" width="6" height="1" fill="#a8a8a8"/>
<text x="28.5" y="618.2" text-anchor="end">1</text>
<rect x="32" y="648" width="6" height="1" fill="#a8a8a8"/>
<rect x="630" y="648" width="6" height="1" fill="#a8a8a8"/>
<text x="28.5" y="652.2" text-anchor="end">0</text>
<rect x="32" y="682" width="6" height="1" fill="#a8a8a8"/>
<rect x="630" y="682" width="6" height="1" fill="#a8a8a8"/>
<text x="28.5" y="686.2" text-anchor="end">-1</text>
<rect x="32" y="716" width="6" height="1" fill="#a8a8a8"/>
<rect x="630" y="716" width="6" height="1" fill="#a8a8a8"/>
<text x="28.5" y="720.2" text-anchor="end">-2</text>
<rect x="32" y="750" width="6" height="1" fill="#a8a8a8"/>
<rect x="630" y="750" width="6" height="1" fill="#a8a8a8"/>
<text x="28.5" y="754.2" text-anchor="end">-3</text>
<rect x="32" y="784" width="6" height="1" fill="#a8a8a8"/>
<rect x="630" y="784" width="6" height="1" fill="#a8a8a8"/>
<text x="28.5" y="788.2" text-anchor="end">-4</text>
<rect x="32" y="818" width="6" height="1" fill="#a8a8a8"/>
<rect x="630" y="818" width="6" height="1" fill="#a8a8a8"/>
<text x="28.5" y="822.2" text-anchor="end">-5</text>
<path d="M32.5 643.7V650.0M33.5 645.5V648.5M34.5 642.8V647.7M35.5 643.7V650.7M36.5 642.3V648.8M37.5 641.9V650.7M38.5 646.1V650.3M39.5 642.5V648.2M40.5 642.2V649.9M41.5 641.3V650.0M42.5 644.0V648.0M43.5 645.0V650.4M44.5 643.7V649.3M45.5 641.6V647.8M46.5 642.0V648.8M47.5 641.7V652.1M48.5 644.0V649.8M49.5 644.4V649.2M50.5 643.2V648.4M51.5 642.8V649.2M52.5 644.4V649.7M53.5 645.0V649.4M54.5 642.8V650.6M55.5 643.2V650.7M56.5 643.0V650.4M57.5 643.8V650.2M58.5 644.4V649.0M59.5 642.9V648.8M60.5 641.7V648.4M61.5 643.7V649.2M62.5 645.2V651.1M63.5 646.2V650.0M64.5 643.5V648.8M65.5 643.3V649.6M66.5 643.1V648.2M67.5 644.0V647.8M68.5 644.6V650.2M69.5 644.3V651.1M70.5 643.6V649.6M71.5 643.2V647.5M72.5 644.4V648.8M73.5 644.7V650.0M74.5 643.2V649.1M75.5 641.5V648.5M76.5 644.1V648.3M77.5 641.9V651.1M78.5 644.4V648.6M79.5 644.7V651.9M80.5 644.4V648.5M81.5 643.3V650.8M82.5 644.3V648.9M83.5 644.4V651.7M84.5 644.1V651.4M85.5 640.4V647.6M86.5 641.8V650.3M87.5 644.3V649.7M88.5 645.5V652.3M89.5 643.8V650.7M90.5 641.6V648.7M91.5 641.1V647.2M92.5 644.0V649.3M93.5 644.6V649.7M94.5 645.3V650.2M95.5 644.2V648.9M96.5 644.1V647.3M97.5 644.4V648.2M98.5 642.7V649.3M99.5 646.1V650.8M100.5 643.7V650.0M101.5 641.7V648.7M102.5 640.0V648.0M103.5 644.0V648.5M104.5 641.5V649.3M105.5 643.8V651.3M106.5 644.3V649.1M107.5 641.3V647.8M108.5 642.8V651.0M109.5 642.8V651.0M110.5 643.7V652.3M111.5 642.2V649.4M112.5 642.9V652.0M113.5 643.2V648.4M114.5 642.5V647.7M115.5 643.3V647.9M116.5 642.4V649.8M117.5 645.5V650.3M118.5 644.8V648.6M119.5 642.9V647.3M120.5 643.3V647.6M121.5 643.6V648.3M122.5 644.8V650.2M123.5 644.7V651.5M124.5 642.7V649.4M125.5 644.2V648.2M126.5 642.7V647.7M127.5 642.0V648.5M128.5 644.1V651.9M129.5 645.2V649.0M130.5 643.9V648.3M131.5 640.7V648.7M132.5 640.7V647.7M133.5 644.2V650.6M134.5 644.6V650.7M135.5 644.1V650.7M136.5 641.4V649.3M137.5 642.8V648.4M138.5 644.4V650.9M139.5 643.6V651.3M140.5 644.8V651.2M141.5 644.8V648.7M142.5 643.9V648.9M143.5 643.1V648.3M144.5 645.7V649.4M145.5 644.1V648.4M146.5 642.0V647.8M147.5 643.2V649.3M148.5 643.3V649.7M149.5 644.0V649.2M150.5 642.5V649.9M151.5 642.5V647.8M152.5 643.9V648.2M153.5 642.8V650.4M154.5 645.0V649.2M155.5 644.1V651.2M156.5 644.0V649.1M157.5 644.4V650.6M158.5 644.1V648.7M159.5 641.5V650.1M160.5 644.5V651.3M161.5 645.8V650.4M162.5 645.1V651.3M163.5 643.7V649.0M164.5 642.5V650.4M165.5 644.4V649.0M166.5 644.4V650.1M167.5 645.3V649.8M168.5 643.5V650.8M169.5 643.4V649.5M170.5 643.4V650.5M171.5 643.2V649.4M172.5 645.1V651.8M173.5 644.5V649.8M174.5 642.0V648.6M175.5 642.1V647.5M176.5 640.9V647.9M177.5 642.9V648.5M178.5 645.6V652.9M179.5 641.1V652.2M180.5 641.2V650.4M181.5 644.0V651.5M182.5 643.0V650.5M183.5 645.6V650.9M184.5 644.1V650.4M185.5 644.8V650.9M186.5 642.1V648.9M187.5 643.0V648.5M188.5 644.2V649.2M189.5 642.3V649.9M190.5 642.8V654.3M191.5 644.4V649.4M192.5 642.4V647.4M193.5 641.6V647.4M194.5 643.6V651.0M195.5 644.1V653.2M196.5 641.8V651.2M197.5 642.9V649.2M198.5 644.0V652.4M199.5 641.1V650.4M200.5 640.2V650.4M201.5 640.3V647.8M202.5 642.2V650.1M203.5 642.6V650.4M204.5 642.0V650.8M205.5 642.9V648.6M206.5 638.7V649.9M207.5 640.7V651.5M208.5 644.6V651.4M209.5 642.7V651.1M210.5 642.3V651.5M211.5 642.4V649.2M212.5 640.5V650.0M213.5 642.6V650.2M214.5 640.9V650.9M215.5 639.9V648.5M216.5 642.3V648.9M217.5 644.4V649.8M218.5 644.2V650.9M219.5 645.1V653.5M220.5 642.9V649.2M221.5 639.8V648.3M222.5 642.0V648.6M223.5 644.8V652.0M224.5 644.1V650.2M225.5 643.6V649.1M226.5 640.6V648.8M227.5 642.8V648.4M228.5 643.5V650.2M229.5 644.7V651.3M230.5 639.9V649.3M231.5 638.7V648.6M232.5 641.3V649.6M233.5 643.2V649.7M234.5 643.2V653.8M235.5 643.7V653.1M236.5 641.0V649.4M237.5 641.4V648.6M238.5 639.1V651.6M239.5 641.5V649.7M240.5 644.9V653.5M241.5 642.6V648.3M242.5 639.0V648.8M243.5 641.8V649.9M244.5 642.0V649.4M245.5 643.7V652.6M246.5 644.1V652.1M247.5 642.8V648.8M248.5 641.2V652.9M249.5 643.5V652.6M250.5 643.9V650.6M251.5 643.1V651.1M252.5 640.9V648.6M253.5 643.3V648.7M254.5 641.3V651.6M255.5 642.8V650.8M256.5 645.6V651.1M257.5 641.6V653.5M258.5 642.0V648.1M259.5 642.1V647.7M260.5 644.3V650.1M261.5 641.7V649.3M262.5 645.1V650.8M263.5 644.0V651.0M264.5 641.9V651.3M265.5 642.2V652.6M266.5 643.9V649.8M267.5 641.4V653.1M268.5 638.8V650.1M269.5 640.4V648.1M270.5 642.6V650.5M271.5 645.9V650.2M272.5 642.7V650.0M273.5 641.8V649.3M274.5 642.7V648.8M275.5 642.8V650.5M276.5 643.3V650.5M277.5 643.9V649.5M278.5 642.9V649.2M279.5 639.1V649.0M280.5 638.8V649.1M281.5 642.2V652.0M282.5 642.3V651.0M283.5 643.4V650.5M284.5 640.6V651.4M285.5 642.8V652.2M286.5 642.9V650.0M287.5 641.7V651.8M288.5 644.1V650.8M289.5 640.4V649.0M290.5 642.6V648.5M291.5 641.2V650.1M292.5 642.2V648.2M293.5 641.2V650.3M294.5 644.7V652.8M295.5 642.4V648.2M296.5 641.3V651.1M297.5 641.9V650.9M298.5 644.6V652.5M299.5 644.5V650.0M300.5 641.2V648.0M301.5 640.5V647.4M302.5 643.1V651.0M303.5 642.7V650.5M304.5 644.2V654.2M305.5 644.8V650.4M306.5 644.1V652.4M307.5 640.0V651.4M308.5 640.0V649.1M309.5 643.4V650.6M310.5 641.7V649.7M311.5 643.6V649.7M312.5 642.8V650.0M313.5 640.9V648.5M314.5 642.3V649.8M315.5 642.0V650.1M316.5 642.4V649.9M317.5 641.5V649.3M318.5 644.4V650.2M319.5 643.0V650.5M320.5 643.4V650.1M321.5 640.3V648.6M322.5 641.3V649.1M323.5 643.6V651.7M324.5 643.4V651.9M325.5 643.3V650.8M326.5 642.5V652.6M327.5 642.7V652.9M328.5 644.1V652.8M329.5 645.2V653.1M330.5 642.4V652.1M331.5 640.5V648.5M332.5 643.1V649.2M333.5 643.7V653.6M334.5 644.7V650.6M335.5 644.2V654.5M336.5 641.0V651.8M337.5 642.9V649.2M338.5 643.5V652.2M339.5 640.9V650.0M340.5 645.3V650.7M341.5 639.3V648.5M342.5 642.0V647.6M343.5 643.1V653.5M344.5 644.9V652.1M345.5 643.0V650.8M346.5 639.2V650.1M347.5 641.1V652.0M348.5 641.3V650.3M349.5 644.4V650.5M350.5 643.6V651.1M351.5 642.3V651.6M352.5 643.0V649.3M353.5 644.1V652.6M354.5 644.9V649.6M355.5 641.3V651.9M356.5 641.7V649.6M357.5 642.3V648.1M358.5 639.8V647.6M359.5 644.3V648.6M360.5 645.8V649.6M361.5 641.7V650.5M362.5 643.9V649.5M363.5 642.9V648.3M364.5 642.8V649.5M365.5 644.6V652.3M366.5 642.2V649.6M367.5 640.3V648.2M368.5 643.1V648.6M369.5 643.6V649.8M370.5 642.5V650.4M371.5 643.6V652.1M372.5 640.6V649.2M373.5 639.7V649.8M374.5 642.3V650.0M375.5 644.6V652.1M376.5 643.9V648.9M377.5 642.2V647.1M378.5 643.1V648.4M379.5 643.9V649.3M380.5 645.6V650.8M381.5 641.2V650.2M382.5 642.3V648.3M383.5 643.4V649.6M384.5 644.3V648.9M385.5 643.2V650.0M386.5 643.8V650.0M387.5 643.0V648.5M388.5 639.7V650.8M389.5 641.1V652.2M390.5 643.9V653.0M391.5 644.8V649.8M392.5 645.0V649.6M393.5 640.9V650.3M394.5 643.7V648.5M395.5 642.9V648.3M396.5 645.0V649.8M397.5 641.1V650.7M398.5 643.6V651.5M399.5 642.4V648.8M400.5 638.6V647.9M401.5 641.8V649.2M402.5 644.9V651.7M403.5 643.9V650.4M404.5 644.2V649.5M405.5 642.1V651.6M406.5 641.7V649.5M407.5 640.9V650.8M408.5 643.7V652.8M409.5 641.9V653.8M410.5 644.0V649.2M411.5 642.9V648.4M412.5 643.5V649.5M413.5 642.2V648.2M414.5 644.5V652.8M415.5 641.5V648.9M416.5 642.1V649.3M417.5 642.3V647.9M418.5 645.5V653.0M419.5 644.1V650.7M420.5 641.0V651.7M421.5 643.8V650.7M422.5 642.3V648.5M423.5 643.9V650.2M424.5 644.4V649.9M425.5 644.5V649.9M426.5 643.3V649.8M427.5 641.9V649.7M428.5 643.1V651.1M429.5 644.2V650.1M430.5 642.6V649.9M431.5 644.2V649.6M432.5 643.0V651.5M433.5 643.2V647.4M434.5 641.9V649.4M435.5 645.5V652.1M436.5 641.5V648.7M437.5 642.1V651.7M438.5 642.8V648.1M439.5 644.3V650.0M440.5 644.0V650.7M441.5 643.5V650.0M442.5 642.9V650.6M443.5 641.1V651.2M444.5 643.6V648.9M445.5 644.5V650.4M446.5 644.7V650.0M447.5 641.8V649.1M448.5 639.4V647.0M449.5 643.4V651.8M450.5 640.9V649.9M451.5 642.3V650.4M452.5 642.5V651.2M453.5 642.2V650.1M454.5 642.9V649.0M455.5 642.6V652.9M456.5 645.0V650.0M457.5 640.4V650.4M458.5 641.2V649.8M459.5 644.2V649.0M460.5 643.1V649.5M461.5 643.2V648.7M462.5 640.4V648.7M463.5 643.0V651.6M464.5 643.7V650.7M465.5 644.7V652.6M466.5 641.3V652.1M467.5 643.4V651.0M468.5 640.5V649.7M469.5 642.6V648.9M470.5 645.0V650.6M471.5 645.5V649.7M472.5 641.4V647.3M473.5 642.6V649.0M474.5 643.6V651.6M475.5 645.5V649.1M476.5 643.9V651.3M477.5 640.4V651.3M478.5 642.0V648.0M479.5 642.5V652.4M480.5 641.9V653.5M481.5 643.7V651.4M482.5 641.4V651.6M483.5 640.2V648.0M484.5 640.9V649.1M485.5 645.3V650.6M486.5 643.9V652.2M487.5 643.1V649.2M488.5 640.9V648.0M489.5 640.8V648.6M490.5 645.1V650.4M491.5 643.1V650.8M492.5 640.6V648.2M493.5 643.4V650.5M494.5 639.9V648.0M495.5 645.1V651.1M496.5 644.6V649.3M497.5 640.9V651.5M498.5 643.1V648.2M499.5 641.4V647.8M500.5 640.2V649.8M501.5 645.3V651.8M502.5 645.4V650.1M503.5 644.3V647.4M504.5 643.0V648.0M505.5 641.8V648.8M506.5 643.7V652.1M507.5 641.1V650.4M508.5 644.0V649.4M509.5 643.3V648.3M510.5 640.4V648.8M511.5 643.7V649.1M512.5 644.5V652.1M513.5 643.0V649.4M514.5 644.0V649.2M515.5 642.5V650.3M516.5 643.7V650.4M517.5 643.8V651.3M518.5 644.1V648.9M519.5 642.0V650.4M520.5 645.0V651.5M521.5 644.5V650.4M522.5 642.8V648.8M523.5 641.3V648.5M524.5 641.2V651.3M525.5 644.0V651.7M526.5 644.6V649.5M527.5 642.7V648.8M528.5 642.2V647.3M529.5 640.5V648.9M530.5 643.5V650.2M531.5 644.0V653.6M532.5 645.2V653.0M533.5 643.2V648.5M534.5 639.2V648.6M535.5 641.3V650.3M536.5 646.3V653.0M537.5 644.4V649.9M538.5 643.1V651.6M539.5 643.2V648.9M540.5 641.0V648.8M541.5 641.9V650.0M542.5 641.6V652.5M543.5 641.7V649.9M544.5 640.6V648.2M545.5 643.9V649.3M546.5 643.8V650.5M547.5 642.6V650.4M548.5 642.9V647.0M549.5 641.8V649.4M550.5 644.1V648.3M551.5 640.7V652.2M552.5 643.4V651.2M553.5 643.5V649.7M554.5 643.1V648.5M555.5 642.8V648.7M556.5 644.9V649.3M557.5 645.2V650.6M558.5 644.3V649.7M559.5 642.4V651.6M560.5 643.6V648.7M561.5 644.7V650.2M562.5 645.0V651.4M563.5 643.3V651.1M564.5 643.0V648.9M565.5 643.7V649.5M566.5 644.5V649.5M567.5 644.4V651.0M568.5 642.2V651.6M569.5 643.3V650.4M570.5 642.2V647.0M571.5 641.7V649.2M572.5 645.0V650.4M573.5 641.3V650.2M574.5 644.1V653.0M575.5 641.0V648.4M576.5 643.3V650.9M577.5 645.7V652.0M578.5 644.0V653.1M579.5 639.5V648.2M580.5 639.7V648.5M581.5 639.5V656.2M582.5 641.4V659.0M583.5 642.9V660.3M584.5 641.9V655.0M585.5 638.1V651.3M586.5 639.6V650.0M587.5 638.3V658.0M588.5 641.4V654.7M589.5 639.9V657.4M590.5 642.0V649.3M591.5 640.6V648.7M592.5 635.8V652.9M593.5 640.9V650.0M594.5 643.9V651.8M595.5 641.2V658.3M596.5 635.5V654.1M597.5 640.6V649.0M598.5 641.0V653.7M599.5 642.8V657.1M600.5 638.2V652.3M601.5 641.3V653.2M602.5 640.1V652.1M603.5 638.4V656.7M604.5 643.8V652.7M605.5 643.2V651.5M606.5 639.0V649.2M607.5 639.9V654.3M608.5 641.3V652.5M609.5 645.7V654.4M610.5 641.4V652.1M611.5 638.5V651.5M612.5 637.6V647.7M613.5 637.8V651.2M614.5 640.8V655.7M615.5 643.5V653.0M616.5 640.1V652.0M617.5 641.2V649.2M618.5 641.2V653.0M619.5 643.2V651.2M620.5 643.8V653.2M621.5 644.1V652.7M622.5 641.2V650.9M623.5 640.5V652.1M624.5 641.0V649.2M625.5 644.4V651.4M626.5 643.5V656.1M627.5 643.3V654.8M628.5 640.1V650.2M629.5 636.1V654.7M630.5 644.4V652.0M631.5 641.7V653.2M632.5 645.2V650.5M633.5 637.9V653.3M634.5 640.8V647.1" fill="none" stroke="#0000ff" stroke-opacity="0.6" stroke-width="1"/><path d="M32.5 644.7V649.4M33.5 645.5V648.1M34.5 644.6V647.1M35.5 643.7V647.6M36.5 644.5V648.6M37.5 645.1V649.6M38.5 646.3V650.3M39.5 644.7V647.6M40.5 643.7V647.9M41.5 643.0V647.4M42.5 644.1V647.7M43.5 646.1V650.0M44.5 645.2V649.2M45.5 643.6V647.6M46.5 643.9V647.2M47.5 644.4V649.0M48.5 645.1V648.9M49.5 644.6V648.9M50.5 643.2V647.9M51.5 644.4V648.1M52.5 645.3V649.4M53.5 645.9V649.4M54.5 644.1V647.6M55.5 643.6V647.3M56.5 644.2V648.8M57.5 644.4V649.7M58.5 644.8V648.5M59.5 643.6V648.0M60.5 643.4V648.1M61.5 643.8V648.3M62.5 645.7V648.8M63.5 646.7V649.4M64.5 644.9V648.5M65.5 643.7V648.7M66.5 643.3V647.8M67.5 644.1V647.7M68.5 645.4V649.9M69.5 645.0V649.7M70.5 644.4V648.6M71.5 643.3V647.2M72.5 644.9V648.7M73.5 644.9V649.8M74.5 645.6V648.9M75.5 643.5V647.9M76.5 644.5V648.2M77.5 644.9V648.2M78.5 645.1V648.4M79.5 645.0V649.1M80.5 644.5V648.5M81.5 643.5V647.5M82.5 645.1V647.7M83.5 645.3V649.8M84.5 644.9V648.3M85.5 643.5V646.8M86.5 643.9V647.5M87.5 646.1V648.8M88.5 645.5V649.7M89.5 644.1V648.6M90.5 643.6V648.2M91.5 643.5V647.0M92.5 644.6V648.6M93.5 645.1V649.3M94.5 645.4V650.0M95.5 644.2V648.1M96.5 644.3V647.2M97.5 644.5V647.8M98.5 644.6V649.0M99.5 646.5V649.9M100.5 645.1V648.7M101.5 644.4V647.6M102.5 643.2V647.6M103.5 644.3V647.9M104.5 644.5V649.1M105.5 645.7V649.0M106.5 644.6V648.6M107.5 643.0V647.8M108.5 643.7V647.7M109.5 644.5V649.1M110.5 646.1V649.7M111.5 645.3V648.6M112.5 645.0V648.9M113.5 644.5V648.3M114.5 644.1V647.3M115.5 643.6V647.8M116.5 644.8V649.2M117.5 646.0V649.1M118.5 645.6V648.3M119.5 643.4V647.1M120.5 643.5V647.6M121.5 643.9V647.7M122.5 644.8V649.1M123.5 645.9V649.4M124.5 644.7V649.2M125.5 644.5V647.5M126.5 643.3V647.5M127.5 644.4V647.9M128.5 645.0V649.7M129.5 645.3V648.8M130.5 644.7V648.1M131.5 643.8V647.9M132.5 643.7V647.3M133.5 644.3V647.7M134.5 646.2V650.1M135.5 645.0V648.3M136.5 644.7V647.3M137.5 643.8V647.9M138.5 644.6V647.7M139.5 645.1V648.6M140.5 645.5V649.7M141.5 645.1V648.5M142.5 644.1V648.2M143.5 644.7V647.7M144.5 645.7V648.6M145.5 644.3V648.3M146.5 644.2V647.7M147.5 643.4V647.2M148.5 643.8V648.7M149.5 644.4V649.1M150.5 644.9V648.8M151.5 643.4V647.4M152.5 643.9V647.7M153.5 643.3V647.9M154.5 645.1V648.1M155.5 645.0V648.8M156.5 644.9V648.7M157.5 644.4V648.5M158.5 644.4V648.1M159.5 643.8V647.6M160.5 644.7V649.1M161.5 646.0V649.7M162.5 645.1V648.7M163.5 643.9V648.0M164.5 643.5V647.7M165.5 644.4V648.2M166.5 644.8V648.8M167.5 645.6V649.3M168.5 644.5V648.8M169.5 643.8V648.3M170.5 643.9V647.5M171.5 644.3V648.5M172.5 645.2V649.5M173.5 644.8V649.0M174.5 645.1V647.9M175.5 644.4V647.4M176.5 643.2V647.7M177.5 643.7V648.4M178.5 646.0V649.9M179.5 644.6V649.3M180.5 643.4V649.1M181.5 644.2V648.4M182.5 644.4V650.0M183.5 646.4V650.8M184.5 644.5V649.9M185.5 645.3V649.8M186.5 642.3V647.8M187.5 643.7V648.0M188.5 644.6V649.0M189.5 645.1V649.3M190.5 645.6V650.2M191.5 644.7V649.1M192.5 643.0V647.1M193.5 642.8V647.2M194.5 643.9V649.7M195.5 644.5V650.4M196.5 643.1V649.0M197.5 643.3V648.7M198.5 644.4V649.4M199.5 644.5V650.4M200.5 643.9V650.2M201.5 644.0V647.3M202.5 643.3V648.5M203.5 644.1V649.4M204.5 645.4V650.2M205.5 643.8V648.3M206.5 642.4V647.0M207.5 643.1V648.9M208.5 644.8V649.5M209.5 646.0V650.3M210.5 642.9V648.4M211.5 642.8V648.3M212.5 644.4V649.9M213.5 645.6V650.2M214.5 644.3V649.9M215.5 642.2V647.1M216.5 642.4V648.7M217.5 645.2V648.9M218.5 644.4V650.4M219.5 645.7V650.4M220.5 643.0V647.9M221.5 643.1V648.3M222.5 642.8V647.9M223.5 644.9V650.3M224.5 646.0V650.0M225.5 644.1V648.0M226.5 643.3V648.5M227.5 643.0V648.2M228.5 643.8V649.5M229.5 644.8V650.6M230.5 643.1V648.9M231.5 642.9V648.4M232.5 642.8V648.8M233.5 644.0V648.9M234.5 645.0V650.5M235.5 644.3V649.2M236.5 642.9V648.9M237.5 642.1V648.6M238.5 641.9V648.4M239.5 645.3V649.6M240.5 645.5V650.9M241.5 643.1V648.1M242.5 642.6V648.6M243.5 642.4V648.1M244.5 644.6V648.7M245.5 645.9V650.9M246.5 644.2V649.7M247.5 642.9V648.7M248.5 642.4V648.6M249.5 643.8V648.8M250.5 644.0V650.2M251.5 645.3V651.0M252.5 642.9V647.6M253.5 643.3V648.3M254.5 642.8V648.5M255.5 644.7V650.0M256.5 646.0V651.0M257.5 644.7V649.2M258.5 644.5V647.9M259.5 642.9V646.8M260.5 644.4V649.5M261.5 643.9V649.0M262.5 645.8V650.5M263.5 644.4V650.4M264.5 643.6V647.2M265.5 642.2V648.2M266.5 644.9V649.3M267.5 644.3V649.1M268.5 642.3V648.9M269.5 642.0V648.1M270.5 644.0V648.7M271.5 646.0V650.1M272.5 644.8V649.7M273.5 642.2V648.8M274.5 643.0V648.8M275.5 643.1V648.3M276.5 644.7V649.6M277.5 644.3V649.4M278.5 643.3V649.1M279.5 642.9V647.7M280.5 642.8V649.0M281.5 644.1V649.0M282.5 645.6V650.7M283.5 644.0V649.3M284.5 642.9V647.4M285.5 643.0V648.7M286.5 643.6V649.3M287.5 645.1V651.0M288.5 644.6V650.4M289.5 643.8V648.5M290.5 643.3V648.1M291.5 643.0V647.2M292.5 643.4V647.5M293.5 645.1V649.4M294.5 645.3V649.1M295.5 643.5V647.8M296.5 641.9V648.2M297.5 643.9V648.5M298.5 644.7V650.9M299.5 645.9V649.7M300.5 642.7V647.5M301.5 642.4V647.4M302.5 644.2V649.2M303.5 645.1V650.1M304.5 644.6V650.2M305.5 645.1V650.3M306.5 644.2V649.3M307.5 641.8V647.1M308.5 643.6V649.0M309.5 645.8V649.9M310.5 643.8V649.0M311.5 644.6V649.0M312.5 643.5V647.9M313.5 643.8V648.0M314.5 644.4V649.5M315.5 645.0V650.0M316.5 642.9V648.1M317.5 642.5V648.9M318.5 644.4V649.7M319.5 644.5V649.8M320.5 643.6V649.1M321.5 642.6V648.3M322.5 643.0V647.4M323.5 643.9V649.1M324.5 645.1V651.3M325.5 643.8V649.4M326.5 642.5V649.1M327.5 643.3V648.7M328.5 645.5V649.4M329.5 645.5V650.1M330.5 644.1V649.4M331.5 642.8V647.5M332.5 643.5V648.8M333.5 644.2V649.3M334.5 645.3V650.3M335.5 644.7V650.9M336.5 642.7V647.9M337.5 643.3V647.9M338.5 643.9V649.2M339.5 645.3V649.7M340.5 645.6V650.4M341.5 643.0V648.0M342.5 642.5V647.5M343.5 643.3V649.5M344.5 645.3V650.7M345.5 644.1V649.0M346.5 642.1V648.2M347.5 641.9V648.3M348.5 642.6V648.5M349.5 644.5V649.9M350.5 644.0V650.1M351.5 644.5V647.8M352.5 643.6V647.2M353.5 644.7V648.8M354.5 645.1V649.3M355.5 644.8V650.3M356.5 642.7V649.3M357.5 643.7V647.5M358.5 642.0V647.5M359.5 644.5V648.3M360.5 645.9V649.2M361.5 645.5V650.4M362.5 643.9V649.2M363.5 643.0V648.3M364.5 643.0V648.5M365.5 645.5V649.5M366.5 644.7V649.0M367.5 643.1V648.0M368.5 643.3V647.5M369.5 645.1V649.0M370.5 644.5V650.1M371.5 644.8V650.5M372.5 642.7V649.0M373.5 643.5V648.0M374.5 645.2V649.8M375.5 645.0V649.3M376.5 644.0V648.6M377.5 642.5V646.9M378.5 643.6V648.2M379.5 644.2V648.8M380.5 646.2V649.7M381.5 645.2V649.2M382.5 642.5V647.9M383.5 644.0V648.8M384.5 644.4V648.7M385.5 646.3V649.9M386.5 645.3V650.0M387.5 643.3V647.4M388.5 643.3V646.9M389.5 644.2V648.3M390.5 644.4V649.3M391.5 645.7V649.1M392.5 645.2V649.5M393.5 643.2V648.7M394.5 643.7V648.4M395.5 643.5V648.2M396.5 645.1V649.5M397.5 644.4V649.7M398.5 644.2V649.3M399.5 642.6V648.7M400.5 642.1V647.6M401.5 643.3V648.3M402.5 645.2V649.9M403.5 644.9V650.1M404.5 644.5V649.1M405.5 643.4V648.3M406.5 642.9V648.1M407.5 644.8V649.2M408.5 644.4V650.1M409.5 644.6V650.3M410.5 644.7V649.1M411.5 643.5V647.7M412.5 643.8V647.8M413.5 643.9V648.1M414.5 645.3V650.2M415.5 644.7V648.6M416.5 644.1V648.7M417.5 643.5V647.1M418.5 645.6V650.3M419.5 645.2V650.7M420.5 643.8V648.1M421.5 644.1V647.2M422.5 643.1V648.0M423.5 644.4V649.2M424.5 644.6V649.2M425.5 645.2V649.3M426.5 643.5V648.9M427.5 642.4V647.0M428.5 644.0V648.1M429.5 645.0V649.7M430.5 645.3V649.6M431.5 645.2V649.2M432.5 643.7V648.0M433.5 643.6V647.3M434.5 645.4V649.1M435.5 645.5V649.4M436.5 644.6V648.4M437.5 644.0V648.8M438.5 644.0V647.9M439.5 644.5V649.4M440.5 645.6V650.0M441.5 644.2V649.6M442.5 643.1V647.9M443.5 643.4V647.4M444.5 644.6V648.2M445.5 645.4V649.8M446.5 646.2V649.6M447.5 643.5V648.7M448.5 642.9V646.8M449.5 644.3V648.6M450.5 644.2V649.3M451.5 645.5V650.3M452.5 643.1V648.8M453.5 643.1V647.8M454.5 643.8V648.8M455.5 646.1V649.7M456.5 645.2V649.4M457.5 643.4V648.4M458.5 643.6V648.5M459.5 644.4V648.6M460.5 644.7V648.9M461.5 644.4V648.4M462.5 642.5V648.0M463.5 643.8V648.3M464.5 644.3V650.1M465.5 646.5V650.1M466.5 644.8V648.6M467.5 644.0V648.7M468.5 642.4V647.4M469.5 644.4V648.8M470.5 645.5V650.1M471.5 646.0V649.4M472.5 643.9V647.2M473.5 643.0V647.6M474.5 644.2V648.1M475.5 645.8V648.8M476.5 644.9V650.6M477.5 644.2V648.8M478.5 642.5V647.0M479.5 644.4V649.2M480.5 644.6V650.2M481.5 644.2V649.5M482.5 642.8V648.4M483.5 643.2V647.3M484.5 644.6V649.0M485.5 645.8V650.5M486.5 644.7V649.6M487.5 644.6V649.2M488.5 642.9V647.6M489.5 644.0V648.0M490.5 645.3V650.2M491.5 645.0V650.4M492.5 643.3V647.9M493.5 643.8V647.7M494.5 642.7V647.8M495.5 645.3V649.8M496.5 645.2V649.2M497.5 644.0V649.2M498.5 643.4V648.1M499.5 642.7V647.2M500.5 643.8V649.2M501.5 645.4V650.1M502.5 645.6V649.1M503.5 644.3V647.3M504.5 643.2V647.7M505.5 644.3V648.7M506.5 644.6V650.0M507.5 644.1V648.5M508.5 644.3V648.8M509.5 643.8V648.3M510.5 642.8V647.3M511.5 643.8V649.1M512.5 645.7V649.7M513.5 645.4V649.2M514.5 644.3V648.7M515.5 643.3V648.3M516.5 644.0V648.6M517.5 644.5V649.6M518.5 644.3V648.8M519.5 642.2V647.4M520.5 645.3V648.9M521.5 645.4V650.3M522.5 645.0V648.8M523.5 643.0V648.1M524.5 643.4V647.9M525.5 644.7V649.5M526.5 644.8V649.3M527.5 643.8V648.7M528.5 642.8V647.0M529.5 643.6V648.3M530.5 644.3V650.2M531.5 644.9V650.7M532.5 645.5V649.7M533.5 643.6V647.9M534.5 642.8V648.2M535.5 643.6V648.8M536.5 646.4V649.7M537.5 645.1V649.8M538.5 643.3V647.9M539.5 643.8V648.5M540.5 644.0V647.9M541.5 644.8V649.6M542.5 645.3V650.2M543.5 644.5V647.8M544.5 642.7V647.6M545.5 644.9V648.7M546.5 645.7V650.2M547.5 644.6V648.8M548.5 644.0V646.9M549.5 643.6V648.4M550.5 644.5V647.5M551.5 644.3V649.9M552.5 645.8V650.9M553.5 643.8V649.4M554.5 643.4V647.8M555.5 643.5V647.5M556.5 645.1V649.2M557.5 645.2V650.4M558.5 644.8V649.0M559.5 643.7V647.8M560.5 643.6V648.6M561.5 645.0V649.8M562.5 645.3V650.5M563.5 643.5V648.4M564.5 644.0V648.3M565.5 643.9V648.8M566.5 645.0V649.3M567.5 645.1V651.0M568.5 644.2V649.1M569.5 643.7V648.2M570.5 642.6V646.7M571.5 645.0V648.3M572.5 645.0V650.2M573.5 645.1V649.2M574.5 644.2V649.9M575.5 643.0V647.5M576.5 643.8V648.1M577.5 646.1V650.4M578.5 645.6V650.4M579.5 641.6V647.7M580.5 641.0V647.6M581.5 642.5V651.4M582.5 642.4V653.1M583.5 644.2V654.3M584.5 642.9V653.1M585.5 639.8V648.7M586.5 639.7V649.2M587.5 641.9V651.7M588.5 644.0V654.3M589.5 642.5V653.5M590.5 642.7V649.0M591.5 642.0V648.3M592.5 642.5V648.0M593.5 643.1V649.7M594.5 644.9V650.8M595.5 643.3V652.3M596.5 640.8V648.3M597.5 640.7V648.9M598.5 643.7V651.3M599.5 643.9V652.8M600.5 642.4V650.7M601.5 641.5V648.2M602.5 643.8V650.8M603.5 644.3V651.3M604.5 643.8V651.8M605.5 643.8V651.3M606.5 643.0V648.3M607.5 640.1V649.2M608.5 642.2V649.7M609.5 645.9V651.8M610.5 642.9V651.1M611.5 642.1V650.1M612.5 640.3V647.1M613.5 641.8V650.0M614.5 643.3V651.2M615.5 644.8V651.7M616.5 642.3V650.5M617.5 642.4V649.1M618.5 642.4V649.2M619.5 643.7V651.0M620.5 643.9V650.4M621.5 644.6V652.1M622.5 642.6V650.5M623.5 642.2V648.2M624.5 641.1V648.6M625.5 644.5V650.1M626.5 644.0V650.4M627.5 643.3V652.2M628.5 641.0V649.2M629.5 641.8V649.4M630.5 644.7V650.9M631.5 645.8V652.2M632.5 645.5V649.9M633.5 641.1V647.7M634.5 641.3V647.0" fill="none" stroke="#0000ff" stroke-width="1"/><path d="M146.6 640.0V668.0M178.3 635.0V659.6M194.4 640.0V693.6M228.2 640.0V669.6M244.7 626.5V663.0M257.9 632.0V714.7M293.4 640.0V692.0M297.2 630.3V664.4M309.5 640.0V695.5M327.4 640.0V659.6M331.3 640.0V716.0M392.7 631.3V797.5M396.3 634.4V710.0M419.0 640.0V659.6M512.6 633.0V675.0M544.0 626.0V658.0M583.0 621.2V672.0M586.2 621.2V665.6M612.6 623.0V665.6" fill="none" stroke="#0000ff" stroke-opacity="0.45" stroke-width="1"/>
<text transform="translate(9,716) rotate(-90)" text-anchor="middle" font-weight="bold">Z (nT)</text>
<defs><linearGradient id="g2_0" gradientUnits="userSpaceOnUse" x1="0" y1="700" x2="0" y2="748"><stop offset="0.000" stop-color="#131313"/><stop offset="0.500" stop-color="#3d3d3d"/><stop offset="1.000" stop-color="#131313"/></linearGradient><linearGradient id="g2_1" gradientUnits="userSpaceOnUse" x1="0" y1="729" x2="0" y2="787"><stop offset="0.000" stop-color="#191919"/><stop offset="0.414" stop-color="#494949"/><stop offset="0.690" stop-color="#3f3f3f"/><stop offset="1.000" stop-color="#131313"/></linearGradient><linearGradient id="g2_2" gradientUnits="userSpaceOnUse" x1="0" y1="657" x2="0" y2="806"><stop offset="0.000" stop-color="#131313"/><stop offset="0.356" stop-color="#606060"/><stop offset="0.678" stop-color="#6c6c6c"/><stop offset="0.852" stop-color="#686868"/><stop offset="0.953" stop-color="#474747"/><stop offset="1.000" stop-color="#131313"/></linearGradient><linearGradient id="g2_3" gradientUnits="userSpaceOnUse" x1="0" y1="758" x2="0" y2="803"><stop offset="0.000" stop-color="#191919"/><stop offset="0.578" stop-color="#3f3f3f"/><stop offset="1.000" stop-color="#141414"/></linearGradient><linearGradient id="g2_4" gradientUnits="userSpaceOnUse" x1="0" y1="614" x2="0" y2="734"><stop offset="0.000" stop-color="#999999"/><stop offset="0.200" stop-color="#999999"/><stop offset="0.600" stop-color="#585858"/><stop offset="1.000" stop-color="#131313"/></linearGradient><linearGradient id="g2_5" gradientUnits="userSpaceOnUse" x1="0" y1="703" x2="0" y2="792"><stop offset="0.000" stop-color="#131313"/><stop offset="0.348" stop-color="#434343"/><stop offset="0.618" stop-color="#474747"/><stop offset="0.798" stop-color="#3c3c3c"/><stop offset="1.000" stop-color="#131313"/></linearGradient><linearGradient id="g2_6" gradientUnits="userSpaceOnUse" x1="0" y1="655" x2="0" y2="820"><stop offset="0.000" stop-color="#131313"/><stop offset="0.188" stop-color="#818181"/><stop offset="0.333" stop-color="#a6a6a6"/><stop offset="0.436" stop-color="#c0c0c0"/><stop offset="0.564" stop-color="#c0c0c0"/><stop offset="0.661" stop-color="#a0a0a0"/><stop offset="0.842" stop-color="#7e7e7e"/><stop offset="1.000" stop-color="#6d6d6d"/></linearGradient><linearGradient id="g2_7" gradientUnits="userSpaceOnUse" x1="0" y1="614" x2="0" y2="820"><stop offset="0.000" stop-color="#b2b2b2"/><stop offset="0.194" stop-color="#8f8f8f"/><stop offset="0.350" stop-color="#686868"/><stop offset="0.485" stop-color="#444444"/><stop offset="0.583" stop-color="#555555"/><stop offset="0.757" stop-color="#7b7b7b"/><stop offset="0.898" stop-color="#686868"/><stop offset="1.000" stop-color="#4f4f4f"/></linearGradient><linearGradient id="g2_8" gradientUnits="userSpaceOnUse" x1="0" y1="703" x2="0" y2="814"><stop offset="0.000" stop-color="#131313"/><stop offset="0.279" stop-color="#555555"/><stop offset="0.640" stop-color="#686868"/><stop offset="0.838" stop-color="#5b5b5b"/><stop offset="0.955" stop-color="#292929"/><stop offset="1.000" stop-color="#0d0d0d"/></linearGradient><linearGradient id="g2_9" gradientUnits="userSpaceOnUse" x1="0" y1="614" x2="0" y2="686"><stop offset="0.000" stop-color="#727272"/><stop offset="0.556" stop-color="#666666"/><stop offset="1.000" stop-color="#131313"/></linearGradient><linearGradient id="g2_10" gradientUnits="userSpaceOnUse" x1="0" y1="643" x2="0" y2="820"><stop offset="0.000" stop-color="#1f1f1f"/><stop offset="0.175" stop-color="#888888"/><stop offset="0.379" stop-color="#969696"/><stop offset="0.678" stop-color="#969696"/><stop offset="0.797" stop-color="#6e6e6e"/><stop offset="1.000" stop-color="#636363"/></linearGradient><linearGradient id="g2_11" gradientUnits="userSpaceOnUse" x1="0" y1="614" x2="0" y2="724"><stop offset="0.000" stop-color="#585858"/><stop offset="0.364" stop-color="#4e4e4e"/><stop offset="0.700" stop-color="#6d6d6d"/><stop offset="0.873" stop-color="#555555"/><stop offset="1.000" stop-color="#191919"/></linearGradient><linearGradient id="g2_12" gradientUnits="userSpaceOnUse" x1="0" y1="722" x2="0" y2="813"><stop offset="0.000" stop-color="#1f1f1f"/><stop offset="0.242" stop-color="#555555"/><stop offset="0.571" stop-color="#686868"/><stop offset="0.846" stop-color="#5a5a5a"/><stop offset="1.000" stop-color="#181818"/></linearGradient><linearGradient id="g2_13" gradientUnits="userSpaceOnUse" x1="0" y1="686" x2="0" y2="770"><stop offset="0.000" stop-color="#131313"/><stop offset="0.452" stop-color="#414141"/><stop offset="1.000" stop-color="#131313"/></linearGradient><linearGradient id="g2_14" gradientUnits="userSpaceOnUse" x1="0" y1="614" x2="0" y2="806"><stop offset="0.000" stop-color="#b2b2b2"/><stop offset="0.250" stop-color="#7f7f7f"/><stop offset="0.469" stop-color="#686868"/><stop offset="0.625" stop-color="#707070"/><stop offset="0.812" stop-color="#474747"/><stop offset="1.000" stop-color="#232323"/></linearGradient><linearGradient id="g2_15" gradientUnits="userSpaceOnUse" x1="0" y1="614" x2="0" y2="679"><stop offset="0.000" stop-color="#e9e9e9"/><stop offset="0.769" stop-color="#e2e2e2"/><stop offset="1.000" stop-color="#828282"/></linearGradient><linearGradient id="g2_16" gradientUnits="userSpaceOnUse" x1="0" y1="614" x2="0" y2="679"><stop offset="0.000" stop-color="#c6c6c6"/><stop offset="0.769" stop-color="#bebebe"/><stop offset="1.000" stop-color="#828282"/></linearGradient><linearGradient id="g2_17" gradientUnits="userSpaceOnUse" x1="0" y1="669" x2="0" y2="820"><stop offset="0.000" stop-color="#737373"/><stop offset="0.132" stop-color="#919191"/><stop offset="0.232" stop-color="#909090"/><stop offset="0.351" stop-color="#888888"/><stop offset="0.589" stop-color="#9c9c9c"/><stop offset="0.728" stop-color="#6c6c6c"/><stop offset="0.861" stop-color="#686868"/><stop offset="1.000" stop-color="#555555"/></linearGradient><linearGradient id="g2_18" gradientUnits="userSpaceOnUse" x1="0" y1="722" x2="0" y2="758"><stop offset="0.000" stop-color="#131313"/><stop offset="0.472" stop-color="#4c4c4c"/><stop offset="1.000" stop-color="#131313"/></linearGradient><linearGradient id="g2_19" gradientUnits="userSpaceOnUse" x1="0" y1="727" x2="0" y2="754"><stop offset="0.000" stop-color="#292929"/><stop offset="0.444" stop-color="#555555"/><stop offset="1.000" stop-color="#5e5e5e"/></linearGradient><linearGradient id="g2_20" gradientUnits="userSpaceOnUse" x1="0" y1="727" x2="0" y2="754"><stop offset="0.000" stop-color="#292929"/><stop offset="0.444" stop-color="#555555"/><stop offset="1.000" stop-color="#5e5e5e"/></linearGradient><linearGradient id="g2_21" gradientUnits="userSpaceOnUse" x1="0" y1="748" x2="0" y2="814"><stop offset="0.000" stop-color="#606060"/><stop offset="0.515" stop-color="#777777"/><stop offset="0.848" stop-color="#606060"/><stop offset="1.000" stop-color="#161616"/></linearGradient><linearGradient id="g2_22" gradientUnits="userSpaceOnUse" x1="0" y1="731" x2="0" y2="820"><stop offset="0.000" stop-color="#191919"/><stop offset="0.258" stop-color="#616161"/><stop offset="0.517" stop-color="#808080"/><stop offset="0.820" stop-color="#6b6b6b"/><stop offset="1.000" stop-color="#525252"/></linearGradient><linearGradient id="g2_23" gradientUnits="userSpaceOnUse" x1="0" y1="729" x2="0" y2="767"><stop offset="0.000" stop-color="#0c0c0c"/><stop offset="0.526" stop-color="#3d3d3d"/><stop offset="1.000" stop-color="#0c0c0c"/></linearGradient><linearGradient id="g2_24" gradientUnits="userSpaceOnUse" x1="0" y1="614" x2="0" y2="746"><stop offset="0.000" stop-color="#3d3d3d"/><stop offset="0.227" stop-color="#707070"/><stop offset="0.545" stop-color="#666666"/><stop offset="1.000" stop-color="#131313"/></linearGradient><linearGradient id="g2_25" gradientUnits="userSpaceOnUse" x1="0" y1="669" x2="0" y2="815"><stop offset="0.000" stop-color="#1f1f1f"/><stop offset="0.281" stop-color="#4f4f4f"/><stop offset="0.514" stop-color="#454545"/><stop offset="0.788" stop-color="#3d3d3d"/><stop offset="1.000" stop-color="#131313"/></linearGradient><linearGradient id="g2_26" gradientUnits="userSpaceOnUse" x1="0" y1="614" x2="0" y2="686"><stop offset="0.000" stop-color="#a3a3a3"/><stop offset="0.556" stop-color="#999999"/><stop offset="1.000" stop-color="#1f1f1f"/></linearGradient><linearGradient id="g2_27" gradientUnits="userSpaceOnUse" x1="0" y1="614" x2="0" y2="746"><stop offset="0.000" stop-color="#d9d9d9"/><stop offset="0.455" stop-color="#d0d0d0"/><stop offset="0.727" stop-color="#707070"/><stop offset="1.000" stop-color="#131313"/></linearGradient><linearGradient id="g2_28" gradientUnits="userSpaceOnUse" x1="0" y1="655" x2="0" y2="693"><stop offset="0.000" stop-color="#131313"/><stop offset="0.500" stop-color="#5c5c5c"/><stop offset="1.000" stop-color="#131313"/></linearGradient><linearGradient id="g2_29" gradientUnits="userSpaceOnUse" x1="0" y1="753" x2="0" y2="820"><stop offset="0.000" stop-color="#191919"/><stop offset="0.164" stop-color="#444444"/><stop offset="0.388" stop-color="#555555"/><stop offset="0.537" stop-color="#606060"/><stop offset="1.000" stop-color="#585858"/></linearGradient><linearGradient id="g2_30" gradientUnits="userSpaceOnUse" x1="0" y1="748" x2="0" y2="789"><stop offset="0.000" stop-color="#1f1f1f"/><stop offset="0.268" stop-color="#555555"/><stop offset="0.756" stop-color="#555555"/><stop offset="1.000" stop-color="#555555"/></linearGradient><linearGradient id="g2_31" gradientUnits="userSpaceOnUse" x1="0" y1="614" x2="0" y2="686"><stop offset="0.000" stop-color="#b2b2b2"/><stop offset="0.694" stop-color="#a3a3a3"/><stop offset="1.000" stop-color="#1f1f1f"/></linearGradient><linearGradient id="g2_32" gradientUnits="userSpaceOnUse" x1="0" y1="717" x2="0" y2="782"><stop offset="0.000" stop-color="#1f1f1f"/><stop offset="0.338" stop-color="#434343"/><stop offset="0.554" stop-color="#525252"/><stop offset="0.800" stop-color="#474747"/><stop offset="1.000" stop-color="#191919"/></linearGradient><linearGradient id="g2_33" gradientUnits="userSpaceOnUse" x1="0" y1="674" x2="0" y2="734"><stop offset="0.000" stop-color="#0c0c0c"/><stop offset="0.500" stop-color="#3d3d3d"/><stop offset="1.000" stop-color="#0c0c0c"/></linearGradient><clipPath id="cp2"><rect x="826" y="614" width="603" height="205"/></clipPath></defs><g clip-path="url(#cp2)"><g filter="url(#jetf)" style="isolation:isolate"><rect x="816" y="604" width="623" height="225" fill="#000"/><path style="mix-blend-mode:lighten" d="M829.3 700.0L828.9 724.0L829.3 748.0L831.3 748.0L831.7 724.0L831.3 700.0Z" fill="url(#g2_0)" opacity="0.200"/><path style="mix-blend-mode:lighten" d="M833.7 729.0L831.4 753.0L832.0 769.0L834.1 787.0L836.1 787.0L838.2 769.0L838.8 753.0L836.5 729.0Z" fill="url(#g2_1)" opacity="0.200"/><path style="mix-blend-mode:lighten" d="M968.2 657.0L967.8 710.0L966.8 758.0L965.9 784.0L966.8 799.0L969.0 806.0L973.0 806.0L975.2 799.0L976.1 784.0L975.2 758.0L971.8 710.0L970.2 657.0Z" fill="url(#g2_2)" opacity="0.200"/><path style="mix-blend-mode:lighten" d="M960.6 758.0L958.8 784.0L962.0 803.0L967.0 803.0L967.2 784.0L963.4 758.0Z" fill="url(#g2_3)" opacity="0.200"/><path style="mix-blend-mode:lighten" d="M982.8 614.0L982.8 638.0L983.1 686.0L983.2 734.0L985.2 734.0L985.3 686.0L985.6 638.0L985.6 614.0Z" fill="url(#g2_4)" opacity="0.200"/><path style="mix-blend-mode:lighten" d="M1022.5 703.0L1019.8 734.0L1017.8 758.0L1017.6 774.0L1020.0 792.0L1022.0 792.0L1024.4 774.0L1026.2 758.0L1026.6 734.0L1024.5 703.0Z" fill="url(#g2_5)" opacity="0.200"/><path style="mix-blend-mode:lighten" d="M1033.0 655.0L1032.0 686.0L1030.2 710.0L1029.2 727.0L1029.2 748.0L1029.0 764.0L1027.7 794.0L1026.8 820.0L1042.2 820.0L1041.3 794.0L1041.0 764.0L1041.2 748.0L1041.2 727.0L1039.8 710.0L1037.0 686.0L1035.0 655.0Z" fill="url(#g2_6)" opacity="0.200"/><path style="mix-blend-mode:lighten" d="M1045.4 614.0L1045.1 654.0L1041.9 686.0L1044.5 714.0L1042.8 734.0L1039.7 770.0L1039.7 799.0L1040.2 820.0L1053.8 820.0L1054.3 799.0L1054.3 770.0L1051.2 734.0L1049.5 714.0L1052.1 686.0L1048.5 654.0L1048.2 614.0Z" fill="url(#g2_7)" opacity="0.200"/><path style="mix-blend-mode:lighten" d="M1066.5 703.0L1063.2 734.0L1059.5 774.0L1059.5 796.0L1062.1 809.0L1065.5 814.0L1068.9 814.0L1072.3 809.0L1074.9 796.0L1074.9 774.0L1071.8 734.0L1068.5 703.0Z" fill="url(#g2_8)" opacity="0.200"/><path style="mix-blend-mode:lighten" d="M1080.4 614.0L1080.2 654.0L1080.6 686.0L1082.6 686.0L1083.0 654.0L1082.8 614.0Z" fill="url(#g2_9)" opacity="0.200"/><path style="mix-blend-mode:lighten" d="M1084.5 643.0L1083.0 674.0L1080.1 710.0L1080.1 763.0L1078.2 784.0L1077.7 820.0L1092.3 820.0L1091.8 784.0L1090.3 763.0L1090.3 710.0L1088.0 674.0L1086.5 643.0Z" fill="url(#g2_10)" opacity="0.200"/><path style="mix-blend-mode:lighten" d="M1096.4 614.0L1096.8 654.0L1094.4 691.0L1095.2 710.0L1098.1 724.0L1100.9 724.0L1103.8 710.0L1104.6 691.0L1100.2 654.0L1098.6 614.0Z" fill="url(#g2_11)" opacity="0.200"/><path style="mix-blend-mode:lighten" d="M1105.7 722.0L1102.5 744.0L1099.0 774.0L1098.2 799.0L1103.3 813.0L1110.1 813.0L1115.2 799.0L1114.4 774.0L1111.0 744.0L1107.7 722.0Z" fill="url(#g2_12)" opacity="0.200"/><path style="mix-blend-mode:lighten" d="M1111.7 686.0L1111.0 724.0L1111.7 770.0L1113.7 770.0L1114.4 724.0L1113.7 686.0Z" fill="url(#g2_13)" opacity="0.200"/><path style="mix-blend-mode:lighten" d="M1117.3 614.0L1116.7 662.0L1113.6 704.0L1112.4 734.0L1113.8 770.0L1116.3 806.0L1119.7 806.0L1122.2 770.0L1124.6 734.0L1123.8 704.0L1120.7 662.0L1120.1 614.0Z" fill="url(#g2_14)" opacity="0.200"/><path style="mix-blend-mode:lighten" d="M1177.7 614.0L1178.0 664.0L1178.7 679.0L1182.1 679.0L1181.0 664.0L1180.7 614.0Z" fill="url(#g2_15)" opacity="0.200"/><path style="mix-blend-mode:lighten" d="M1181.4 614.0L1181.1 664.0L1178.7 679.0L1182.1 679.0L1183.9 664.0L1184.2 614.0Z" fill="url(#g2_16)" opacity="0.200"/><path style="mix-blend-mode:lighten" d="M1178.4 669.0L1177.0 689.0L1176.3 704.0L1177.0 722.0L1177.0 758.0L1176.2 779.0L1175.3 799.0L1176.2 820.0L1184.7 820.0L1185.5 799.0L1184.7 779.0L1180.4 758.0L1182.0 722.0L1184.5 704.0L1183.8 689.0L1182.4 669.0Z" fill="url(#g2_17)" opacity="0.200"/><path style="mix-blend-mode:lighten" d="M1182.0 722.0L1181.6 739.0L1182.0 758.0L1184.0 758.0L1184.4 739.0L1184.0 722.0Z" fill="url(#g2_18)" opacity="0.200"/><path style="mix-blend-mode:lighten" d="M1193.3 727.0L1192.5 739.0L1192.8 754.0L1201.2 754.0L1197.5 739.0L1196.1 727.0Z" fill="url(#g2_19)" opacity="0.200"/><path style="mix-blend-mode:lighten" d="M1200.6 727.0L1199.2 739.0L1195.2 754.0L1203.8 754.0L1204.3 739.0L1203.4 727.0Z" fill="url(#g2_20)" opacity="0.200"/><path style="mix-blend-mode:lighten" d="M1193.2 748.0L1191.8 782.0L1193.2 804.0L1196.6 814.0L1200.0 814.0L1203.4 804.0L1204.8 782.0L1203.4 748.0Z" fill="url(#g2_21)" opacity="0.200"/><path style="mix-blend-mode:lighten" d="M1256.8 731.0L1253.4 754.0L1252.1 777.0L1252.2 804.0L1253.1 820.0L1263.3 820.0L1264.2 804.0L1264.3 777.0L1263.0 754.0L1259.6 731.0Z" fill="url(#g2_22)" opacity="0.200"/><path style="mix-blend-mode:lighten" d="M1279.6 729.0L1279.5 749.0L1279.6 767.0L1281.6 767.0L1281.7 749.0L1281.6 729.0Z" fill="url(#g2_23)" opacity="0.200"/><path style="mix-blend-mode:lighten" d="M1294.6 614.0L1294.3 644.0L1294.6 686.0L1296.0 746.0L1298.0 746.0L1297.4 686.0L1297.1 644.0L1296.8 614.0Z" fill="url(#g2_24)" opacity="0.200"/><path style="mix-blend-mode:lighten" d="M1308.0 669.0L1306.7 710.0L1307.0 744.0L1305.7 784.0L1307.2 815.0L1309.2 815.0L1310.8 784.0L1311.0 744.0L1312.9 710.0L1310.0 669.0Z" fill="url(#g2_25)" opacity="0.200"/><path style="mix-blend-mode:lighten" d="M1326.7 614.0L1326.7 654.0L1327.1 686.0L1329.1 686.0L1329.5 654.0L1329.5 614.0Z" fill="url(#g2_26)" opacity="0.200"/><path style="mix-blend-mode:lighten" d="M1366.0 614.0L1366.0 674.0L1366.1 710.0L1366.0 746.0L1368.0 746.0L1368.9 710.0L1369.4 674.0L1369.4 614.0Z" fill="url(#g2_27)" opacity="0.200"/><path style="mix-blend-mode:lighten" d="M1374.3 655.0L1373.9 674.0L1374.3 693.0L1376.3 693.0L1376.7 674.0L1376.3 655.0Z" fill="url(#g2_28)" opacity="0.200"/><path style="mix-blend-mode:lighten" d="M1361.1 753.0L1360.2 764.0L1360.8 779.0L1362.4 789.0L1362.4 820.0L1372.6 820.0L1372.6 789.0L1369.2 779.0L1365.2 764.0L1363.9 753.0Z" fill="url(#g2_29)" opacity="0.200"/><path style="mix-blend-mode:lighten" d="M1371.3 748.0L1370.3 759.0L1367.1 779.0L1364.2 789.0L1372.8 789.0L1373.9 779.0L1374.3 759.0L1373.3 748.0Z" fill="url(#g2_30)" opacity="0.200"/><path style="mix-blend-mode:lighten" d="M1393.6 614.0L1393.6 664.0L1394.0 686.0L1396.0 686.0L1396.4 664.0L1396.4 614.0Z" fill="url(#g2_31)" opacity="0.200"/><path style="mix-blend-mode:lighten" d="M1393.0 717.0L1390.6 739.0L1388.9 753.0L1389.8 769.0L1392.6 782.0L1395.4 782.0L1398.2 769.0L1399.1 753.0L1397.4 739.0L1395.0 717.0Z" fill="url(#g2_32)" opacity="0.200"/><path style="mix-blend-mode:lighten" d="M1398.3 674.0L1398.2 704.0L1398.3 734.0L1400.3 734.0L1400.4 704.0L1400.3 674.0Z" fill="url(#g2_33)" opacity="0.200"/><path style="mix-blend-mode:lighten" d="M829.5 700.0L829.3 724.0L829.5 748.0L831.1 748.0L831.3 724.0L831.1 700.0Z" fill="url(#g2_0)" opacity="0.312"/><path style="mix-blend-mode:lighten" d="M834.1 729.0L832.2 753.0L832.8 769.0L834.3 787.0L835.9 787.0L837.4 769.0L838.0 753.0L836.1 729.0Z" fill="url(#g2_1)" opacity="0.312"/><path style="mix-blend-mode:lighten" d="M968.4 657.0L968.2 710.0L967.8 758.0L967.1 784.0L967.8 799.0L969.4 806.0L972.6 806.0L974.2 799.0L974.9 784.0L974.2 758.0L971.4 710.0L970.0 657.0Z" fill="url(#g2_2)" opacity="0.312"/><path style="mix-blend-mode:lighten" d="M961.0 758.0L959.8 784.0L962.5 803.0L966.5 803.0L966.2 784.0L963.0 758.0Z" fill="url(#g2_3)" opacity="0.312"/><path style="mix-blend-mode:lighten" d="M983.2 614.0L983.2 638.0L983.3 686.0L983.4 734.0L985.0 734.0L985.1 686.0L985.2 638.0L985.2 614.0Z" fill="url(#g2_4)" opacity="0.312"/><path style="mix-blend-mode:lighten" d="M1022.7 703.0L1020.6 734.0L1018.8 758.0L1018.4 774.0L1020.2 792.0L1021.8 792.0L1023.6 774.0L1025.2 758.0L1025.8 734.0L1024.3 703.0Z" fill="url(#g2_5)" opacity="0.312"/><path style="mix-blend-mode:lighten" d="M1033.2 655.0L1032.5 686.0L1031.4 710.0L1030.7 727.0L1030.7 748.0L1030.5 764.0L1029.3 794.0L1028.7 820.0L1040.3 820.0L1039.7 794.0L1039.5 764.0L1039.8 748.0L1039.8 727.0L1038.6 710.0L1036.5 686.0L1034.8 655.0Z" fill="url(#g2_6)" opacity="0.312"/><path style="mix-blend-mode:lighten" d="M1045.8 614.0L1045.5 654.0L1043.1 686.0L1045.0 714.0L1043.8 734.0L1041.4 770.0L1041.4 799.0L1041.8 820.0L1052.2 820.0L1052.6 799.0L1052.6 770.0L1050.2 734.0L1049.0 714.0L1050.9 686.0L1048.1 654.0L1047.8 614.0Z" fill="url(#g2_7)" opacity="0.312"/><path style="mix-blend-mode:lighten" d="M1066.7 703.0L1064.2 734.0L1061.4 774.0L1061.4 796.0L1063.3 809.0L1065.9 814.0L1068.5 814.0L1071.1 809.0L1073.0 796.0L1073.0 774.0L1070.8 734.0L1068.3 703.0Z" fill="url(#g2_8)" opacity="0.312"/><path style="mix-blend-mode:lighten" d="M1080.7 614.0L1080.6 654.0L1080.8 686.0L1082.4 686.0L1082.6 654.0L1082.5 614.0Z" fill="url(#g2_9)" opacity="0.312"/><path style="mix-blend-mode:lighten" d="M1084.7 643.0L1083.5 674.0L1081.3 710.0L1081.3 763.0L1079.8 784.0L1079.4 820.0L1090.6 820.0L1090.2 784.0L1089.1 763.0L1089.1 710.0L1087.5 674.0L1086.3 643.0Z" fill="url(#g2_10)" opacity="0.312"/><path style="mix-blend-mode:lighten" d="M1096.6 614.0L1097.2 654.0L1095.6 691.0L1096.2 710.0L1098.5 724.0L1100.5 724.0L1102.8 710.0L1103.4 691.0L1099.8 654.0L1098.4 614.0Z" fill="url(#g2_11)" opacity="0.312"/><path style="mix-blend-mode:lighten" d="M1105.9 722.0L1103.5 744.0L1100.9 774.0L1100.2 799.0L1104.1 813.0L1109.3 813.0L1113.2 799.0L1112.5 774.0L1110.0 744.0L1107.5 722.0Z" fill="url(#g2_12)" opacity="0.312"/><path style="mix-blend-mode:lighten" d="M1111.9 686.0L1111.4 724.0L1111.9 770.0L1113.5 770.0L1114.0 724.0L1113.5 686.0Z" fill="url(#g2_13)" opacity="0.312"/><path style="mix-blend-mode:lighten" d="M1117.7 614.0L1117.1 662.0L1114.8 704.0L1113.8 734.0L1114.8 770.0L1116.7 806.0L1119.3 806.0L1121.2 770.0L1123.2 734.0L1122.6 704.0L1120.3 662.0L1119.7 614.0Z" fill="url(#g2_14)" opacity="0.312"/><path style="mix-blend-mode:lighten" d="M1178.0 614.0L1178.3 664.0L1179.1 679.0L1181.7 679.0L1180.7 664.0L1180.4 614.0Z" fill="url(#g2_15)" opacity="0.312"/><path style="mix-blend-mode:lighten" d="M1181.7 614.0L1181.4 664.0L1179.1 679.0L1181.7 679.0L1183.6 664.0L1183.9 614.0Z" fill="url(#g2_16)" opacity="0.312"/><path style="mix-blend-mode:lighten" d="M1178.8 669.0L1177.8 689.0L1177.3 704.0L1177.5 722.0L1177.4 758.0L1177.2 779.0L1176.5 799.0L1177.2 820.0L1183.7 820.0L1184.3 799.0L1183.7 779.0L1180.0 758.0L1181.5 722.0L1183.5 704.0L1183.0 689.0L1182.0 669.0Z" fill="url(#g2_17)" opacity="0.312"/><path style="mix-blend-mode:lighten" d="M1182.2 722.0L1182.0 739.0L1182.2 758.0L1183.8 758.0L1184.0 739.0L1183.8 722.0Z" fill="url(#g2_18)" opacity="0.312"/><path style="mix-blend-mode:lighten" d="M1193.7 727.0L1193.0 739.0L1193.8 754.0L1200.2 754.0L1197.0 739.0L1195.7 727.0Z" fill="url(#g2_19)" opacity="0.312"/><path style="mix-blend-mode:lighten" d="M1201.0 727.0L1199.8 739.0L1196.2 754.0L1202.8 754.0L1203.8 739.0L1203.0 727.0Z" fill="url(#g2_20)" opacity="0.312"/><path style="mix-blend-mode:lighten" d="M1194.4 748.0L1193.4 782.0L1194.4 804.0L1197.0 814.0L1199.6 814.0L1202.2 804.0L1203.2 782.0L1202.2 748.0Z" fill="url(#g2_21)" opacity="0.312"/><path style="mix-blend-mode:lighten" d="M1257.2 731.0L1254.6 754.0L1253.5 777.0L1253.7 804.0L1254.3 820.0L1262.1 820.0L1262.8 804.0L1262.9 777.0L1261.8 754.0L1259.2 731.0Z" fill="url(#g2_22)" opacity="0.312"/><path style="mix-blend-mode:lighten" d="M1279.8 729.0L1279.8 749.0L1279.8 767.0L1281.4 767.0L1281.4 749.0L1281.4 729.0Z" fill="url(#g2_23)" opacity="0.312"/><path style="mix-blend-mode:lighten" d="M1294.9 614.0L1294.7 644.0L1295.0 686.0L1296.2 746.0L1297.8 746.0L1297.0 686.0L1296.7 644.0L1296.5 614.0Z" fill="url(#g2_24)" opacity="0.312"/><path style="mix-blend-mode:lighten" d="M1308.2 669.0L1307.5 710.0L1307.4 744.0L1306.2 784.0L1307.4 815.0L1309.0 815.0L1310.2 784.0L1310.6 744.0L1312.1 710.0L1309.8 669.0Z" fill="url(#g2_25)" opacity="0.312"/><path style="mix-blend-mode:lighten" d="M1327.1 614.0L1327.1 654.0L1327.3 686.0L1328.9 686.0L1329.1 654.0L1329.1 614.0Z" fill="url(#g2_26)" opacity="0.312"/><path style="mix-blend-mode:lighten" d="M1366.4 614.0L1366.4 674.0L1366.5 710.0L1366.2 746.0L1367.8 746.0L1368.5 710.0L1369.0 674.0L1369.0 614.0Z" fill="url(#g2_27)" opacity="0.312"/><path style="mix-blend-mode:lighten" d="M1374.5 655.0L1374.3 674.0L1374.5 693.0L1376.1 693.0L1376.3 674.0L1376.1 655.0Z" fill="url(#g2_28)" opacity="0.312"/><path style="mix-blend-mode:lighten" d="M1361.5 753.0L1360.8 764.0L1361.8 779.0L1363.6 789.0L1363.6 820.0L1371.4 820.0L1371.4 789.0L1368.2 779.0L1364.7 764.0L1363.5 753.0Z" fill="url(#g2_29)" opacity="0.312"/><path style="mix-blend-mode:lighten" d="M1371.5 748.0L1370.7 759.0L1367.9 779.0L1365.2 789.0L1371.8 789.0L1373.1 779.0L1373.9 759.0L1373.1 748.0Z" fill="url(#g2_30)" opacity="0.312"/><path style="mix-blend-mode:lighten" d="M1394.0 614.0L1394.0 664.0L1394.2 686.0L1395.8 686.0L1396.0 664.0L1396.0 614.0Z" fill="url(#g2_31)" opacity="0.312"/><path style="mix-blend-mode:lighten" d="M1393.2 717.0L1391.4 739.0L1390.1 753.0L1390.8 769.0L1393.0 782.0L1395.0 782.0L1397.2 769.0L1397.9 753.0L1396.6 739.0L1394.8 717.0Z" fill="url(#g2_32)" opacity="0.312"/><path style="mix-blend-mode:lighten" d="M1398.5 674.0L1398.5 704.0L1398.5 734.0L1400.1 734.0L1400.1 704.0L1400.1 674.0Z" fill="url(#g2_33)" opacity="0.312"/><path style="mix-blend-mode:lighten" d="M829.8 700.0L829.6 724.0L829.8 748.0L830.8 748.0L831.0 724.0L830.8 700.0Z" fill="url(#g2_0)" opacity="0.545"/><path style="mix-blend-mode:lighten" d="M834.4 729.0L833.1 753.0L833.5 769.0L834.6 787.0L835.6 787.0L836.7 769.0L837.1 753.0L835.8 729.0Z" fill="url(#g2_1)" opacity="0.545"/><path style="mix-blend-mode:lighten" d="M968.7 657.0L968.7 710.0L968.8 758.0L968.3 784.0L968.8 799.0L969.9 806.0L972.1 806.0L973.2 799.0L973.7 784.0L973.2 758.0L970.9 710.0L969.7 657.0Z" fill="url(#g2_2)" opacity="0.545"/><path style="mix-blend-mode:lighten" d="M961.3 758.0L960.8 784.0L963.1 803.0L965.9 803.0L965.2 784.0L962.7 758.0Z" fill="url(#g2_3)" opacity="0.545"/><path style="mix-blend-mode:lighten" d="M983.5 614.0L983.5 638.0L983.6 686.0L983.7 734.0L984.7 734.0L984.8 686.0L984.9 638.0L984.9 614.0Z" fill="url(#g2_4)" opacity="0.545"/><path style="mix-blend-mode:lighten" d="M1023.0 703.0L1021.4 734.0L1019.8 758.0L1019.2 774.0L1020.5 792.0L1021.5 792.0L1022.8 774.0L1024.2 758.0L1025.0 734.0L1024.0 703.0Z" fill="url(#g2_5)" opacity="0.545"/><path style="mix-blend-mode:lighten" d="M1033.5 655.0L1033.2 686.0L1032.5 710.0L1032.0 727.0L1032.0 748.0L1031.8 764.0L1030.9 794.0L1030.5 820.0L1038.5 820.0L1038.1 794.0L1038.2 764.0L1038.4 748.0L1038.4 727.0L1037.5 710.0L1035.8 686.0L1034.5 655.0Z" fill="url(#g2_6)" opacity="0.545"/><path style="mix-blend-mode:lighten" d="M1046.1 614.0L1045.9 654.0L1044.3 686.0L1045.7 714.0L1044.8 734.0L1043.1 770.0L1043.1 799.0L1043.4 820.0L1050.6 820.0L1050.9 799.0L1050.9 770.0L1049.2 734.0L1048.3 714.0L1049.7 686.0L1047.7 654.0L1047.5 614.0Z" fill="url(#g2_7)" opacity="0.545"/><path style="mix-blend-mode:lighten" d="M1067.0 703.0L1065.2 734.0L1063.2 774.0L1063.2 796.0L1064.5 809.0L1066.3 814.0L1068.1 814.0L1069.9 809.0L1071.2 796.0L1071.2 774.0L1069.8 734.0L1068.0 703.0Z" fill="url(#g2_8)" opacity="0.545"/><path style="mix-blend-mode:lighten" d="M1081.0 614.0L1080.9 654.0L1081.1 686.0L1082.1 686.0L1082.3 654.0L1082.2 614.0Z" fill="url(#g2_9)" opacity="0.545"/><path style="mix-blend-mode:lighten" d="M1085.0 643.0L1084.2 674.0L1082.5 710.0L1082.5 763.0L1081.4 784.0L1081.1 820.0L1088.9 820.0L1088.6 784.0L1087.9 763.0L1087.9 710.0L1086.8 674.0L1086.0 643.0Z" fill="url(#g2_10)" opacity="0.545"/><path style="mix-blend-mode:lighten" d="M1096.9 614.0L1097.6 654.0L1096.8 691.0L1097.2 710.0L1098.8 724.0L1100.2 724.0L1101.8 710.0L1102.2 691.0L1099.4 654.0L1098.1 614.0Z" fill="url(#g2_11)" opacity="0.545"/><path style="mix-blend-mode:lighten" d="M1106.2 722.0L1104.5 744.0L1102.7 774.0L1102.2 799.0L1104.9 813.0L1108.5 813.0L1111.2 799.0L1110.8 774.0L1109.0 744.0L1107.2 722.0Z" fill="url(#g2_12)" opacity="0.545"/><path style="mix-blend-mode:lighten" d="M1112.2 686.0L1111.8 724.0L1112.2 770.0L1113.2 770.0L1113.6 724.0L1113.2 686.0Z" fill="url(#g2_13)" opacity="0.545"/><path style="mix-blend-mode:lighten" d="M1118.0 614.0L1117.6 662.0L1116.0 704.0L1115.3 734.0L1115.8 770.0L1117.1 806.0L1118.9 806.0L1120.2 770.0L1121.7 734.0L1121.4 704.0L1119.8 662.0L1119.4 614.0Z" fill="url(#g2_14)" opacity="0.545"/><path style="mix-blend-mode:lighten" d="M1178.4 614.0L1178.7 664.0L1179.5 679.0L1181.3 679.0L1180.3 664.0L1180.0 614.0Z" fill="url(#g2_15)" opacity="0.545"/><path style="mix-blend-mode:lighten" d="M1182.1 614.0L1181.8 664.0L1179.5 679.0L1181.3 679.0L1183.2 664.0L1183.5 614.0Z" fill="url(#g2_16)" opacity="0.545"/><path style="mix-blend-mode:lighten" d="M1179.3 669.0L1178.6 689.0L1178.2 704.0L1178.2 722.0L1177.8 758.0L1178.2 779.0L1177.7 799.0L1178.2 820.0L1182.7 820.0L1183.1 799.0L1182.7 779.0L1179.6 758.0L1180.8 722.0L1182.6 704.0L1182.2 689.0L1181.5 669.0Z" fill="url(#g2_17)" opacity="0.545"/><path style="mix-blend-mode:lighten" d="M1182.5 722.0L1182.3 739.0L1182.5 758.0L1183.5 758.0L1183.7 739.0L1183.5 722.0Z" fill="url(#g2_18)" opacity="0.545"/><path style="mix-blend-mode:lighten" d="M1194.0 727.0L1193.7 739.0L1194.8 754.0L1199.2 754.0L1196.3 739.0L1195.4 727.0Z" fill="url(#g2_19)" opacity="0.545"/><path style="mix-blend-mode:lighten" d="M1201.3 727.0L1200.5 739.0L1197.2 754.0L1201.8 754.0L1203.1 739.0L1202.7 727.0Z" fill="url(#g2_20)" opacity="0.545"/><path style="mix-blend-mode:lighten" d="M1195.6 748.0L1194.9 782.0L1195.6 804.0L1197.4 814.0L1199.2 814.0L1201.0 804.0L1201.7 782.0L1201.0 748.0Z" fill="url(#g2_21)" opacity="0.545"/><path style="mix-blend-mode:lighten" d="M1257.5 731.0L1255.7 754.0L1255.0 777.0L1255.0 804.0L1255.5 820.0L1260.9 820.0L1261.4 804.0L1261.4 777.0L1260.7 754.0L1258.9 731.0Z" fill="url(#g2_22)" opacity="0.545"/><path style="mix-blend-mode:lighten" d="M1280.1 729.0L1280.0 749.0L1280.1 767.0L1281.1 767.0L1281.2 749.0L1281.1 729.0Z" fill="url(#g2_23)" opacity="0.545"/><path style="mix-blend-mode:lighten" d="M1295.1 614.0L1295.0 644.0L1295.3 686.0L1296.5 746.0L1297.5 746.0L1296.7 686.0L1296.4 644.0L1296.3 614.0Z" fill="url(#g2_24)" opacity="0.545"/><path style="mix-blend-mode:lighten" d="M1308.5 669.0L1308.2 710.0L1307.9 744.0L1306.9 784.0L1307.7 815.0L1308.7 815.0L1309.5 784.0L1310.1 744.0L1311.4 710.0L1309.5 669.0Z" fill="url(#g2_25)" opacity="0.545"/><path style="mix-blend-mode:lighten" d="M1327.4 614.0L1327.4 654.0L1327.6 686.0L1328.6 686.0L1328.8 654.0L1328.8 614.0Z" fill="url(#g2_26)" opacity="0.545"/><path style="mix-blend-mode:lighten" d="M1366.8 614.0L1366.8 674.0L1366.8 710.0L1366.5 746.0L1367.5 746.0L1368.2 710.0L1368.6 674.0L1368.6 614.0Z" fill="url(#g2_27)" opacity="0.545"/><path style="mix-blend-mode:lighten" d="M1374.8 655.0L1374.6 674.0L1374.8 693.0L1375.8 693.0L1376.0 674.0L1375.8 655.0Z" fill="url(#g2_28)" opacity="0.545"/><path style="mix-blend-mode:lighten" d="M1361.8 753.0L1361.4 764.0L1362.8 779.0L1364.8 789.0L1364.8 820.0L1370.2 820.0L1370.2 789.0L1367.2 779.0L1364.0 764.0L1363.2 753.0Z" fill="url(#g2_29)" opacity="0.545"/><path style="mix-blend-mode:lighten" d="M1371.8 748.0L1371.2 759.0L1368.7 779.0L1366.2 789.0L1370.8 789.0L1372.3 779.0L1373.4 759.0L1372.8 748.0Z" fill="url(#g2_30)" opacity="0.545"/><path style="mix-blend-mode:lighten" d="M1394.3 614.0L1394.3 664.0L1394.5 686.0L1395.5 686.0L1395.7 664.0L1395.7 614.0Z" fill="url(#g2_31)" opacity="0.545"/><path style="mix-blend-mode:lighten" d="M1393.5 717.0L1392.2 739.0L1391.3 753.0L1391.8 769.0L1393.3 782.0L1394.7 782.0L1396.2 769.0L1396.7 753.0L1395.8 739.0L1394.5 717.0Z" fill="url(#g2_32)" opacity="0.545"/><path style="mix-blend-mode:lighten" d="M1398.8 674.0L1398.7 704.0L1398.8 734.0L1399.8 734.0L1399.9 704.0L1399.8 674.0Z" fill="url(#g2_33)" opacity="0.545"/><path style="mix-blend-mode:lighten" d="M830.0 700.0L829.9 724.0L830.0 748.0L830.6 748.0L830.7 724.0L830.6 700.0Z" fill="url(#g2_0)"/><path style="mix-blend-mode:lighten" d="M834.7 729.0L834.1 753.0L834.3 769.0L834.8 787.0L835.4 787.0L835.9 769.0L836.1 753.0L835.5 729.0Z" fill="url(#g2_1)"/><path style="mix-blend-mode:lighten" d="M968.9 657.0L969.3 710.0L969.9 758.0L969.6 784.0L969.9 799.0L970.5 806.0L971.5 806.0L972.1 799.0L972.4 784.0L972.1 758.0L970.3 710.0L969.5 657.0Z" fill="url(#g2_2)"/><path style="mix-blend-mode:lighten" d="M961.6 758.0L961.9 784.0L963.8 803.0L965.2 803.0L964.1 784.0L962.4 758.0Z" fill="url(#g2_3)"/><path style="mix-blend-mode:lighten" d="M983.8 614.0L983.8 638.0L983.9 686.0L983.9 734.0L984.5 734.0L984.5 686.0L984.6 638.0L984.6 614.0Z" fill="url(#g2_4)"/><path style="mix-blend-mode:lighten" d="M1023.2 703.0L1022.3 734.0L1020.9 758.0L1020.1 774.0L1020.7 792.0L1021.3 792.0L1021.9 774.0L1023.1 758.0L1024.1 734.0L1023.8 703.0Z" fill="url(#g2_5)"/><path style="mix-blend-mode:lighten" d="M1033.7 655.0L1033.8 686.0L1033.7 710.0L1033.6 727.0L1033.6 748.0L1033.4 764.0L1032.7 794.0L1032.5 820.0L1036.5 820.0L1036.3 794.0L1036.6 764.0L1036.8 748.0L1036.8 727.0L1036.3 710.0L1035.2 686.0L1034.3 655.0Z" fill="url(#g2_6)"/><path style="mix-blend-mode:lighten" d="M1046.4 614.0L1046.3 654.0L1045.7 686.0L1046.3 714.0L1045.9 734.0L1045.1 770.0L1045.1 799.0L1045.2 820.0L1048.8 820.0L1048.9 799.0L1048.9 770.0L1048.1 734.0L1047.7 714.0L1048.3 686.0L1047.2 654.0L1047.2 614.0Z" fill="url(#g2_7)"/><path style="mix-blend-mode:lighten" d="M1067.2 703.0L1066.4 734.0L1065.2 774.0L1065.2 796.0L1065.9 809.0L1066.8 814.0L1067.7 814.0L1068.5 809.0L1069.2 796.0L1069.2 774.0L1068.6 734.0L1067.8 703.0Z" fill="url(#g2_8)"/><path style="mix-blend-mode:lighten" d="M1081.3 614.0L1081.2 654.0L1081.3 686.0L1081.9 686.0L1082.0 654.0L1081.9 614.0Z" fill="url(#g2_9)"/><path style="mix-blend-mode:lighten" d="M1085.2 643.0L1084.8 674.0L1083.9 710.0L1083.9 763.0L1083.2 784.0L1083.1 820.0L1086.9 820.0L1086.8 784.0L1086.5 763.0L1086.5 710.0L1086.2 674.0L1085.8 643.0Z" fill="url(#g2_10)"/><path style="mix-blend-mode:lighten" d="M1097.2 614.0L1098.0 654.0L1098.2 691.0L1098.4 710.0L1099.1 724.0L1099.9 724.0L1100.6 710.0L1100.8 691.0L1099.0 654.0L1097.8 614.0Z" fill="url(#g2_11)"/><path style="mix-blend-mode:lighten" d="M1106.4 722.0L1105.6 744.0L1104.7 774.0L1104.5 799.0L1105.8 813.0L1107.6 813.0L1109.0 799.0L1108.7 774.0L1107.8 744.0L1107.0 722.0Z" fill="url(#g2_12)"/><path style="mix-blend-mode:lighten" d="M1112.4 686.0L1112.2 724.0L1112.4 770.0L1113.0 770.0L1113.2 724.0L1113.0 686.0Z" fill="url(#g2_13)"/><path style="mix-blend-mode:lighten" d="M1118.3 614.0L1118.2 662.0L1117.4 704.0L1116.9 734.0L1116.9 770.0L1117.5 806.0L1118.5 806.0L1119.1 770.0L1120.1 734.0L1120.0 704.0L1119.2 662.0L1119.1 614.0Z" fill="url(#g2_14)"/><path style="mix-blend-mode:lighten" d="M1178.8 614.0L1179.1 664.0L1180.0 679.0L1180.9 679.0L1179.9 664.0L1179.6 614.0Z" fill="url(#g2_15)"/><path style="mix-blend-mode:lighten" d="M1182.4 614.0L1182.1 664.0L1180.0 679.0L1180.9 679.0L1182.9 664.0L1183.2 614.0Z" fill="url(#g2_16)"/><path style="mix-blend-mode:lighten" d="M1179.9 669.0L1179.5 689.0L1179.3 704.0L1178.8 722.0L1178.2 758.0L1179.3 779.0L1179.1 799.0L1179.3 820.0L1181.5 820.0L1181.8 799.0L1181.5 779.0L1179.2 758.0L1180.2 722.0L1181.5 704.0L1181.3 689.0L1180.9 669.0Z" fill="url(#g2_17)"/><path style="mix-blend-mode:lighten" d="M1182.7 722.0L1182.6 739.0L1182.7 758.0L1183.3 758.0L1183.4 739.0L1183.3 722.0Z" fill="url(#g2_18)"/><path style="mix-blend-mode:lighten" d="M1194.3 727.0L1194.3 739.0L1195.9 754.0L1198.1 754.0L1195.7 739.0L1195.1 727.0Z" fill="url(#g2_19)"/><path style="mix-blend-mode:lighten" d="M1201.6 727.0L1201.1 739.0L1198.4 754.0L1200.6 754.0L1202.5 739.0L1202.4 727.0Z" fill="url(#g2_20)"/><path style="mix-blend-mode:lighten" d="M1197.0 748.0L1196.6 782.0L1197.0 804.0L1197.8 814.0L1198.8 814.0L1199.6 804.0L1200.0 782.0L1199.6 748.0Z" fill="url(#g2_21)"/><path style="mix-blend-mode:lighten" d="M1257.8 731.0L1256.9 754.0L1256.6 777.0L1256.6 804.0L1256.9 820.0L1259.5 820.0L1259.8 804.0L1259.8 777.0L1259.5 754.0L1258.6 731.0Z" fill="url(#g2_22)"/><path style="mix-blend-mode:lighten" d="M1280.3 729.0L1280.3 749.0L1280.3 767.0L1280.9 767.0L1280.9 749.0L1280.9 729.0Z" fill="url(#g2_23)"/><path style="mix-blend-mode:lighten" d="M1295.4 614.0L1295.3 644.0L1295.6 686.0L1296.7 746.0L1297.3 746.0L1296.4 686.0L1296.1 644.0L1296.0 614.0Z" fill="url(#g2_24)"/><path style="mix-blend-mode:lighten" d="M1308.7 669.0L1309.0 710.0L1308.5 744.0L1307.5 784.0L1307.9 815.0L1308.5 815.0L1308.9 784.0L1309.5 744.0L1310.6 710.0L1309.3 669.0Z" fill="url(#g2_25)"/><path style="mix-blend-mode:lighten" d="M1327.7 614.0L1327.7 654.0L1327.8 686.0L1328.4 686.0L1328.5 654.0L1328.5 614.0Z" fill="url(#g2_26)"/><path style="mix-blend-mode:lighten" d="M1367.2 614.0L1367.2 674.0L1367.1 710.0L1366.7 746.0L1367.3 746.0L1367.9 710.0L1368.2 674.0L1368.2 614.0Z" fill="url(#g2_27)"/><path style="mix-blend-mode:lighten" d="M1375.0 655.0L1374.9 674.0L1375.0 693.0L1375.6 693.0L1375.7 674.0L1375.6 655.0Z" fill="url(#g2_28)"/><path style="mix-blend-mode:lighten" d="M1362.1 753.0L1362.0 764.0L1363.9 779.0L1366.2 789.0L1366.2 820.0L1368.8 820.0L1368.8 789.0L1366.1 779.0L1363.4 764.0L1362.9 753.0Z" fill="url(#g2_29)"/><path style="mix-blend-mode:lighten" d="M1372.0 748.0L1371.8 759.0L1369.6 779.0L1367.4 789.0L1369.6 789.0L1371.4 779.0L1372.8 759.0L1372.6 748.0Z" fill="url(#g2_30)"/><path style="mix-blend-mode:lighten" d="M1394.6 614.0L1394.6 664.0L1394.7 686.0L1395.3 686.0L1395.4 664.0L1395.4 614.0Z" fill="url(#g2_31)"/><path style="mix-blend-mode:lighten" d="M1393.7 717.0L1393.1 739.0L1392.7 753.0L1392.9 769.0L1393.6 782.0L1394.4 782.0L1395.1 769.0L1395.3 753.0L1394.9 739.0L1394.3 717.0Z" fill="url(#g2_32)"/><path style="mix-blend-mode:lighten" d="M1399.0 674.0L1399.0 704.0L1399.0 734.0L1399.6 734.0L1399.6 704.0L1399.6 674.0Z" fill="url(#g2_33)"/></g></g><path d="M826.5 614v5M826.5 819v-5M901.5 614v5M901.5 819v-5M977.5 614v5M977.5 819v-5M1052.5 614v5M1052.5 819v-5M1128.5 614v5M1128.5 819v-5M1203.5 614v5M1203.5 819v-5M1278.5 614v5M1278.5 819v-5M1354.5 614v5M1354.5 819v-5M1428.5 614v5M1428.5 819v-5M826 816.3h6M1429 816.3h-6M826 751.5h6M1429 751.5h-6M826 705.6h6M1429 705.6h-6M826 670.0h6M1429 670.0h-6M826 640.9h6M1429 640.9h-6M826 616.2h6M1429 616.2h-6" stroke="#000" stroke-opacity="0.35" stroke-width="1" fill="none"/><rect x="826" y="614" width="603" height="1" fill="#000" fill-opacity="0.28"/><rect x="826" y="614" width="1" height="205" fill="#000" fill-opacity="0.12"/>
<text x="826" y="833" text-anchor="middle">00:00</text>
<text x="901" y="833" text-anchor="middle">03:00</text>
<text x="977" y="833" text-anchor="middle">06:00</text>
<text x="1052" y="833" text-anchor="middle">09:00</text>
<text x="1128" y="833" text-anchor="middle">12:00</text>
<text x="1203" y="833" text-anchor="middle">15:00</text>
<text x="1278" y="833" text-anchor="middle">18:00</text>
<text x="1354" y="833" text-anchor="middle">21:00</text>
<text x="1429" y="833" text-anchor="middle">00:00</text>
<text x="822" y="820.3" text-anchor="end">2</text>
<text x="822" y="755.5472222351261" text-anchor="end">3</text>
<text x="822" y="709.6043952645767" text-anchor="end">4</text>
<text x="822" y="673.9683701196974" text-anchor="end">5</text>
<text x="822" y="644.8516174997028" text-anchor="end">6</text>
<text x="822" y="620.2337539312897" text-anchor="end">7</text>
<text transform="translate(806.5,716) rotate(-90)" text-anchor="middle" font-weight="bold">freq (mHz)</text>
<rect x="1448" y="614" width="25" height="205" fill="url(#jetgrad)"/>
<rect x="1472" y="614" width="1" height="205" fill="rgba(0,0,0,0.25)"/>
<text x="1476.7" y="822.9" text-anchor="start">0</text>
<text x="1476.7" y="788.9" text-anchor="start">1</text>
<path d="M1448 784.5h3M1473 784.5h-3" stroke="#000" stroke-opacity="0.55" fill="none"/>
<text x="1476.7" y="754.9" text-anchor="start">2</text>
<path d="M1448 750.5h3M1473 750.5h-3" stroke="#000" stroke-opacity="0.55" fill="none"/>
<text x="1476.7" y="720.9" text-anchor="start">3</text>
<path d="M1448 716.5h3M1473 716.5h-3" stroke="#000" stroke-opacity="0.55" fill="none"/>
<text x="1476.7" y="686.9" text-anchor="start">4</text>
<path d="M1448 682.5h3M1473 682.5h-3" stroke="#000" stroke-opacity="0.55" fill="none"/>
<text x="1476.7" y="652.9" text-anchor="start">5</text>
<path d="M1448 648.5h3M1473 648.5h-3" stroke="#000" stroke-opacity="0.55" fill="none"/>
<text x="1476.7" y="618.9" text-anchor="start">6</text>
<text transform="translate(1504,716) rotate(-90)" text-anchor="middle" font-weight="bold">log<tspan dy="4.5" font-size="9.5px">2</tspan><tspan dy="-4.5">(nT</tspan><tspan dy="-5.5" font-size="9.5px">2</tspan><tspan dy="5.5">/Hz)</tspan></text>
<text x="334" y="848" text-anchor="middle" font-weight="bold">UT (hours)</text>
<text x="1127.5" y="848" text-anchor="middle" font-weight="bold">UT (hours)</text>
</svg></body></html>
